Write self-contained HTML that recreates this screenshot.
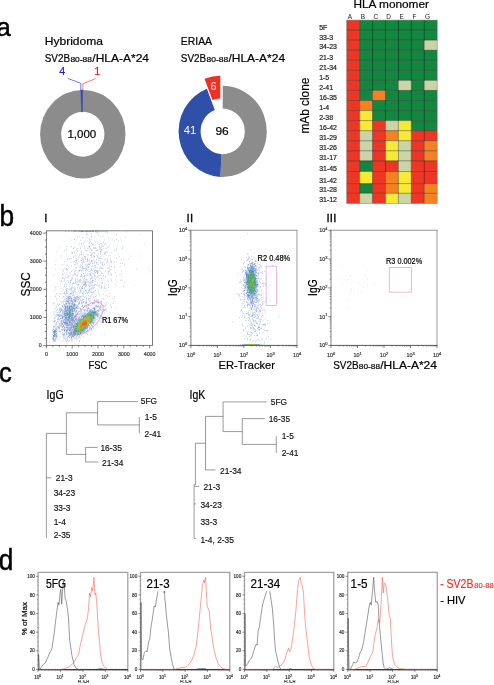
<!DOCTYPE html>
<html lang="en">
<head>
<meta charset="utf-8">
<title>Figure</title>
<style>
html,body{margin:0;padding:0;background:#fff;}
body{width:494px;height:685px;overflow:hidden;}
svg{display:block;font-family:"Liberation Sans",sans-serif;}
</style>
</head>
<body>
<svg width="494" height="685" viewBox="0 0 494 685">
<rect width="494" height="685" fill="#fff"/>
<g id="panel-a">
<text transform="translate(-3.40,35.70) scale(0.97,1)" font-size="26.5" stroke="#000" stroke-width="0.5">a</text>
<ellipse cx="82.8" cy="134.2" rx="42.7" ry="44.2" fill="#8c8c8c"/>
<ellipse cx="82.8" cy="134.2" rx="21.6" ry="22.5" fill="#fff"/>
<path d="M80.9 90L82.6 90L82.4 112L81.6 112Z" fill="#3049b8" stroke="#3049b8" stroke-width="0.5"/>
<path d="M68 78.5L80.8 83.3V91" fill="none" stroke="#2b3fe0" stroke-width="0.7"/>
<path d="M95.8 78.5L82.9 83.7V90.5" fill="none" stroke="#f0433a" stroke-width="0.7"/>
<text x="44.70" y="45.30" font-size="11.00" textLength="58.30" lengthAdjust="spacingAndGlyphs" stroke="#000" stroke-width="0.2">Hybridoma</text>
<text x="44.70" y="62.20" font-size="11.20" textLength="25.30" lengthAdjust="spacingAndGlyphs" stroke="#000" stroke-width="0.2">SV2B</text>
<text x="70.40" y="62.20" font-size="7.20" textLength="21.60" lengthAdjust="spacingAndGlyphs" stroke="#000" stroke-width="0.2">80-88</text>
<text x="92.30" y="62.20" font-size="11.20" textLength="56.70" lengthAdjust="spacingAndGlyphs" stroke="#000" stroke-width="0.2">/HLA-A*24</text>
<text x="59.20" y="75.10" font-size="10.80" fill="#1a1aee" stroke="#1a1aee" stroke-width="0.2">4</text>
<text x="94.20" y="75.10" font-size="10.80" fill="#f01c1c" stroke="#f01c1c" stroke-width="0.2">1</text>
<text x="67.40" y="138.20" font-size="11.40" textLength="28.80" lengthAdjust="spacingAndGlyphs" stroke="#000" stroke-width="0.2">1,000</text>
<path d="M222.70 85.80A44.1 45.6 0 1 1 220.39 176.94L221.54 154.17A22.1 22.8 0 1 0 222.70 108.60Z" fill="#8c8c8c"/>
<path d="M220.39 176.94A44.1 45.6 0 0 1 206.90 88.83L214.78 110.11A22.1 22.8 0 0 0 221.54 154.17Z" fill="#2f4fa8"/>
<path d="M204.50 78.73A44.1 45.6 0 0 1 220.30 75.70L220.30 98.50A22.1 22.8 0 0 0 212.38 100.01Z" fill="#ee3124"/>
<text x="210.40" y="89.90" font-size="11.40" textLength="6.00" lengthAdjust="spacingAndGlyphs" fill="#fff">6</text>
<text x="183.80" y="134.40" font-size="11.40" textLength="12.50" lengthAdjust="spacingAndGlyphs" fill="#fff">41</text>
<text x="215.40" y="135.40" font-size="11.40" textLength="13.30" lengthAdjust="spacingAndGlyphs" stroke="#000" stroke-width="0.2">96</text>
<text x="180.80" y="45.30" font-size="11.00" textLength="31.20" lengthAdjust="spacingAndGlyphs" stroke="#000" stroke-width="0.2">ERIAA</text>
<text x="180.80" y="62.20" font-size="11.20" textLength="25.30" lengthAdjust="spacingAndGlyphs" stroke="#000" stroke-width="0.2">SV2B</text>
<text x="206.50" y="62.20" font-size="7.20" textLength="21.60" lengthAdjust="spacingAndGlyphs" stroke="#000" stroke-width="0.2">80-88</text>
<text x="228.40" y="62.20" font-size="11.20" textLength="56.70" lengthAdjust="spacingAndGlyphs" stroke="#000" stroke-width="0.2">/HLA-A*24</text>
<text x="353.40" y="8.20" font-size="11.00" textLength="75.60" lengthAdjust="spacingAndGlyphs" stroke="#000" stroke-width="0.2">HLA monomer</text>
<text transform="translate(309.0,133.6) rotate(-90)" font-size="12" textLength="56" lengthAdjust="spacingAndGlyphs" stroke="#000" stroke-width="0.2">mAb clone</text>
<rect x="346.70" y="20.10" width="12.93" height="10.10" fill="#ee3624"/>
<rect x="359.63" y="20.10" width="77.58" height="10.10" fill="#11873f"/>
<rect x="346.70" y="30.15" width="12.93" height="10.10" fill="#ee3624"/>
<rect x="359.63" y="30.15" width="77.58" height="10.10" fill="#11873f"/>
<rect x="346.70" y="40.20" width="12.93" height="10.10" fill="#ee3624"/>
<rect x="359.63" y="40.20" width="64.65" height="10.10" fill="#11873f"/>
<rect x="424.28" y="40.20" width="12.93" height="10.10" fill="#cad4a5"/>
<rect x="346.70" y="50.25" width="12.93" height="10.10" fill="#ee3624"/>
<rect x="359.63" y="50.25" width="77.58" height="10.10" fill="#11873f"/>
<rect x="346.70" y="60.30" width="12.93" height="10.10" fill="#ee3624"/>
<rect x="359.63" y="60.30" width="77.58" height="10.10" fill="#11873f"/>
<rect x="346.70" y="70.35" width="12.93" height="10.10" fill="#ee3624"/>
<rect x="359.63" y="70.35" width="77.58" height="10.10" fill="#11873f"/>
<rect x="346.70" y="80.40" width="12.93" height="10.10" fill="#ee3624"/>
<rect x="359.63" y="80.40" width="38.79" height="10.10" fill="#11873f"/>
<rect x="398.42" y="80.40" width="12.93" height="10.10" fill="#cad4a5"/>
<rect x="411.35" y="80.40" width="12.93" height="10.10" fill="#11873f"/>
<rect x="424.28" y="80.40" width="12.93" height="10.10" fill="#cad4a5"/>
<rect x="346.70" y="90.45" width="12.93" height="10.10" fill="#ee3624"/>
<rect x="359.63" y="90.45" width="12.93" height="10.10" fill="#11873f"/>
<rect x="372.56" y="90.45" width="12.93" height="10.10" fill="#f58220"/>
<rect x="385.49" y="90.45" width="51.72" height="10.10" fill="#11873f"/>
<rect x="346.70" y="100.50" width="12.93" height="10.10" fill="#ee3624"/>
<rect x="359.63" y="100.50" width="12.93" height="10.10" fill="#f58220"/>
<rect x="372.56" y="100.50" width="64.65" height="10.10" fill="#11873f"/>
<rect x="346.70" y="110.55" width="12.93" height="10.10" fill="#ee3624"/>
<rect x="359.63" y="110.55" width="12.93" height="10.10" fill="#f6ea36"/>
<rect x="372.56" y="110.55" width="64.65" height="10.10" fill="#11873f"/>
<rect x="346.70" y="120.60" width="12.93" height="10.10" fill="#ee3624"/>
<rect x="359.63" y="120.60" width="12.93" height="10.10" fill="#f6ea36"/>
<rect x="372.56" y="120.60" width="12.93" height="10.10" fill="#ee3624"/>
<rect x="385.49" y="120.60" width="12.93" height="10.10" fill="#cad4a5"/>
<rect x="398.42" y="120.60" width="12.93" height="10.10" fill="#f6ea36"/>
<rect x="411.35" y="120.60" width="25.86" height="10.10" fill="#11873f"/>
<rect x="346.70" y="130.65" width="12.93" height="10.10" fill="#ee3624"/>
<rect x="359.63" y="130.65" width="12.93" height="10.10" fill="#cad4a5"/>
<rect x="372.56" y="130.65" width="12.93" height="10.10" fill="#ee3624"/>
<rect x="385.49" y="130.65" width="12.93" height="10.10" fill="#f58220"/>
<rect x="398.42" y="130.65" width="12.93" height="10.10" fill="#f6ea36"/>
<rect x="411.35" y="130.65" width="25.86" height="10.10" fill="#ee3624"/>
<rect x="346.70" y="140.70" width="12.93" height="10.10" fill="#ee3624"/>
<rect x="359.63" y="140.70" width="12.93" height="10.10" fill="#cad4a5"/>
<rect x="372.56" y="140.70" width="12.93" height="10.10" fill="#ee3624"/>
<rect x="385.49" y="140.70" width="12.93" height="10.10" fill="#f6ea36"/>
<rect x="398.42" y="140.70" width="12.93" height="10.10" fill="#cad4a5"/>
<rect x="411.35" y="140.70" width="12.93" height="10.10" fill="#ee3624"/>
<rect x="424.28" y="140.70" width="12.93" height="10.10" fill="#f58220"/>
<rect x="346.70" y="150.75" width="12.93" height="10.10" fill="#ee3624"/>
<rect x="359.63" y="150.75" width="12.93" height="10.10" fill="#cad4a5"/>
<rect x="372.56" y="150.75" width="12.93" height="10.10" fill="#ee3624"/>
<rect x="385.49" y="150.75" width="12.93" height="10.10" fill="#f6ea36"/>
<rect x="398.42" y="150.75" width="12.93" height="10.10" fill="#cad4a5"/>
<rect x="411.35" y="150.75" width="12.93" height="10.10" fill="#ee3624"/>
<rect x="424.28" y="150.75" width="12.93" height="10.10" fill="#f58220"/>
<rect x="346.70" y="160.80" width="12.93" height="10.75" fill="#ee3624"/>
<rect x="359.63" y="160.80" width="12.93" height="10.75" fill="#11873f"/>
<rect x="372.56" y="160.80" width="25.86" height="10.75" fill="#ee3624"/>
<rect x="398.42" y="160.80" width="12.93" height="10.75" fill="#cad4a5"/>
<rect x="411.35" y="160.80" width="25.86" height="10.75" fill="#ee3624"/>
<rect x="346.70" y="171.50" width="12.93" height="12.15" fill="#ee3624"/>
<rect x="359.63" y="171.50" width="12.93" height="12.15" fill="#f6ea36"/>
<rect x="372.56" y="171.50" width="12.93" height="12.15" fill="#ee3624"/>
<rect x="385.49" y="171.50" width="12.93" height="12.15" fill="#f58220"/>
<rect x="398.42" y="171.50" width="12.93" height="12.15" fill="#f6ea36"/>
<rect x="411.35" y="171.50" width="25.86" height="12.15" fill="#ee3624"/>
<rect x="346.70" y="183.60" width="12.93" height="9.75" fill="#ee3624"/>
<rect x="359.63" y="183.60" width="12.93" height="9.75" fill="#11873f"/>
<rect x="372.56" y="183.60" width="12.93" height="9.75" fill="#ee3624"/>
<rect x="385.49" y="183.60" width="12.93" height="9.75" fill="#f58220"/>
<rect x="398.42" y="183.60" width="12.93" height="9.75" fill="#f6ea36"/>
<rect x="411.35" y="183.60" width="12.93" height="9.75" fill="#ee3624"/>
<rect x="424.28" y="183.60" width="12.93" height="9.75" fill="#f58220"/>
<rect x="346.70" y="193.30" width="12.93" height="10.25" fill="#ee3624"/>
<rect x="359.63" y="193.30" width="12.93" height="10.25" fill="#cad4a5"/>
<rect x="372.56" y="193.30" width="12.93" height="10.25" fill="#ee3624"/>
<rect x="385.49" y="193.30" width="12.93" height="10.25" fill="#f6ea36"/>
<rect x="398.42" y="193.30" width="12.93" height="10.25" fill="#cad4a5"/>
<rect x="411.35" y="193.30" width="12.93" height="10.25" fill="#ee3624"/>
<rect x="424.28" y="193.30" width="12.93" height="10.25" fill="#f58220"/>
<path d="M346.70 30.15H437.21M346.70 40.20H437.21M346.70 50.25H437.21M346.70 60.30H437.21M346.70 70.35H437.21M346.70 80.40H437.21M346.70 90.45H437.21M346.70 100.50H437.21M346.70 110.55H437.21M346.70 120.60H437.21M346.70 130.65H437.21M346.70 140.70H437.21M346.70 150.75H437.21M346.70 160.80H437.21M346.70 171.50H437.21M346.70 183.60H437.21M346.70 193.30H437.21M359.63 20.10V203.50M372.56 20.10V203.50M385.49 20.10V203.50M398.42 20.10V203.50M411.35 20.10V203.50M424.28 20.10V203.50" stroke="#000" stroke-opacity="0.6" stroke-width="0.6" fill="none"/>
<rect x="346.7" y="20.1" width="90.51" height="183.40" fill="none" stroke="#777" stroke-opacity="0.8" stroke-width="0.6"/>
<text x="319.20" y="29.60" font-size="6.70" textLength="8.12" lengthAdjust="spacingAndGlyphs" fill="#222" stroke="#222" stroke-width="0.2">5F</text>
<text x="319.20" y="39.50" font-size="6.70" textLength="13.93" lengthAdjust="spacingAndGlyphs" fill="#222" stroke="#222" stroke-width="0.2">33-3</text>
<text x="319.20" y="49.40" font-size="6.70" textLength="17.80" lengthAdjust="spacingAndGlyphs" fill="#222" stroke="#222" stroke-width="0.2">34-23</text>
<text x="319.20" y="59.60" font-size="6.70" textLength="13.93" lengthAdjust="spacingAndGlyphs" fill="#222" stroke="#222" stroke-width="0.2">21-3</text>
<text x="319.20" y="69.80" font-size="6.70" textLength="17.80" lengthAdjust="spacingAndGlyphs" fill="#222" stroke="#222" stroke-width="0.2">21-34</text>
<text x="319.20" y="79.50" font-size="6.70" textLength="10.06" lengthAdjust="spacingAndGlyphs" fill="#222" stroke="#222" stroke-width="0.2">1-5</text>
<text x="319.20" y="89.70" font-size="6.70" textLength="13.93" lengthAdjust="spacingAndGlyphs" fill="#222" stroke="#222" stroke-width="0.2">2-41</text>
<text x="319.20" y="99.60" font-size="6.70" textLength="17.80" lengthAdjust="spacingAndGlyphs" fill="#222" stroke="#222" stroke-width="0.2">16-35</text>
<text x="319.20" y="109.70" font-size="6.70" textLength="10.06" lengthAdjust="spacingAndGlyphs" fill="#222" stroke="#222" stroke-width="0.2">1-4</text>
<text x="319.20" y="119.70" font-size="6.70" textLength="13.93" lengthAdjust="spacingAndGlyphs" fill="#222" stroke="#222" stroke-width="0.2">2-38</text>
<text x="319.20" y="129.90" font-size="6.70" textLength="17.80" lengthAdjust="spacingAndGlyphs" fill="#222" stroke="#222" stroke-width="0.2">16-42</text>
<text x="319.20" y="140.10" font-size="6.70" textLength="17.80" lengthAdjust="spacingAndGlyphs" fill="#222" stroke="#222" stroke-width="0.2">31-29</text>
<text x="319.20" y="150.00" font-size="6.70" textLength="17.80" lengthAdjust="spacingAndGlyphs" fill="#222" stroke="#222" stroke-width="0.2">31-26</text>
<text x="319.20" y="159.90" font-size="6.70" textLength="17.80" lengthAdjust="spacingAndGlyphs" fill="#222" stroke="#222" stroke-width="0.2">31-17</text>
<text x="319.20" y="171.30" font-size="6.70" textLength="17.80" lengthAdjust="spacingAndGlyphs" fill="#222" stroke="#222" stroke-width="0.2">31-45</text>
<text x="319.20" y="182.60" font-size="6.70" textLength="17.80" lengthAdjust="spacingAndGlyphs" fill="#222" stroke="#222" stroke-width="0.2">31-42</text>
<text x="319.20" y="192.20" font-size="6.70" textLength="17.80" lengthAdjust="spacingAndGlyphs" fill="#222" stroke="#222" stroke-width="0.2">31-28</text>
<text x="319.20" y="201.60" font-size="6.70" textLength="17.80" lengthAdjust="spacingAndGlyphs" fill="#222" stroke="#222" stroke-width="0.2">31-12</text>
<text x="349.90" y="19.40" font-size="6.50" text-anchor="middle" fill="#222">A</text>
<text x="362.83" y="19.40" font-size="6.50" text-anchor="middle" fill="#222">B</text>
<text x="375.76" y="19.40" font-size="6.50" text-anchor="middle" fill="#222">C</text>
<text x="388.69" y="19.40" font-size="6.50" text-anchor="middle" fill="#222">D</text>
<text x="401.62" y="19.40" font-size="6.50" text-anchor="middle" fill="#222">E</text>
<text x="414.55" y="19.40" font-size="6.50" text-anchor="middle" fill="#222">F</text>
<text x="427.48" y="19.40" font-size="6.50" text-anchor="middle" fill="#222">G</text>
</g>
<g id="panel-b">
<text transform="translate(-0.60,226.00) scale(0.9,1)" font-size="29.2" stroke="#000" stroke-width="0.5">b</text>
<text x="44.30" y="222.00" font-size="11.40" stroke="#000" stroke-width="0.3">I</text>
<path d="M96.8 307.2h0.5M91.6 325.4h0.5M79.1 337.2h0.5M71.2 338.8h0.5M74.7 338.9h0.5M66.5 340.9h0.5M95.8 309.1h0.5M79.3 336.4h0.5M101.6 310.5h0.5M95.7 310.3h0.5M88.5 308.5h0.5M101.6 312.0h0.5M70.3 336.6h0.5M88.8 311.9h0.5M99.1 311.0h0.5M89.9 328.0h0.5M100.9 316.5h0.5M72.1 339.8h0.5M72.7 338.0h0.5M69.4 337.6h0.5M103.0 311.7h0.5M89.8 309.7h0.5M101.3 309.9h0.5M98.2 317.8h0.5M97.8 318.6h0.5M100.3 309.6h0.5M100.7 306.8h0.5M95.9 305.1h0.5M89.6 327.2h0.5M70.9 338.8h0.5M99.9 302.4h0.5M91.4 328.6h0.5M90.5 327.1h0.5M94.7 320.7h0.5M91.6 325.7h0.5M87.8 330.0h0.5M77.8 320.1h0.5M104.5 313.1h0.5M89.7 328.2h0.5M78.0 336.9h0.5M92.4 325.7h0.5M93.0 323.4h0.5M96.0 315.1h0.5M95.9 319.2h0.5M94.6 303.8h0.5M75.8 338.4h0.5M94.9 320.9h0.5M97.0 316.4h0.5M87.6 309.8h0.5M114.2 296.8h0.5M95.7 296.5h0.5M100.4 308.3h0.5M91.9 326.8h0.5M85.2 334.1h0.5M69.5 337.5h0.5M112.1 303.6h0.5M103.7 299.6h0.5M87.1 334.3h0.5M103.6 310.2h0.5M98.4 302.4h0.5M123.4 286.5h0.5M71.1 341.1h0.5M99.7 304.0h0.5M62.5 327.2h0.5M76.8 336.5h0.5M110.1 312.7h0.5M95.7 322.6h0.5M94.6 302.6h0.5M83.8 310.4h0.5M91.1 305.2h0.5M76.5 338.3h0.5M97.0 303.8h0.5M86.9 334.1h0.5M101.4 301.6h0.5M94.5 300.1h0.5M81.2 302.5h0.5M73.9 337.0h0.5M77.5 314.1h0.5M72.9 336.9h0.5M65.8 339.4h0.5M77.7 338.9h0.5M64.2 338.1h0.5M98.3 311.5h0.5M68.5 336.3h0.5M98.5 300.7h0.5M67.7 336.5h0.5M81.2 335.6h0.5M110.0 305.1h0.5M101.2 322.1h0.5M67.5 334.2h0.5M100.4 307.4h0.5M65.2 341.2h0.5M86.3 306.9h0.5M83.6 336.8h0.5M99.5 308.2h0.5M100.2 305.5h0.5M88.8 305.2h0.5M81.6 309.1h0.5M105.0 309.6h0.5M98.0 304.9h0.5M101.8 317.5h0.5M99.1 308.6h0.5M102.9 309.5h0.5M88.4 305.6h0.5M104.7 307.1h0.5M98.8 306.2h0.5M96.4 324.4h0.5M101.2 304.0h0.5M102.9 310.3h0.5M92.8 327.3h0.5M62.0 334.7h0.5M104.1 310.8h0.5M90.9 329.8h0.5M63.3 337.2h0.5M101.4 300.9h0.5M69.0 340.3h0.5M87.6 330.4h0.5M67.5 339.0h0.5M83.0 307.5h0.5M93.9 322.3h0.5M84.0 306.2h0.5M86.1 302.3h0.5M101.1 318.4h0.5M86.3 331.6h0.5M87.8 331.8h0.5M76.3 336.7h0.5M91.6 328.7h0.5M87.4 310.7h0.5M105.0 304.4h0.5M109.3 296.5h0.5M88.7 305.7h0.5M84.5 305.3h0.5M86.9 310.2h0.5M99.9 310.0h0.5M106.8 309.8h0.5M113.2 301.4h0.5M79.4 313.9h0.5M84.1 309.8h0.5M67.2 331.7h0.5M98.0 303.3h0.5M89.2 328.8h0.5M83.9 313.5h0.5M100.6 316.5h0.5M94.2 328.0h0.5M99.8 322.0h0.5M84.8 310.1h0.5M99.7 321.0h0.5M88.6 300.0h0.5M67.4 340.5h0.5M100.7 312.8h0.5M104.7 288.4h0.5M86.2 333.1h0.5M80.9 312.2h0.5M78.7 313.6h0.5M86.5 306.3h0.5M85.3 309.6h0.5M110.7 303.0h0.5M64.4 333.4h0.5M107.3 302.6h0.5M88.0 307.5h0.5M77.9 338.1h0.5M74.8 337.7h0.5M107.1 320.1h0.5M84.4 310.8h0.5M96.7 301.2h0.5M101.9 305.1h0.5M98.9 314.3h0.5M98.1 312.0h0.5M89.0 338.8h0.5M111.1 308.0h0.5M80.9 313.7h0.5M71.4 340.0h0.5M83.0 307.9h0.5M77.5 314.3h0.5M113.9 299.6h0.5M85.9 310.7h0.5M98.5 306.8h0.5M103.5 306.2h0.5M89.5 329.2h0.5M105.6 310.0h0.5M95.8 301.2h0.5M100.7 315.2h0.5M97.8 313.5h0.5M92.5 326.5h0.5M99.0 310.0h0.5M96.9 323.0h0.5M105.8 308.6h0.5M98.6 301.8h0.5M93.2 324.9h0.5M82.6 337.1h0.5M96.8 319.5h0.5M76.5 340.0h0.5M101.2 307.8h0.5M97.5 317.4h0.5M67.2 339.4h0.5M98.7 311.0h0.5M97.7 302.6h0.5M103.2 305.7h0.5M89.9 305.5h0.5M98.9 320.9h0.5M106.2 302.8h0.5M80.5 309.3h0.5M63.5 335.4h0.5M83.9 333.3h0.5M76.5 314.7h0.5M80.7 313.7h0.5M99.9 315.3h0.5M101.1 302.3h0.5M90.8 330.7h0.5M93.6 304.8h0.5M96.3 305.7h0.5M101.4 304.7h0.5M83.7 311.1h0.5M95.2 296.2h0.5M86.3 303.6h0.5M80.3 315.8h0.5M85.8 304.8h0.5M98.5 315.1h0.5M103.9 303.2h0.5M96.3 300.0h0.5M79.8 338.7h0.5M99.1 315.8h0.5M67.7 303.5h0.5M75.5 300.2h0.5M78.3 314.7h0.5M61.0 321.4h0.5M61.9 310.3h0.5M63.8 300.4h0.5M62.2 324.7h0.5M68.6 302.9h0.5M67.0 337.7h0.5M62.3 313.3h0.5M60.8 308.5h0.5M78.1 299.5h0.5M61.8 306.1h0.5M62.6 301.5h0.5M60.7 326.2h0.5M59.1 309.8h0.5M67.7 298.9h0.5M75.8 305.0h0.5M71.8 287.1h0.5M77.8 316.2h0.5M74.8 315.6h0.5M79.7 315.3h0.5M75.7 294.1h0.5M74.8 301.6h0.5M66.9 288.4h0.5M65.3 295.7h0.5M69.5 303.4h0.5M62.3 297.6h0.5M61.2 320.4h0.5M79.5 302.7h0.5M67.3 302.5h0.5M62.6 318.3h0.5M66.6 332.9h0.5M65.6 303.6h0.5M73.6 299.6h0.5M63.2 321.1h0.5M59.7 323.7h0.5M72.8 291.1h0.5M62.0 305.6h0.5M73.0 302.9h0.5M69.0 299.0h0.5M77.5 294.5h0.5M64.6 301.7h0.5M76.4 305.8h0.5M70.4 300.6h0.5M57.7 319.3h0.5M60.6 315.1h0.5M70.2 302.0h0.5M77.3 306.7h0.5M79.4 301.9h0.5M71.2 292.4h0.5M73.0 295.0h0.5M65.8 334.4h0.5M71.7 302.0h0.5M63.2 307.5h0.5M70.4 282.6h0.5M64.7 304.9h0.5M74.6 303.7h0.5M76.3 297.0h0.5M62.5 319.2h0.5M78.2 299.9h0.5M59.8 312.3h0.5M76.2 317.7h0.5M63.8 308.6h0.5M78.7 308.5h0.5M77.0 304.7h0.5M63.5 304.3h0.5M71.7 325.1h0.5M62.8 333.7h0.5M62.4 332.2h0.5M66.4 298.5h0.5M77.9 304.8h0.5M63.0 301.7h0.5M58.3 322.0h0.5M72.4 296.0h0.5M77.7 306.3h0.5M53.6 302.4h0.5M66.0 342.0h0.5M64.2 327.6h0.5M53.6 327.3h0.5M68.9 303.1h0.5M56.4 299.8h0.5M59.7 308.9h0.5M63.3 322.3h0.5M78.0 311.8h0.5M62.4 330.3h0.5M59.6 331.8h0.5M57.0 327.9h0.5M66.1 334.4h0.5M60.6 320.1h0.5M59.0 327.3h0.5M63.2 328.8h0.5M63.3 337.8h0.5M62.6 334.4h0.5M74.9 318.6h0.5M61.0 329.6h0.5M53.7 303.5h0.5M65.3 339.3h0.5M68.3 337.1h0.5M74.0 297.4h0.5M58.4 314.9h0.5M64.7 338.1h0.5M56.6 310.8h0.5M59.6 327.0h0.5M60.2 325.3h0.5M55.5 325.1h0.5M56.7 323.1h0.5M54.1 318.1h0.5M63.3 340.4h0.5M65.7 301.9h0.5M58.5 326.9h0.5M53.6 341.1h0.5M56.8 314.6h0.5M58.5 311.2h0.5M59.7 336.7h0.5M61.5 325.9h0.5M59.5 310.8h0.5M58.5 329.0h0.5M65.4 328.1h0.5M62.5 317.7h0.5M60.7 314.0h0.5M68.3 297.5h0.5M55.8 316.6h0.5M74.4 313.0h0.5M59.0 314.4h0.5M59.2 308.5h0.5M57.5 326.8h0.5M61.8 327.3h0.5M61.3 329.8h0.5M54.2 314.9h0.5M66.7 337.1h0.5M59.2 331.3h0.5M62.1 306.4h0.5M57.4 309.4h0.5M60.3 331.5h0.5M71.5 303.6h0.5M57.4 319.3h0.5M67.5 297.4h0.5M59.7 321.1h0.5M60.3 322.0h0.5M58.7 312.6h0.5M56.4 323.0h0.5M60.7 318.4h0.5M53.9 321.5h0.5M58.5 305.3h0.5M65.0 301.6h0.5M79.6 287.6h0.5M64.4 331.4h0.5M62.9 311.5h0.5M60.1 318.0h0.5M59.4 304.7h0.5M60.7 318.4h0.5M63.5 310.3h0.5M62.7 329.5h0.5M64.5 334.7h0.5M64.7 318.1h0.5M55.3 320.9h0.5M55.7 324.4h0.5M58.1 319.1h0.5M57.6 321.3h0.5M61.1 324.1h0.5M76.7 301.6h0.5M66.4 338.8h0.5M58.0 320.0h0.5M61.3 324.1h0.5M67.7 297.8h0.5M76.9 312.6h0.5M70.6 288.5h0.5M59.0 316.0h0.5M64.7 336.5h0.5M55.8 331.5h0.5M68.2 341.4h0.5M57.3 339.4h0.5M62.1 312.0h0.5M75.7 313.4h0.5M79.3 316.7h0.5M65.1 332.4h0.5M59.9 330.3h0.5M77.6 314.1h0.5M59.3 304.4h0.5M58.2 319.1h0.5M80.3 309.0h0.5M60.0 325.2h0.5M57.4 312.6h0.5M63.6 334.9h0.5M54.8 311.7h0.5M55.6 308.0h0.5M56.4 306.3h0.5M65.4 335.8h0.5M73.8 297.6h0.5M55.8 329.5h0.5M55.2 316.1h0.5M82.7 313.2h0.5M61.3 326.1h0.5M58.4 315.3h0.5M57.2 315.2h0.5M66.3 335.4h0.5M62.8 303.7h0.5M62.2 327.3h0.5M54.7 317.8h0.5M66.3 331.7h0.5M59.9 339.6h0.5M54.8 320.8h0.5M60.3 311.5h0.5M54.4 323.5h0.5M56.9 315.0h0.5M59.4 325.2h0.5M61.0 302.9h0.5M62.9 310.9h0.5M56.2 310.5h0.5M60.4 326.7h0.5M62.4 336.7h0.5M55.8 307.2h0.5M68.3 300.3h0.5M58.9 312.8h0.5M53.4 321.9h0.5M60.6 308.0h0.5M64.0 299.1h0.5M58.3 316.3h0.5M58.6 331.2h0.5M77.6 289.9h0.5M66.5 290.4h0.5M56.0 324.3h0.5M79.3 302.0h0.5M74.4 286.7h0.5M53.0 326.8h0.5M54.8 340.3h0.5M52.7 337.8h0.5M52.9 337.7h0.5M55.3 339.7h0.5M56.1 336.4h0.5M54.7 327.2h0.5M53.5 340.5h0.5M54.2 326.2h0.5M55.0 328.2h0.5M55.7 323.0h0.5M56.7 333.7h0.5M55.4 341.3h0.5M56.9 335.2h0.5M55.7 338.5h0.5M56.3 334.1h0.5M53.2 326.0h0.5M56.0 328.0h0.5M53.6 341.2h0.5M57.3 336.4h0.5M55.2 329.0h0.5M54.4 341.1h0.5M57.0 337.3h0.5M57.0 330.2h0.5M52.3 334.7h0.5M52.7 339.6h0.5M54.1 340.9h0.5M52.6 339.0h0.5M85.8 301.0h0.5M91.3 289.5h0.5M63.5 302.3h0.5M72.7 295.4h0.5M55.0 264.5h0.5M66.3 249.1h0.5M91.8 273.6h0.5M69.7 284.3h0.5M69.4 281.9h0.5M104.9 253.3h0.5M98.3 292.8h0.5M107.2 261.3h0.5M81.8 246.3h0.5M79.8 292.5h0.5M75.6 297.6h0.5M59.6 324.7h0.5M80.6 337.2h0.5M70.1 296.7h0.5M91.5 255.0h0.5M96.7 268.0h0.5M58.8 300.5h0.5M61.0 301.2h0.5M85.4 282.5h0.5M103.4 294.1h0.5M105.9 311.1h0.5M71.7 252.1h0.5M83.2 273.9h0.5M104.1 319.4h0.5M70.8 258.2h0.5M102.8 248.5h0.5M106.6 248.5h0.5M91.4 266.5h0.5M105.4 270.6h0.5M94.7 278.4h0.5M86.5 290.4h0.5M89.2 271.3h0.5M89.3 246.4h0.5M87.3 259.5h0.5M56.6 298.7h0.5M87.5 280.0h0.5M71.6 253.6h0.5M81.1 309.9h0.5M88.4 285.2h0.5M82.5 282.9h0.5M90.2 273.9h0.5M110.6 273.8h0.5M66.1 255.0h0.5M99.5 244.5h0.5M110.9 307.2h0.5M81.2 254.3h0.5M89.8 290.3h0.5M77.3 296.6h0.5M104.4 253.3h0.5M95.4 270.7h0.5M94.9 269.1h0.5M85.8 299.7h0.5M85.1 272.6h0.5M72.2 278.5h0.5M88.6 284.1h0.5M86.7 292.6h0.5M79.1 255.9h0.5M100.6 249.2h0.5M85.2 290.5h0.5M80.7 280.9h0.5M99.3 284.5h0.5M91.5 269.8h0.5M87.9 281.8h0.5M108.6 274.3h0.5M62.1 269.5h0.5M89.1 246.8h0.5M65.2 269.5h0.5M59.4 330.0h0.5M84.5 281.2h0.5M76.4 267.3h0.5M61.0 280.8h0.5M80.8 301.3h0.5M77.2 282.2h0.5M76.1 310.2h0.5M64.2 333.8h0.5M97.7 307.3h0.5M110.4 261.1h0.5M98.3 258.3h0.5M105.6 306.0h0.5M98.1 280.2h0.5M99.9 301.6h0.5M85.5 281.8h0.5M79.5 341.1h0.5M72.3 253.2h0.5M112.4 298.6h0.5M88.8 282.3h0.5M58.6 327.3h0.5M79.3 270.8h0.5M89.1 276.0h0.5M62.6 278.1h0.5M84.6 283.5h0.5M59.0 280.2h0.5M88.1 290.2h0.5M76.2 314.8h0.5M56.3 293.7h0.5M66.4 290.3h0.5M108.0 281.9h0.5M78.9 243.3h0.5M82.7 282.2h0.5M79.6 288.2h0.5M68.5 292.1h0.5M85.2 302.2h0.5M64.4 285.6h0.5M93.1 292.0h0.5M76.5 267.3h0.5M84.3 297.3h0.5M85.6 256.3h0.5M73.3 292.2h0.5M97.6 249.6h0.5M82.8 296.5h0.5M76.9 279.6h0.5M100.3 243.4h0.5M70.9 279.0h0.5M66.0 277.6h0.5M79.4 340.9h0.5M72.0 283.9h0.5M102.6 246.3h0.5M100.1 251.0h0.5M76.7 306.9h0.5M82.2 295.0h0.5M68.4 281.1h0.5M91.7 288.9h0.5M71.7 294.9h0.5M91.9 261.7h0.5M91.0 255.7h0.5M97.7 243.3h0.5M102.8 274.0h0.5M75.5 282.8h0.5M100.3 271.7h0.5M73.7 251.2h0.5M57.0 303.9h0.5M79.0 303.3h0.5M110.8 275.5h0.5M66.7 292.0h0.5M108.1 285.6h0.5M60.3 318.7h0.5M95.1 290.3h0.5M89.0 244.0h0.5M74.8 278.9h0.5M91.5 269.2h0.5M88.9 282.6h0.5M96.1 262.7h0.5M69.4 289.1h0.5M111.4 252.5h0.5M95.1 272.5h0.5M114.2 267.4h0.5M81.8 292.9h0.5M94.2 276.2h0.5M68.2 282.5h0.5M79.1 236.6h0.5M64.4 250.7h0.5M102.2 280.1h0.5M82.8 270.5h0.5M94.0 262.1h0.5M64.8 291.5h0.5M78.7 297.5h0.5M66.8 270.7h0.5M55.3 287.3h0.5M91.4 250.4h0.5M94.5 285.3h0.5M84.5 276.4h0.5M59.7 278.1h0.5M78.2 270.3h0.5M95.5 279.5h0.5M96.3 262.9h0.5M83.8 299.2h0.5M99.9 248.4h0.5M66.4 268.9h0.5M97.1 300.9h0.5M91.4 236.5h0.5M73.4 287.9h0.5M83.3 260.1h0.5M84.7 268.4h0.5M77.9 284.2h0.5M80.3 311.1h0.5M96.9 234.3h0.5M73.3 294.9h0.5M66.2 289.7h0.5M80.3 279.8h0.5M84.3 282.2h0.5M77.7 248.6h0.5M55.1 296.1h0.5M90.5 284.3h0.5M54.4 303.8h0.5M94.6 300.6h0.5M103.1 242.8h0.5M68.2 266.8h0.5M101.3 267.6h0.5M60.9 281.6h0.5M80.3 286.3h0.5M85.4 290.6h0.5M97.4 262.8h0.5M92.0 244.8h0.5M79.9 266.3h0.5M62.2 278.0h0.5M77.6 274.8h0.5M77.4 297.7h0.5M89.3 273.9h0.5M75.0 279.2h0.5M84.9 282.0h0.5M95.6 267.6h0.5M89.7 283.5h0.5M79.3 270.3h0.5M74.7 288.8h0.5M101.5 286.7h0.5M81.5 252.5h0.5M63.2 293.5h0.5M84.4 289.0h0.5M54.8 309.2h0.5M73.4 257.2h0.5M90.9 275.9h0.5M78.8 280.3h0.5M92.3 284.9h0.5M98.7 285.6h0.5M88.4 266.7h0.5M92.2 260.6h0.5M79.7 308.2h0.5M65.4 289.7h0.5M57.6 321.3h0.5M78.7 282.1h0.5M69.4 286.7h0.5M72.7 283.7h0.5M75.1 281.9h0.5M96.3 277.5h0.5M92.7 292.3h0.5M88.2 299.6h0.5M91.2 249.8h0.5M94.5 274.3h0.5M103.3 266.1h0.5M99.3 295.3h0.5M71.2 287.7h0.5M124.7 282.5h0.5M90.2 281.6h0.5M73.2 292.7h0.5M87.0 275.4h0.5M101.8 262.8h0.5M102.2 282.8h0.5M89.9 252.4h0.5M88.8 298.1h0.5M74.4 296.1h0.5M87.1 259.8h0.5M64.7 299.6h0.5M65.4 283.2h0.5M84.4 312.8h0.5M73.0 275.7h0.5M62.1 306.2h0.5M79.3 281.8h0.5M54.7 296.4h0.5M105.3 316.5h0.5M68.6 276.2h0.5M105.0 248.1h0.5M59.8 314.6h0.5M97.0 256.9h0.5M80.8 311.4h0.5M57.7 304.6h0.5M83.4 292.2h0.5M100.3 283.0h0.5M86.2 292.1h0.5M67.9 289.1h0.5M82.0 305.6h0.5M75.5 265.3h0.5M84.9 257.2h0.5M85.8 286.9h0.5M85.2 279.6h0.5M94.0 293.6h0.5M64.0 273.1h0.5M93.2 297.1h0.5M90.1 291.9h0.5M95.8 301.8h0.5M108.2 272.7h0.5M85.3 270.1h0.5M72.1 288.0h0.5M93.1 274.2h0.5M83.6 299.3h0.5M82.3 293.5h0.5M86.1 269.2h0.5M65.0 299.9h0.5M107.3 280.2h0.5M75.9 297.8h0.5M71.4 289.7h0.5M78.2 291.1h0.5M75.5 270.9h0.5M105.2 252.1h0.5M87.5 294.0h0.5M77.7 285.0h0.5M81.5 291.1h0.5M94.4 275.2h0.5M86.4 233.3h0.5M95.3 306.3h0.5M94.6 292.0h0.5M78.3 284.5h0.5M66.2 268.5h0.5M82.7 293.2h0.5M55.6 325.7h0.5M86.3 279.9h0.5M69.8 293.4h0.5M92.2 330.0h0.5M54.9 269.1h0.5M87.1 306.5h0.5M74.5 261.7h0.5M63.5 276.7h0.5M99.5 246.0h0.5M97.5 273.5h0.5M102.7 246.2h0.5M82.3 299.6h0.5M71.4 288.6h0.5M89.2 262.7h0.5M94.4 300.4h0.5M68.3 296.4h0.5M53.3 313.5h0.5M86.9 308.2h0.5M96.1 285.7h0.5M100.0 258.1h0.5M73.7 297.6h0.5M74.8 290.8h0.5M60.1 311.9h0.5M107.8 273.4h0.5M83.4 309.5h0.5M89.8 300.8h0.5M75.9 315.6h0.5M80.8 280.9h0.5M90.7 260.7h0.5M71.0 265.6h0.5M96.1 271.4h0.5M72.6 285.2h0.5M104.6 285.8h0.5M63.4 296.7h0.5M63.6 296.5h0.5M71.9 277.2h0.5M82.4 288.7h0.5M93.8 281.2h0.5M87.2 308.8h0.5M81.9 268.3h0.5M81.9 286.9h0.5M92.6 303.4h0.5M72.3 324.1h0.5M61.8 341.1h0.5M78.7 300.8h0.5M81.2 260.5h0.5M70.6 274.2h0.5M88.9 250.1h0.5M91.6 281.9h0.5M90.9 334.8h0.5M96.3 232.3h0.5M79.3 297.9h0.5M71.1 280.3h0.5M73.3 283.2h0.5M83.2 301.5h0.5M111.4 280.3h0.5M72.6 292.9h0.5M116.6 234.2h0.5M91.9 276.7h0.5M82.7 289.0h0.5M55.9 315.3h0.5M105.6 243.8h0.5M89.5 247.3h0.5M97.7 272.2h0.5M55.9 314.7h0.5M52.7 305.0h0.5M73.6 283.0h0.5M87.6 259.0h0.5M91.6 260.6h0.5M98.1 294.5h0.5M66.2 304.0h0.5M90.8 268.6h0.5M110.9 266.1h0.5M85.4 296.9h0.5M83.6 291.2h0.5M79.7 311.5h0.5M85.5 285.3h0.5M87.4 310.7h0.5M80.7 316.8h0.5M102.9 262.1h0.5M94.2 287.6h0.5M64.5 278.6h0.5M101.9 268.4h0.5M82.0 305.6h0.5M77.4 305.6h0.5M91.7 282.9h0.5M79.3 280.4h0.5M67.2 296.7h0.5M97.3 299.6h0.5M75.0 268.2h0.5M73.9 283.5h0.5M118.3 240.8h0.5M85.2 312.7h0.5M90.0 288.7h0.5M82.1 306.6h0.5M79.7 257.6h0.5M90.9 234.0h0.5M84.5 278.6h0.5M78.8 265.7h0.5M106.9 233.2h0.5M84.6 291.9h0.5M81.1 303.4h0.5M93.3 328.8h0.5M83.3 301.9h0.5M74.2 290.1h0.5M85.6 265.2h0.5M97.7 272.7h0.5M94.6 252.8h0.5M97.0 325.4h0.5M75.6 304.8h0.5M85.6 275.8h0.5M91.6 261.2h0.5M74.4 272.9h0.5M73.9 288.2h0.5M88.7 271.4h0.5M94.3 303.1h0.5M90.2 282.2h0.5M77.7 278.5h0.5M92.9 257.8h0.5M81.4 310.7h0.5M96.4 259.6h0.5M82.2 266.8h0.5M79.0 298.6h0.5M69.7 258.7h0.5M53.3 311.5h0.5M92.7 244.3h0.5M92.1 270.7h0.5M97.7 289.3h0.5M112.5 239.9h0.5M54.6 326.6h0.5M93.0 303.9h0.5M77.2 250.5h0.5M79.0 254.9h0.5M60.1 294.1h0.5M102.6 264.4h0.5M84.2 285.2h0.5M89.4 290.1h0.5M55.6 289.2h0.5M106.4 251.6h0.5M90.9 254.1h0.5M86.6 266.1h0.5M92.7 293.0h0.5M77.4 301.9h0.5M91.4 287.8h0.5M90.6 279.9h0.5M95.0 284.5h0.5M89.0 286.6h0.5M78.2 256.9h0.5M91.7 252.8h0.5M54.2 321.2h0.5M82.6 286.5h0.5M81.0 296.4h0.5M85.0 305.7h0.5M84.3 276.0h0.5M86.4 282.2h0.5M88.0 292.5h0.5M102.3 264.9h0.5M81.0 270.7h0.5M71.7 293.6h0.5M90.8 275.2h0.5M59.0 328.4h0.5M96.7 270.6h0.5M75.5 264.0h0.5M81.0 243.8h0.5M70.8 280.4h0.5M85.5 284.1h0.5M79.3 293.4h0.5M77.8 272.7h0.5M67.2 277.1h0.5M62.6 318.2h0.5M119.7 275.3h0.5M80.1 312.5h0.5M93.4 268.9h0.5M84.1 287.9h0.5M90.6 302.2h0.5M81.8 304.1h0.5M83.0 302.5h0.5M84.3 248.3h0.5M94.5 240.2h0.5M79.8 297.8h0.5M86.2 300.7h0.5M79.9 279.4h0.5M98.8 286.0h0.5M75.6 262.6h0.5M77.6 298.7h0.5M98.9 249.2h0.5M103.1 298.3h0.5M64.4 286.4h0.5M86.2 234.9h0.5M62.6 306.8h0.5M100.7 256.4h0.5M103.2 246.2h0.5M84.6 278.1h0.5M119.6 256.6h0.5M67.9 276.1h0.5M100.5 267.0h0.5M94.5 271.6h0.5M90.1 274.5h0.5M69.9 289.9h0.5M83.7 284.6h0.5M104.3 309.5h0.5M90.9 296.2h0.5M69.5 275.4h0.5M60.4 283.2h0.5M81.6 301.4h0.5M88.2 298.8h0.5M97.9 271.0h0.5M75.0 289.0h0.5M100.7 262.3h0.5M80.8 298.0h0.5M91.8 236.4h0.5M85.8 254.2h0.5M94.4 262.7h0.5M74.1 274.3h0.5M85.4 283.6h0.5M98.8 275.9h0.5M64.7 284.8h0.5M99.0 279.0h0.5M80.6 290.7h0.5M61.0 310.5h0.5M88.0 274.9h0.5M92.5 282.5h0.5M80.0 296.7h0.5M87.7 270.9h0.5M89.9 278.1h0.5M84.8 287.6h0.5M95.3 247.9h0.5M94.3 270.1h0.5M82.8 254.2h0.5M64.0 293.9h0.5M99.9 261.6h0.5M90.4 296.6h0.5M109.3 271.6h0.5M89.9 273.1h0.5M89.3 301.7h0.5M101.2 282.9h0.5M63.0 287.3h0.5M88.2 254.7h0.5M81.0 306.7h0.5M75.3 314.6h0.5M97.1 276.7h0.5M78.4 281.1h0.5M63.2 270.0h0.5M63.1 271.4h0.5M87.6 258.6h0.5M103.7 280.0h0.5M66.4 296.8h0.5M101.3 333.5h0.5M111.0 261.7h0.5M99.4 275.0h0.5M108.3 287.2h0.5M82.7 259.2h0.5M87.3 270.1h0.5M97.6 276.4h0.5M90.2 278.9h0.5M95.3 265.4h0.5M95.2 276.0h0.5M54.0 290.9h0.5M104.9 291.0h0.5M104.4 334.5h0.5M118.5 254.3h0.5M70.1 293.5h0.5M95.3 266.0h0.5M80.2 299.9h0.5M81.5 260.6h0.5M56.7 312.6h0.5M85.7 271.0h0.5M113.8 267.4h0.5M96.1 255.3h0.5M66.1 284.7h0.5M99.7 247.3h0.5M83.1 261.3h0.5M85.3 283.0h0.5M89.0 264.6h0.5M79.9 276.9h0.5M93.8 266.7h0.5M82.0 268.4h0.5M77.1 287.5h0.5M67.5 293.5h0.5M66.3 286.5h0.5M96.5 295.4h0.5M99.9 253.8h0.5M82.1 264.0h0.5M75.1 274.8h0.5M86.4 298.1h0.5M104.7 286.7h0.5M87.8 267.4h0.5M99.7 268.0h0.5M95.2 290.7h0.5M57.1 332.3h0.5M76.9 251.4h0.5M102.6 287.9h0.5M89.8 307.2h0.5M83.1 294.0h0.5M90.3 241.1h0.5M66.5 334.2h0.5M66.6 274.0h0.5M82.3 302.7h0.5M85.9 279.3h0.5M108.4 268.3h0.5M82.5 263.9h0.5M88.7 298.6h0.5M84.7 280.6h0.5M88.2 264.4h0.5M86.7 268.2h0.5M94.7 256.1h0.5M64.3 268.3h0.5M82.7 267.1h0.5M59.5 323.8h0.5M107.8 275.6h0.5M75.3 297.6h0.5M92.7 273.2h0.5M88.5 291.2h0.5M92.2 282.1h0.5M83.2 268.9h0.5M63.8 281.4h0.5M81.1 255.0h0.5M78.8 304.0h0.5M97.5 286.1h0.5M71.7 278.0h0.5M94.3 248.4h0.5M90.0 263.7h0.5M84.5 332.1h0.5M81.4 274.7h0.5M68.8 259.2h0.5M78.8 267.7h0.5M111.7 281.5h0.5M86.0 302.1h0.5M76.7 296.9h0.5M95.2 247.9h0.5M63.9 292.1h0.5M99.5 268.2h0.5M120.5 280.6h0.5M116.1 307.9h0.5M91.6 292.0h0.5M89.2 291.8h0.5M76.7 284.1h0.5M91.4 278.2h0.5M62.2 311.3h0.5M90.8 248.7h0.5M74.0 291.4h0.5M84.9 241.0h0.5M84.2 242.2h0.5M84.9 265.0h0.5M78.8 271.5h0.5M104.0 239.8h0.5M106.8 262.2h0.5M76.9 275.4h0.5M84.0 262.1h0.5M83.5 281.0h0.5M59.7 323.4h0.5M58.9 314.2h0.5M80.3 308.7h0.5M89.0 259.1h0.5M93.6 277.0h0.5M72.1 291.3h0.5M91.7 288.5h0.5M80.1 289.7h0.5M96.7 271.8h0.5M110.8 269.4h0.5M81.2 276.5h0.5M93.6 252.9h0.5M80.3 276.7h0.5M71.4 290.3h0.5M64.5 280.0h0.5M54.7 318.4h0.5M66.0 288.4h0.5M86.0 297.2h0.5M80.7 240.5h0.5M83.0 279.5h0.5M104.0 264.2h0.5M86.0 269.2h0.5M85.4 286.4h0.5M79.2 296.7h0.5M103.3 275.5h0.5M101.0 247.5h0.5M72.9 256.0h0.5M87.5 293.0h0.5M79.7 289.4h0.5M75.2 280.2h0.5M108.8 262.9h0.5M90.1 255.4h0.5M108.4 271.5h0.5M83.7 282.9h0.5M81.0 265.5h0.5M84.2 275.5h0.5M95.9 248.3h0.5M73.7 290.0h0.5M99.5 308.2h0.5M64.9 293.9h0.5M76.2 260.8h0.5M87.9 267.5h0.5M97.0 283.7h0.5M71.0 337.3h0.5M71.5 293.2h0.5M104.3 283.0h0.5M69.4 294.6h0.5M74.0 239.3h0.5M91.9 287.4h0.5M92.2 294.2h0.5M88.1 260.7h0.5M93.1 288.7h0.5M64.4 293.5h0.5M81.3 288.7h0.5M106.2 305.2h0.5M77.0 263.4h0.5M82.7 312.9h0.5M82.4 288.2h0.5M87.3 304.4h0.5M91.4 292.2h0.5M66.5 292.0h0.5M93.4 280.8h0.5M88.0 263.8h0.5M92.4 278.1h0.5M66.2 293.9h0.5M86.8 311.0h0.5M92.0 303.5h0.5M92.3 303.7h0.5M100.6 263.4h0.5M77.7 237.6h0.5M81.1 287.9h0.5M97.2 256.9h0.5M94.3 267.3h0.5M83.5 284.9h0.5M108.2 255.9h0.5M64.6 297.9h0.5M101.4 249.4h0.5M62.4 264.7h0.5M62.8 306.3h0.5M75.6 260.4h0.5M74.8 273.9h0.5M80.1 296.5h0.5M69.9 289.2h0.5M91.8 253.3h0.5M86.1 274.9h0.5M82.1 278.1h0.5M66.8 269.5h0.5M96.8 264.2h0.5M92.1 308.1h0.5M105.8 288.4h0.5M80.2 267.5h0.5M91.6 272.1h0.5M89.3 242.0h0.5M83.7 256.9h0.5M83.9 301.7h0.5M105.0 318.8h0.5M95.8 282.0h0.5M54.2 320.6h0.5M91.1 277.6h0.5M88.9 264.9h0.5M65.9 293.9h0.5M100.9 288.1h0.5M76.8 281.9h0.5M91.2 300.1h0.5M86.7 283.0h0.5M94.3 256.5h0.5M102.1 282.8h0.5M60.5 333.8h0.5M81.6 284.2h0.5M85.4 293.5h0.5M98.0 235.4h0.5M90.7 283.5h0.5M78.3 304.7h0.5M84.7 306.6h0.5M104.0 260.0h0.5M86.8 264.1h0.5M94.1 263.3h0.5M86.1 302.5h0.5M74.8 274.7h0.5M101.0 287.4h0.5M82.1 300.3h0.5M81.1 258.6h0.5M62.0 278.1h0.5M57.9 286.3h0.5M83.1 276.6h0.5M82.1 237.3h0.5M85.6 267.9h0.5M75.4 312.3h0.5M87.3 273.5h0.5M79.9 282.6h0.5M97.8 253.2h0.5M105.6 244.3h0.5M92.4 280.5h0.5M76.0 292.8h0.5M114.7 249.8h0.5M85.3 303.5h0.5M96.9 250.5h0.5M74.9 292.0h0.5M101.2 243.6h0.5M80.0 247.4h0.5M89.7 285.0h0.5M66.9 269.9h0.5M74.0 264.2h0.5M86.1 250.9h0.5M98.1 260.6h0.5M100.5 280.2h0.5M91.9 250.6h0.5M92.2 280.4h0.5M70.6 247.0h0.5M83.7 258.3h0.5M87.5 260.6h0.5M106.4 295.5h0.5M102.5 273.1h0.5M76.1 270.0h0.5M90.2 275.6h0.5M93.2 256.2h0.5M119.9 266.5h0.5M87.4 240.3h0.5M79.6 261.0h0.5M103.3 275.5h0.5M114.2 241.3h0.5M72.3 341.1h0.5M85.9 285.7h0.5M94.8 236.7h0.5M94.1 272.0h0.5M61.2 288.4h0.5M98.3 291.2h0.5M87.8 264.8h0.5M70.8 262.4h0.5M71.7 271.0h0.5M89.9 299.2h0.5M76.1 260.6h0.5M76.1 283.1h0.5M59.1 296.5h0.5M98.8 231.6h0.5M106.4 255.7h0.5M88.9 290.3h0.5M101.8 244.3h0.5M92.5 263.3h0.5M121.5 241.4h0.5M88.4 267.0h0.5M89.9 255.2h0.5M67.3 265.4h0.5M89.1 286.8h0.5M80.8 260.4h0.5M118.9 315.0h0.5M109.7 293.1h0.5M96.2 250.6h0.5M91.0 270.4h0.5M110.0 257.7h0.5M74.2 239.6h0.5M87.0 248.3h0.5M90.0 249.1h0.5M110.0 259.1h0.5M91.2 261.3h0.5M104.6 306.0h0.5M102.9 268.6h0.5M85.5 268.5h0.5M94.7 245.2h0.5M66.8 260.2h0.5M81.5 300.5h0.5M101.4 278.7h0.5M98.9 317.4h0.5M98.1 264.7h0.5M107.4 252.6h0.5M103.7 278.7h0.5M93.2 260.1h0.5M61.3 281.2h0.5M149.7 271.9h0.5M136.0 269.2h0.5M76.4 276.1h0.5M87.6 281.6h0.5M115.3 272.5h0.5M92.1 266.0h0.5M83.6 296.4h0.5M109.9 255.3h0.5M94.0 257.0h0.5M72.1 275.0h0.5M122.4 248.4h0.5M82.9 285.1h0.5M89.8 285.7h0.5M67.0 280.1h0.5M101.1 251.8h0.5M100.0 252.3h0.5M60.8 257.0h0.5M91.3 285.5h0.5M106.0 284.3h0.5M87.7 288.9h0.5M87.8 302.0h0.5M104.4 244.8h0.5M89.7 286.8h0.5M101.5 273.3h0.5M77.2 299.4h0.5M72.2 253.0h0.5M100.2 236.9h0.5M90.8 239.7h0.5M92.9 287.4h0.5M80.3 264.3h0.5M70.3 282.5h0.5M105.2 276.8h0.5M101.8 250.3h0.5M80.5 291.3h0.5M140.3 234.6h0.5M107.2 268.4h0.5M104.4 287.8h0.5M73.5 248.1h0.5M81.8 262.8h0.5M105.7 260.7h0.5M65.0 277.5h0.5M95.7 270.5h0.5M53.3 275.0h0.5M103.6 305.4h0.5M85.4 258.8h0.5M56.4 251.7h0.5M89.1 242.9h0.5M89.9 298.2h0.5M87.6 261.6h0.5M100.6 251.5h0.5M58.6 246.7h0.5M78.7 245.0h0.5M98.7 232.9h0.5M94.0 265.2h0.5M93.4 244.0h0.5M144.1 243.7h0.5M81.0 274.5h0.5M101.4 249.9h0.5M85.1 270.3h0.5M107.2 296.2h0.5M123.4 259.3h0.5M76.5 258.7h0.5M84.5 256.5h0.5M106.8 261.0h0.5M91.1 257.3h0.5M107.7 232.3h0.5M105.0 276.9h0.5M107.3 290.3h0.5M66.0 246.3h0.5M107.8 242.1h0.5M91.9 281.3h0.5M97.1 232.7h0.5M100.9 255.3h0.5M107.4 246.5h0.5M98.7 258.4h0.5M101.6 245.7h0.5M88.0 305.0h0.5M101.5 272.8h0.5M88.5 248.1h0.5M89.6 261.1h0.5M101.1 258.7h0.5M111.2 261.7h0.5M114.2 265.3h0.5M94.1 253.3h0.5M77.1 260.0h0.5M98.9 282.3h0.5M73.1 248.4h0.5M73.2 257.5h0.5M55.7 261.0h0.5M116.4 285.8h0.5M71.7 279.6h0.5M94.8 261.1h0.5M99.7 247.8h0.5M120.3 263.6h0.5M75.6 260.1h0.5M99.0 258.0h0.5M62.4 274.7h0.5M90.5 262.8h0.5M93.6 285.6h0.5M87.1 265.2h0.5M70.7 240.1h0.5M85.9 289.8h0.5M134.0 285.9h0.5M92.8 296.7h0.5M111.0 262.7h0.5M108.8 271.1h0.5M85.5 259.1h0.5M120.8 259.9h0.5M120.4 238.8h0.5M96.9 272.6h0.5M98.9 287.9h0.5M103.8 254.7h0.5M98.8 246.7h0.5M115.2 284.6h0.5M60.6 293.4h0.5M111.3 266.6h0.5M90.8 237.6h0.5M121.1 270.9h0.5M116.1 239.5h0.5M90.2 270.6h0.5M92.8 278.6h0.5M84.1 246.5h0.5M73.6 261.7h0.5M89.1 289.1h0.5M108.3 238.1h0.5M88.3 295.8h0.5M67.3 258.9h0.5M92.2 263.7h0.5M93.3 247.6h0.5M110.4 238.7h0.5M114.4 261.9h0.5M76.3 249.3h0.5M91.4 292.5h0.5M87.5 265.9h0.5M105.0 232.3h0.5M86.3 298.3h0.5M108.4 247.3h0.5M78.8 307.0h0.5M98.2 275.7h0.5M94.4 286.1h0.5M81.5 288.1h0.5M116.2 257.9h0.5M89.0 238.9h0.5M77.3 284.9h0.5M96.0 259.6h0.5M125.2 237.2h0.5M70.4 258.6h0.5M107.6 258.2h0.5M66.7 291.9h0.5M105.0 258.9h0.5M82.1 303.9h0.5M83.2 268.2h0.5M86.9 250.5h0.5M75.5 254.9h0.5M113.9 262.0h0.5M92.6 244.5h0.5M74.2 252.9h0.5M107.7 259.6h0.5M103.9 263.9h0.5M88.9 293.3h0.5M109.5 245.8h0.5M70.1 280.8h0.5M103.5 256.0h0.5M109.2 265.8h0.5M74.4 271.4h0.5M121.0 274.0h0.5M80.6 275.6h0.5M91.0 243.1h0.5M100.4 253.7h0.5M65.9 265.2h0.5M69.7 272.5h0.5M65.6 275.7h0.5M130.2 256.0h0.5M88.7 246.5h0.5M63.4 274.2h0.5M74.3 256.1h0.5M124.0 264.8h0.5M95.8 261.9h0.5M71.5 246.5h0.5M101.3 285.8h0.5M79.1 270.3h0.5M61.5 255.1h0.5M92.2 286.1h0.5M101.4 303.9h0.5M120.8 279.7h0.5M121.7 280.3h0.5M63.4 289.3h0.5M80.5 248.6h0.5M102.2 277.1h0.5M87.0 254.9h0.5M83.4 242.8h0.5M102.0 263.9h0.5M64.2 261.5h0.5M83.2 262.5h0.5M69.6 284.1h0.5M110.9 278.9h0.5M91.5 294.7h0.5M139.5 255.9h0.5M102.2 268.0h0.5M82.3 259.8h0.5M78.0 286.0h0.5M82.4 257.7h0.5M122.7 247.1h0.5M111.5 274.8h0.5M74.8 247.5h0.5M116.3 281.9h0.5M81.7 270.2h0.5M92.9 248.9h0.5M108.3 281.6h0.5M86.1 285.3h0.5M126.7 231.9h0.5M76.7 264.6h0.5M116.0 276.0h0.5M128.4 258.9h0.5M114.4 250.6h0.5M81.2 262.1h0.5M65.9 250.4h0.5M80.9 251.5h0.5M122.1 263.4h0.5M103.6 236.4h0.5M86.9 237.6h0.5M60.1 301.4h0.5M82.4 266.1h0.5M116.0 248.3h0.5M97.6 255.5h0.5M104.6 253.8h0.5M89.8 245.9h0.5M83.1 261.2h0.5M103.2 241.9h0.5M104.8 252.7h0.5M85.7 302.9h0.5M148.3 269.2h0.5M87.1 234.5h0.5M80.6 270.3h0.5M100.9 278.2h0.5M99.3 270.7h0.5M61.8 274.7h0.5M123.4 284.9h0.5M108.3 319.9h0.5M76.6 262.1h0.5M106.4 262.8h0.5M68.6 295.9h0.5M108.9 267.3h0.5M84.7 256.7h0.5M95.6 281.0h0.5M100.4 258.2h0.5M121.3 249.2h0.5M116.6 250.0h0.5M98.2 254.3h0.5M85.4 250.2h0.5M83.4 273.2h0.5M81.2 243.7h0.5M108.8 269.2h0.5M86.8 262.0h0.5M74.9 270.4h0.5M75.2 243.2h0.5M89.2 239.9h0.5M100.2 275.3h0.5M79.8 291.1h0.5M94.7 284.4h0.5M109.7 270.4h0.5M71.0 271.5h0.5M82.3 286.6h0.5M67.0 259.0h0.5M95.4 242.0h0.5M83.8 269.3h0.5" stroke="rgb(64,95,191)" stroke-width="0.5" stroke-opacity="0.95" fill="none"/>
<path d="M75.9 320.8h0.5M73.0 325.8h0.5M81.2 317.2h0.5M91.1 324.8h0.5M98.3 313.8h0.5M90.9 310.9h0.5M85.3 314.6h0.5M85.8 328.2h0.5M72.7 331.1h0.5M73.5 327.7h0.5M94.1 314.4h0.5M84.3 330.6h0.5M86.8 329.4h0.5M75.3 323.8h0.5M68.7 335.2h0.5M88.2 312.5h0.5M71.8 327.0h0.5M90.0 324.2h0.5M72.4 324.2h0.5M95.7 316.1h0.5M71.1 334.1h0.5M92.4 320.0h0.5M75.0 322.7h0.5M85.5 313.5h0.5M79.1 334.9h0.5M95.1 311.9h0.5M87.3 313.7h0.5M78.6 334.6h0.5M73.3 335.7h0.5M72.3 335.7h0.5M95.1 313.4h0.5M85.8 315.6h0.5M74.3 334.9h0.5M81.5 317.0h0.5M74.0 325.8h0.5M92.7 311.8h0.5M90.3 311.5h0.5M84.1 315.6h0.5M96.1 315.5h0.5M74.9 333.1h0.5M77.6 333.2h0.5M97.1 310.8h0.5M90.8 312.9h0.5M96.9 314.6h0.5M92.4 311.0h0.5M71.5 338.2h0.5M77.3 333.6h0.5M90.1 323.4h0.5M80.1 333.2h0.5M71.6 334.3h0.5M96.9 315.2h0.5M92.5 311.9h0.5M76.3 334.9h0.5M81.2 332.4h0.5M71.5 333.1h0.5M67.9 332.2h0.5M71.3 326.9h0.5M70.4 332.8h0.5M91.8 323.0h0.5M90.8 310.6h0.5M83.6 331.8h0.5M69.2 330.6h0.5M93.2 319.4h0.5M90.4 311.7h0.5M88.9 326.4h0.5M69.7 334.9h0.5M72.8 329.3h0.5M93.3 317.1h0.5M94.8 318.8h0.5M96.1 311.5h0.5M93.1 323.7h0.5M95.4 312.7h0.5M96.9 312.9h0.5M71.8 336.7h0.5M96.2 313.8h0.5M84.9 330.0h0.5M72.6 336.3h0.5M70.1 333.2h0.5M69.4 334.2h0.5M80.7 333.5h0.5M94.2 314.4h0.5M76.6 334.3h0.5M71.6 333.5h0.5M71.5 337.3h0.5M68.5 332.7h0.5M69.9 331.8h0.5M88.4 325.7h0.5M80.6 333.6h0.5M70.9 332.4h0.5M92.2 322.2h0.5M92.6 321.0h0.5M86.9 314.0h0.5M98.2 311.1h0.5M95.9 314.2h0.5M83.0 316.8h0.5M97.8 316.3h0.5M73.8 325.9h0.5M86.9 314.3h0.5M87.0 328.4h0.5M93.8 307.2h0.5M70.9 331.8h0.5M72.1 327.4h0.5M95.6 315.4h0.5M83.1 331.3h0.5M100.0 307.0h0.5M94.4 308.6h0.5M95.5 311.3h0.5M74.8 325.8h0.5M92.6 312.5h0.5M74.8 330.2h0.5M68.7 325.1h0.5M93.0 312.2h0.5M89.6 310.9h0.5M96.5 312.2h0.5M70.0 335.0h0.5M86.9 330.2h0.5M93.5 311.6h0.5M96.3 314.0h0.5M68.1 333.5h0.5M72.3 326.5h0.5M93.4 321.3h0.5M74.5 328.3h0.5M94.7 315.1h0.5M70.6 335.0h0.5M77.8 334.0h0.5M95.1 314.0h0.5M73.5 328.1h0.5M69.4 330.9h0.5M88.1 312.0h0.5M78.4 333.2h0.5M70.3 333.7h0.5M87.3 328.3h0.5M93.0 314.6h0.5M76.7 334.8h0.5M73.6 334.4h0.5M95.4 318.1h0.5M95.0 315.0h0.5M72.5 334.1h0.5M91.2 309.9h0.5M77.0 334.0h0.5M77.7 331.7h0.5M94.6 313.3h0.5M79.7 332.0h0.5M97.2 312.0h0.5M90.4 310.1h0.5M73.8 330.9h0.5M95.7 311.6h0.5M87.0 327.8h0.5M86.1 314.2h0.5M87.9 327.1h0.5M87.3 313.3h0.5M94.8 312.5h0.5M70.9 333.5h0.5M75.1 328.3h0.5M92.7 322.4h0.5M71.7 331.5h0.5M94.6 308.4h0.5M83.9 314.8h0.5M71.1 336.7h0.5M70.4 330.0h0.5M84.8 330.5h0.5M85.9 328.9h0.5M90.6 310.2h0.5M74.2 333.1h0.5M87.1 313.3h0.5M84.3 314.6h0.5M69.4 330.2h0.5M73.7 327.8h0.5M75.3 331.5h0.5M72.5 335.9h0.5M78.2 319.8h0.5M93.8 319.1h0.5M71.3 331.3h0.5M94.0 321.0h0.5M94.9 316.1h0.5M79.6 333.5h0.5M96.6 313.7h0.5M74.1 331.1h0.5M94.4 308.3h0.5M86.3 328.2h0.5M77.2 335.8h0.5M84.2 313.9h0.5M80.5 333.2h0.5M73.7 328.9h0.5M80.4 332.3h0.5M97.4 314.7h0.5M95.9 314.6h0.5M79.9 333.3h0.5M69.5 333.7h0.5M78.2 318.2h0.5M73.3 327.0h0.5M66.4 330.9h0.5M97.6 314.2h0.5M87.5 311.8h0.5M70.6 335.6h0.5M77.1 319.6h0.5M94.4 308.6h0.5M96.0 311.0h0.5M98.2 310.1h0.5M84.6 332.9h0.5M81.1 333.4h0.5M96.7 306.9h0.5M81.1 315.5h0.5M78.8 334.5h0.5M89.1 327.2h0.5M97.1 310.2h0.5M70.1 335.0h0.5M94.0 312.2h0.5M87.9 308.5h0.5M71.2 322.4h0.5M71.7 321.8h0.5M94.1 311.3h0.5M79.6 314.6h0.5M68.6 334.3h0.5M95.3 319.2h0.5M92.5 310.4h0.5M72.3 336.4h0.5M86.3 331.2h0.5M68.6 327.1h0.5M92.7 323.0h0.5M68.6 328.4h0.5M84.8 315.4h0.5M71.5 317.2h0.5M94.2 309.3h0.5M88.4 312.7h0.5M66.8 333.2h0.5M72.1 323.6h0.5M73.6 321.0h0.5M71.7 334.4h0.5M73.1 326.3h0.5M99.6 306.7h0.5M78.7 319.9h0.5M74.9 316.3h0.5M86.8 331.0h0.5M83.7 332.4h0.5M83.0 332.3h0.5M89.3 325.6h0.5M93.0 308.4h0.5M91.0 325.0h0.5M72.7 329.5h0.5M96.0 305.9h0.5M71.5 336.8h0.5M79.3 317.3h0.5M68.0 329.5h0.5M74.3 335.0h0.5M95.2 314.4h0.5M70.9 337.8h0.5M68.9 318.1h0.5M85.0 331.1h0.5M72.7 323.8h0.5M77.6 334.2h0.5M66.4 330.9h0.5M81.9 333.1h0.5M94.2 309.6h0.5M75.3 322.8h0.5M93.4 310.1h0.5M83.0 312.9h0.5M95.8 317.2h0.5M71.9 315.6h0.5M98.3 306.3h0.5M69.3 333.1h0.5M74.8 336.9h0.5M92.0 323.7h0.5M64.4 330.2h0.5M71.5 319.7h0.5M69.7 335.6h0.5M74.0 324.6h0.5M79.2 318.1h0.5M95.7 306.7h0.5M90.9 311.1h0.5M96.2 312.2h0.5M92.1 311.5h0.5M96.8 306.1h0.5M93.4 308.4h0.5M94.0 307.3h0.5M78.6 320.5h0.5M89.4 308.8h0.5M95.9 313.2h0.5M73.8 315.5h0.5M66.0 327.4h0.5M67.0 323.0h0.5M75.8 316.8h0.5M84.5 310.7h0.5M85.9 312.0h0.5M72.2 330.5h0.5M75.1 321.5h0.5M69.6 333.6h0.5M90.6 310.8h0.5M97.9 315.5h0.5M93.4 308.4h0.5M89.3 308.8h0.5M94.6 309.6h0.5M84.7 311.1h0.5M75.5 319.3h0.5M72.6 329.1h0.5M82.1 315.0h0.5M72.8 321.3h0.5M74.6 322.9h0.5M79.3 332.8h0.5M95.3 306.0h0.5M97.0 313.7h0.5M72.7 325.9h0.5M95.2 309.3h0.5M53.7 335.8h0.5M89.5 311.0h0.5M74.6 334.7h0.5M75.5 335.5h0.5M79.4 334.6h0.5M89.6 311.2h0.5M93.8 322.1h0.5M78.5 321.3h0.5M84.4 331.0h0.5M95.7 316.3h0.5M69.0 330.1h0.5M93.7 302.2h0.5M94.1 318.7h0.5M72.8 318.2h0.5M69.7 330.4h0.5M84.3 313.8h0.5M79.7 319.2h0.5M74.4 330.2h0.5M70.2 329.6h0.5M91.8 309.6h0.5M90.7 312.3h0.5M70.7 331.8h0.5M82.2 332.9h0.5M93.1 319.8h0.5M68.7 337.0h0.5M78.2 319.5h0.5M82.2 315.2h0.5M73.8 335.3h0.5M93.5 324.4h0.5M97.7 315.8h0.5M79.0 319.7h0.5M97.6 302.4h0.5M68.9 335.5h0.5M77.9 334.6h0.5M76.6 319.2h0.5M90.1 311.0h0.5M68.7 328.9h0.5M97.9 310.1h0.5M73.0 336.9h0.5M72.2 335.2h0.5M76.2 321.2h0.5M97.3 316.0h0.5M86.6 313.6h0.5M92.3 310.6h0.5M66.1 304.2h0.5M72.5 304.3h0.5M67.4 329.5h0.5M66.2 299.5h0.5M73.0 313.3h0.5M72.5 317.7h0.5M68.5 336.1h0.5M72.0 301.1h0.5M78.5 302.8h0.5M72.0 319.7h0.5M72.6 304.1h0.5M69.8 303.3h0.5M69.6 306.7h0.5M75.5 301.2h0.5M67.0 306.3h0.5M66.7 304.5h0.5M64.9 311.4h0.5M71.2 310.2h0.5M66.3 330.3h0.5M72.8 333.1h0.5M69.5 304.6h0.5M70.3 324.9h0.5M67.6 320.9h0.5M70.7 325.0h0.5M75.9 316.0h0.5M72.7 334.9h0.5M67.0 306.9h0.5M72.9 334.3h0.5M66.4 314.2h0.5M74.6 299.1h0.5M62.7 309.7h0.5M69.1 333.4h0.5M67.5 305.5h0.5M64.9 313.8h0.5M64.9 319.6h0.5M74.7 307.0h0.5M69.7 322.2h0.5M69.1 300.5h0.5M65.5 306.6h0.5M73.9 301.2h0.5M69.5 298.6h0.5M65.2 308.1h0.5M63.1 326.7h0.5M65.8 331.5h0.5M70.8 309.1h0.5M74.4 321.6h0.5M70.9 306.4h0.5M74.0 317.1h0.5M74.0 310.0h0.5M71.9 320.2h0.5M65.6 310.1h0.5M74.2 305.8h0.5M70.8 323.1h0.5M71.8 309.3h0.5M69.2 323.2h0.5M67.0 325.8h0.5M74.1 323.3h0.5M67.1 322.4h0.5M67.3 330.2h0.5M76.4 307.7h0.5M74.9 306.7h0.5M69.5 322.4h0.5M75.2 308.9h0.5M72.1 308.3h0.5M71.9 303.6h0.5M64.4 315.0h0.5M71.2 306.9h0.5M62.3 317.6h0.5M71.1 329.5h0.5M62.4 324.0h0.5M72.2 316.0h0.5M70.5 297.8h0.5M75.1 301.2h0.5M72.3 310.9h0.5M66.9 327.9h0.5M76.1 300.4h0.5M73.2 305.7h0.5M69.2 321.9h0.5M72.2 302.6h0.5M74.5 322.1h0.5M76.9 317.2h0.5M69.6 312.2h0.5M70.8 298.9h0.5M68.2 332.8h0.5M69.8 326.9h0.5M69.9 305.9h0.5M74.2 301.5h0.5M74.5 323.0h0.5M77.5 315.7h0.5M75.5 300.7h0.5M68.7 308.5h0.5M67.3 312.4h0.5M64.5 316.7h0.5M74.1 309.0h0.5M70.0 325.5h0.5M76.5 318.6h0.5M70.7 310.1h0.5M69.6 304.2h0.5M63.2 320.8h0.5M62.9 313.9h0.5M64.6 319.0h0.5M67.5 310.7h0.5M60.4 309.8h0.5M73.6 302.8h0.5M67.7 300.0h0.5M62.3 323.0h0.5M76.1 308.3h0.5M65.2 317.0h0.5M67.5 299.7h0.5M70.3 320.0h0.5M72.5 300.3h0.5M67.8 329.4h0.5M72.4 303.8h0.5M79.3 303.3h0.5M74.8 306.2h0.5M70.3 301.9h0.5M66.7 310.9h0.5M70.5 329.3h0.5M71.1 312.5h0.5M69.9 309.8h0.5M64.0 310.2h0.5M72.4 311.8h0.5M67.2 325.1h0.5M65.3 322.2h0.5M65.5 309.0h0.5M64.8 315.7h0.5M72.9 306.0h0.5M68.7 313.9h0.5M66.4 318.3h0.5M67.5 327.6h0.5M73.4 313.1h0.5M65.2 305.8h0.5M75.0 309.9h0.5M72.2 307.9h0.5M74.0 325.9h0.5M70.5 310.8h0.5M70.5 318.5h0.5M69.6 299.9h0.5M72.2 309.6h0.5M69.9 330.4h0.5M64.9 320.4h0.5M72.2 311.7h0.5M72.8 307.3h0.5M65.2 307.4h0.5M69.5 328.0h0.5M68.2 333.7h0.5M68.2 298.3h0.5M72.9 306.0h0.5M74.8 300.0h0.5M63.8 312.4h0.5M70.4 293.9h0.5M63.9 324.1h0.5M72.2 304.2h0.5M70.3 310.7h0.5M71.5 322.9h0.5M69.7 318.1h0.5M70.6 303.8h0.5M78.5 318.4h0.5M65.7 330.5h0.5M63.8 314.8h0.5M67.0 306.6h0.5M71.7 325.9h0.5M73.9 320.7h0.5M74.1 307.1h0.5M76.9 319.2h0.5M74.9 322.7h0.5M66.0 303.3h0.5M72.9 320.4h0.5M70.0 322.9h0.5M66.4 315.2h0.5M73.3 315.1h0.5M71.0 327.7h0.5M74.2 324.3h0.5M64.5 317.0h0.5M70.7 322.3h0.5M64.7 313.8h0.5M66.4 327.2h0.5M74.2 299.9h0.5M66.6 332.4h0.5M65.6 303.9h0.5M66.1 314.0h0.5M75.6 316.5h0.5M64.2 314.0h0.5M66.3 300.6h0.5M72.4 324.0h0.5M72.5 302.2h0.5M78.0 317.9h0.5M75.7 318.6h0.5M60.9 322.6h0.5M65.7 315.1h0.5M66.7 325.6h0.5M71.4 306.1h0.5M67.6 312.7h0.5M72.2 313.7h0.5M69.6 319.1h0.5M71.1 318.5h0.5M73.5 318.4h0.5M71.0 300.1h0.5M64.4 322.2h0.5M73.5 310.8h0.5M74.4 317.7h0.5M73.1 299.8h0.5M63.7 323.2h0.5M71.4 328.0h0.5M61.8 309.8h0.5M73.6 316.8h0.5M65.3 308.4h0.5M74.8 308.8h0.5M68.1 302.3h0.5M65.3 310.8h0.5M65.7 315.5h0.5M73.9 321.6h0.5M68.4 303.9h0.5M69.3 300.8h0.5M74.3 304.7h0.5M68.6 325.6h0.5M74.8 307.0h0.5M62.0 315.7h0.5M65.6 324.4h0.5M74.6 311.4h0.5M71.1 311.3h0.5M71.2 306.4h0.5M71.1 304.7h0.5M69.9 319.9h0.5M69.9 324.8h0.5M68.9 307.9h0.5M68.7 321.3h0.5M64.4 311.6h0.5M72.4 311.6h0.5M66.7 330.8h0.5M72.3 322.3h0.5M64.7 304.7h0.5M70.9 326.4h0.5M63.9 331.1h0.5M65.8 327.5h0.5M75.2 319.8h0.5M76.3 311.5h0.5M72.6 301.8h0.5M65.4 325.6h0.5M65.9 320.3h0.5M71.3 306.1h0.5M75.4 298.8h0.5M75.9 308.5h0.5M76.4 306.9h0.5M65.7 317.9h0.5M70.7 297.1h0.5M72.6 312.7h0.5M67.8 309.7h0.5M67.6 301.8h0.5M62.9 334.8h0.5M61.2 321.3h0.5M64.3 334.4h0.5M71.7 319.7h0.5M71.4 299.4h0.5M74.5 308.5h0.5M65.0 312.2h0.5M61.8 321.0h0.5M72.4 317.8h0.5M73.1 320.3h0.5M66.8 305.6h0.5M69.7 305.4h0.5M72.9 305.3h0.5M69.2 324.8h0.5M70.5 318.9h0.5M69.2 307.6h0.5M64.2 330.4h0.5M70.0 328.1h0.5M63.8 335.3h0.5M63.9 306.6h0.5M61.8 312.7h0.5M71.4 313.9h0.5M68.8 320.2h0.5M64.7 313.6h0.5M63.0 320.7h0.5M67.4 322.9h0.5M63.0 325.5h0.5M66.2 323.0h0.5M69.2 308.4h0.5M72.7 314.8h0.5M70.6 324.6h0.5M70.6 296.1h0.5M70.9 309.0h0.5M68.1 327.0h0.5M72.0 320.4h0.5M65.0 316.2h0.5M72.0 320.9h0.5M74.1 310.8h0.5M73.4 304.6h0.5M70.2 328.4h0.5M71.3 320.4h0.5M67.9 318.7h0.5M75.7 316.2h0.5M71.3 298.4h0.5M67.3 328.5h0.5M67.0 314.1h0.5M71.0 301.0h0.5M66.1 310.8h0.5M73.0 304.4h0.5M71.8 301.4h0.5M70.6 327.5h0.5M67.4 324.3h0.5M74.5 309.3h0.5M73.1 292.9h0.5M68.5 325.2h0.5M75.1 308.3h0.5M74.8 301.8h0.5M73.5 322.9h0.5M73.7 309.1h0.5M69.6 298.4h0.5M71.6 325.0h0.5M69.1 305.4h0.5M64.8 314.8h0.5M69.5 302.2h0.5M65.7 324.1h0.5M70.6 305.9h0.5M72.9 317.5h0.5M72.2 303.3h0.5M64.9 324.0h0.5M71.0 308.3h0.5M65.3 324.1h0.5M67.3 301.6h0.5M69.6 307.0h0.5M69.9 308.7h0.5M62.1 317.5h0.5M63.2 325.6h0.5M71.6 313.3h0.5M71.3 334.0h0.5M70.8 310.0h0.5M63.4 320.4h0.5M68.5 330.5h0.5M62.4 317.9h0.5M65.7 313.0h0.5M66.9 326.1h0.5M63.1 316.9h0.5M73.9 311.2h0.5M74.1 309.2h0.5M68.6 308.9h0.5M65.9 332.7h0.5M73.9 306.3h0.5M63.9 322.2h0.5M54.2 334.6h0.5M67.5 307.9h0.5M76.6 319.2h0.5M63.4 324.7h0.5M62.1 316.5h0.5M63.9 330.7h0.5M83.4 314.2h0.5M74.1 303.6h0.5M52.7 329.3h0.5M67.1 327.4h0.5M77.4 308.4h0.5M74.4 316.9h0.5M74.4 320.8h0.5M61.3 311.0h0.5M62.5 326.5h0.5M66.3 306.6h0.5M62.5 323.5h0.5M73.4 308.4h0.5M67.9 324.7h0.5M62.8 329.7h0.5M65.4 318.1h0.5M67.3 330.3h0.5M72.4 316.7h0.5M66.7 317.3h0.5M74.7 305.1h0.5M58.5 328.1h0.5M74.7 304.7h0.5M70.3 305.8h0.5M63.4 326.2h0.5M63.3 322.4h0.5M66.6 324.1h0.5M76.7 299.7h0.5M64.2 314.2h0.5M62.2 326.8h0.5M60.7 316.0h0.5M66.0 329.9h0.5M65.7 320.0h0.5M68.2 297.9h0.5M64.1 323.4h0.5M73.0 324.5h0.5M65.7 329.1h0.5M63.6 319.2h0.5M68.8 308.3h0.5M64.4 330.4h0.5M67.0 307.4h0.5M61.5 323.2h0.5M70.0 311.0h0.5M73.7 316.0h0.5M59.1 315.8h0.5M63.8 326.7h0.5M65.6 319.0h0.5M62.3 314.7h0.5M67.9 307.1h0.5M69.5 327.8h0.5M64.4 329.6h0.5M62.9 316.6h0.5M63.0 314.5h0.5M67.8 319.5h0.5M71.4 310.1h0.5M63.8 322.7h0.5M70.4 322.1h0.5M64.4 320.8h0.5M67.3 321.3h0.5M68.2 301.3h0.5M71.5 301.7h0.5M66.8 319.0h0.5M52.7 331.3h0.5M69.1 311.6h0.5M65.6 309.6h0.5M56.8 326.5h0.5M66.5 309.0h0.5M70.2 331.1h0.5M74.6 304.7h0.5M71.2 318.3h0.5M64.8 317.0h0.5M67.5 306.2h0.5M64.9 323.6h0.5M67.8 301.7h0.5M64.8 323.4h0.5M75.5 314.0h0.5M74.6 305.5h0.5M77.9 318.1h0.5M63.7 313.5h0.5M73.1 314.0h0.5M74.4 321.3h0.5M64.6 309.3h0.5M62.9 315.8h0.5M64.1 326.2h0.5M65.0 308.0h0.5M61.8 323.2h0.5M70.0 334.0h0.5M68.6 326.9h0.5M72.8 323.0h0.5M65.6 321.7h0.5M66.2 317.4h0.5M67.4 317.6h0.5M68.5 328.7h0.5M72.6 319.5h0.5M65.6 309.9h0.5M66.1 303.0h0.5M62.9 334.3h0.5M73.3 321.8h0.5M68.0 324.7h0.5M72.4 327.8h0.5M61.8 313.4h0.5M66.0 325.6h0.5M58.0 317.5h0.5M68.8 325.0h0.5M61.6 309.7h0.5M74.8 320.6h0.5M63.2 326.2h0.5M66.7 321.1h0.5M64.5 329.2h0.5M70.0 328.4h0.5M74.3 305.1h0.5M62.9 316.4h0.5M69.3 321.6h0.5M75.8 307.5h0.5M75.5 316.4h0.5M66.4 322.8h0.5M63.9 324.5h0.5M69.3 329.8h0.5M69.2 330.6h0.5M53.3 329.4h0.5M70.9 300.4h0.5M52.9 329.4h0.5M69.3 336.0h0.5M59.7 316.2h0.5M67.6 321.2h0.5M68.1 301.7h0.5M62.9 317.3h0.5M66.7 328.7h0.5M66.5 323.6h0.5M65.7 308.2h0.5M65.6 317.8h0.5M65.7 311.1h0.5M69.4 322.9h0.5M64.7 319.4h0.5M65.0 306.8h0.5M68.9 296.3h0.5M71.0 311.3h0.5M61.6 309.6h0.5M61.3 315.4h0.5M65.9 307.1h0.5M64.4 315.6h0.5M66.0 319.2h0.5M70.0 323.2h0.5M66.6 321.9h0.5M69.2 298.5h0.5M68.8 305.1h0.5M81.6 317.1h0.5M67.8 325.3h0.5M72.9 306.6h0.5M71.9 316.3h0.5M71.7 324.0h0.5M56.4 337.7h0.5M61.1 315.2h0.5M73.4 320.0h0.5M61.3 320.9h0.5M61.0 322.1h0.5M73.5 336.7h0.5M67.5 320.7h0.5M75.4 319.4h0.5M65.4 321.7h0.5M58.9 325.8h0.5M64.8 313.5h0.5M64.4 305.0h0.5M68.4 306.4h0.5M73.1 308.2h0.5M66.4 303.6h0.5M65.3 322.8h0.5M71.3 304.0h0.5M71.0 320.9h0.5M73.7 320.2h0.5M69.6 327.5h0.5M66.8 324.8h0.5M67.8 327.4h0.5M68.3 319.9h0.5M58.4 315.3h0.5M64.6 313.1h0.5M63.9 305.8h0.5M74.5 316.3h0.5M63.0 312.5h0.5M67.2 322.6h0.5M65.6 305.8h0.5M64.8 330.9h0.5M58.6 314.9h0.5M69.4 329.3h0.5M70.5 329.7h0.5M53.3 329.4h0.5M74.2 310.3h0.5M68.6 332.5h0.5M66.4 301.5h0.5M68.2 314.9h0.5M65.4 317.7h0.5M69.2 303.2h0.5M81.5 317.6h0.5M67.7 323.8h0.5M64.1 316.4h0.5M67.4 329.5h0.5M58.8 327.9h0.5M71.9 314.0h0.5M60.6 310.6h0.5M62.4 321.3h0.5M61.8 318.9h0.5M64.2 311.4h0.5M53.5 336.4h0.5M55.4 334.9h0.5M53.8 332.6h0.5M53.4 339.2h0.5M54.2 336.5h0.5M55.8 336.4h0.5M56.0 333.8h0.5M54.6 330.7h0.5M54.4 336.3h0.5M56.4 335.1h0.5M57.9 327.4h0.5M56.0 331.7h0.5M53.8 337.7h0.5M55.7 331.3h0.5M53.3 338.2h0.5M53.6 336.9h0.5M53.7 333.5h0.5M54.7 336.1h0.5M54.5 339.6h0.5M52.9 331.4h0.5M53.9 333.1h0.5M52.5 339.1h0.5M53.5 336.1h0.5M55.8 331.9h0.5M56.7 328.1h0.5M53.9 334.8h0.5M55.9 336.4h0.5M53.4 339.4h0.5M55.7 335.2h0.5M53.4 331.9h0.5M54.9 331.1h0.5M55.6 334.6h0.5M56.5 331.5h0.5M53.1 338.1h0.5M56.2 335.9h0.5M56.5 329.2h0.5M54.1 330.3h0.5M54.5 333.1h0.5M54.3 331.5h0.5M55.1 333.0h0.5M55.3 338.2h0.5M56.0 333.4h0.5M55.5 334.7h0.5M53.1 335.5h0.5M54.6 335.8h0.5M54.9 337.2h0.5M55.8 337.8h0.5M54.7 336.4h0.5M54.1 334.2h0.5M54.7 340.0h0.5M53.6 338.7h0.5M52.6 330.6h0.5M54.9 330.8h0.5M53.3 335.6h0.5M55.0 330.0h0.5M53.2 332.4h0.5M52.8 338.7h0.5M56.0 335.8h0.5M54.4 335.0h0.5M54.5 331.4h0.5M54.3 333.1h0.5M55.8 335.5h0.5M56.2 336.5h0.5M55.7 330.9h0.5M54.3 335.7h0.5M53.0 336.3h0.5M54.4 334.2h0.5M55.7 338.9h0.5M52.6 332.6h0.5M54.1 330.6h0.5M88.1 310.9h0.5M68.1 299.1h0.5M97.7 271.4h0.5M80.0 314.0h0.5M67.2 307.1h0.5M71.5 297.0h0.5M64.2 314.7h0.5M75.9 298.9h0.5M62.3 318.3h0.5M84.8 328.6h0.5M76.4 312.4h0.5M77.4 321.0h0.5M72.1 329.4h0.5M82.3 315.9h0.5M83.8 283.9h0.5M75.4 317.5h0.5M64.0 306.8h0.5M74.7 318.2h0.5M61.3 315.9h0.5M73.9 317.2h0.5M76.1 298.6h0.5M87.6 330.7h0.5M84.4 284.7h0.5M60.1 311.1h0.5M69.1 306.7h0.5M73.8 308.4h0.5M68.1 306.0h0.5M93.5 303.4h0.5M70.0 311.9h0.5M64.5 309.5h0.5M73.0 313.6h0.5M66.0 326.4h0.5M71.2 298.8h0.5M73.4 299.5h0.5M63.5 328.9h0.5M69.9 334.0h0.5M67.1 301.0h0.5M64.5 305.3h0.5M66.0 300.9h0.5M76.3 311.2h0.5M72.1 299.0h0.5M81.1 314.6h0.5M76.6 300.9h0.5M78.1 303.3h0.5M76.4 307.7h0.5M66.9 316.0h0.5M70.7 301.9h0.5M64.4 328.5h0.5M77.5 297.4h0.5M94.8 307.6h0.5M89.2 310.8h0.5M81.1 302.9h0.5M77.8 320.9h0.5M77.9 320.4h0.5M64.4 327.4h0.5M60.3 308.4h0.5M66.4 298.4h0.5M87.7 307.6h0.5M72.0 314.0h0.5M97.2 271.0h0.5M70.2 293.9h0.5M67.0 319.3h0.5M76.4 310.6h0.5M66.5 309.2h0.5M74.9 299.2h0.5M64.9 308.6h0.5M79.8 300.0h0.5M79.1 317.3h0.5M72.7 311.5h0.5M65.4 329.2h0.5M62.2 323.7h0.5M67.4 318.2h0.5M70.4 280.9h0.5M69.9 307.1h0.5M59.0 316.2h0.5M64.2 327.6h0.5M73.1 307.3h0.5M68.1 323.2h0.5M67.9 301.0h0.5M70.7 299.9h0.5M71.6 324.0h0.5M88.5 308.4h0.5M94.1 309.4h0.5M67.8 297.6h0.5M73.2 302.0h0.5M64.1 319.3h0.5M99.8 306.7h0.5M70.3 321.3h0.5M78.7 295.8h0.5M97.2 306.3h0.5M68.6 299.6h0.5M62.9 321.7h0.5M65.2 311.7h0.5M72.3 325.2h0.5M81.5 316.4h0.5M73.3 311.3h0.5M70.9 300.4h0.5M74.4 303.6h0.5M69.2 296.7h0.5M73.3 301.0h0.5M77.1 296.3h0.5M73.8 298.4h0.5M72.0 305.7h0.5M73.1 318.3h0.5M74.8 320.0h0.5M78.3 307.1h0.5M93.1 307.3h0.5M61.6 316.5h0.5M70.4 309.9h0.5M75.1 299.9h0.5M61.9 324.7h0.5M85.9 284.9h0.5M75.7 311.0h0.5M75.2 300.6h0.5M66.2 303.3h0.5M72.0 309.9h0.5M58.1 318.3h0.5M81.0 275.6h0.5M60.0 315.7h0.5M75.3 316.2h0.5M56.4 329.1h0.5M59.3 319.5h0.5M96.8 306.4h0.5M75.5 312.0h0.5M72.4 321.5h0.5M66.9 301.1h0.5M74.0 300.9h0.5M70.6 309.7h0.5M76.6 296.4h0.5M66.6 313.3h0.5M61.9 329.6h0.5M85.1 284.4h0.5M61.5 318.4h0.5M73.4 309.1h0.5M69.3 296.7h0.5M77.9 308.1h0.5M76.1 307.2h0.5M63.9 310.9h0.5M61.2 309.0h0.5M77.6 308.3h0.5M74.4 300.1h0.5M95.1 272.9h0.5M97.8 316.4h0.5M69.7 298.5h0.5M104.3 310.5h0.5M95.9 271.9h0.5M78.1 298.1h0.5M71.2 298.2h0.5" stroke="rgb(59,104,194)" stroke-width="0.5" stroke-opacity="0.95" fill="none"/>
<path d="M85.8 325.9h0.5M85.2 315.7h0.5M79.1 321.5h0.5M92.8 315.0h0.5M73.8 328.0h0.5M88.3 325.7h0.5M91.0 321.0h0.5M89.3 313.2h0.5M89.7 314.2h0.5M94.3 311.6h0.5M83.7 328.6h0.5M72.9 335.7h0.5M77.4 322.0h0.5M76.3 324.4h0.5M93.6 317.9h0.5M85.4 315.3h0.5M83.0 331.1h0.5M93.1 312.5h0.5M84.2 329.6h0.5M93.6 320.3h0.5M97.5 314.9h0.5M77.6 334.6h0.5M97.5 313.0h0.5M78.2 333.5h0.5M91.7 321.0h0.5M81.0 331.9h0.5M75.8 334.6h0.5M74.8 328.6h0.5M77.1 332.8h0.5M79.5 320.5h0.5M94.8 317.8h0.5M94.3 311.5h0.5M94.4 312.3h0.5M88.0 313.9h0.5M79.8 330.5h0.5M74.8 326.9h0.5M93.5 312.9h0.5M93.7 316.2h0.5M71.2 332.6h0.5M77.7 329.2h0.5M92.2 314.2h0.5M76.1 326.5h0.5M77.9 333.4h0.5M74.7 331.0h0.5M81.9 329.5h0.5M95.8 313.5h0.5M73.4 331.8h0.5M75.5 334.8h0.5M79.3 331.7h0.5M73.4 328.1h0.5M80.1 331.7h0.5M74.1 326.9h0.5M94.4 312.9h0.5M73.9 335.0h0.5M79.6 333.8h0.5M93.4 313.9h0.5M91.6 322.1h0.5M93.6 314.8h0.5M93.7 317.9h0.5M73.4 333.9h0.5M83.6 330.3h0.5M84.6 328.4h0.5M88.8 314.0h0.5M91.7 311.9h0.5M74.5 333.3h0.5M80.5 319.2h0.5M89.5 312.9h0.5M75.6 334.4h0.5M88.3 314.6h0.5M76.2 332.4h0.5M74.8 327.1h0.5M94.2 312.0h0.5M80.0 329.3h0.5M91.3 314.4h0.5M73.0 332.1h0.5M84.7 329.2h0.5M75.7 330.7h0.5M94.2 317.2h0.5M73.1 326.9h0.5M79.7 332.4h0.5M76.2 331.6h0.5M92.0 312.5h0.5M73.6 332.4h0.5M77.4 331.9h0.5M75.9 332.8h0.5M85.6 319.0h0.5M93.3 316.7h0.5M82.4 315.6h0.5M77.0 322.8h0.5M81.6 332.8h0.5M78.8 319.8h0.5M74.8 332.4h0.5M76.8 323.5h0.5M92.6 322.4h0.5M93.0 313.8h0.5M86.8 315.3h0.5M68.9 329.6h0.5M73.5 332.6h0.5M82.3 316.0h0.5M91.8 319.3h0.5M74.7 332.6h0.5M92.6 318.3h0.5M89.6 322.5h0.5M83.3 330.3h0.5M74.2 335.7h0.5M71.3 325.5h0.5M91.9 320.6h0.5M74.4 328.4h0.5M94.1 313.1h0.5M86.1 315.0h0.5M80.2 332.4h0.5M79.2 332.1h0.5M74.6 329.5h0.5M88.0 314.0h0.5M79.5 330.1h0.5M73.0 334.3h0.5M92.1 320.9h0.5M76.5 332.8h0.5M88.4 313.2h0.5M77.7 332.2h0.5M85.9 327.7h0.5M75.5 325.0h0.5M76.3 332.4h0.5M93.2 318.1h0.5M85.2 316.6h0.5M93.5 317.8h0.5M76.1 325.9h0.5M94.0 317.2h0.5M93.2 316.6h0.5M79.6 321.1h0.5M93.6 312.4h0.5M75.0 332.7h0.5M93.2 316.4h0.5M74.8 334.2h0.5M84.3 329.9h0.5M85.6 328.9h0.5M75.9 326.8h0.5M78.4 322.8h0.5M73.7 332.5h0.5M84.3 316.1h0.5M77.8 330.3h0.5M83.7 318.8h0.5M94.2 315.4h0.5M88.1 323.7h0.5M76.2 326.8h0.5M91.0 313.9h0.5M89.8 322.2h0.5M83.7 327.7h0.5M80.8 319.9h0.5M95.5 314.9h0.5M76.4 323.5h0.5M74.6 331.7h0.5M88.3 325.2h0.5M71.0 335.5h0.5M77.8 332.8h0.5M92.3 311.9h0.5M91.9 311.0h0.5M86.8 327.3h0.5M93.4 318.1h0.5M76.9 323.3h0.5M90.6 320.7h0.5M76.4 323.1h0.5M82.2 330.5h0.5M77.1 332.5h0.5M70.8 332.7h0.5M90.8 319.8h0.5M75.5 334.2h0.5M84.5 328.7h0.5M87.3 314.0h0.5M86.3 328.1h0.5M74.7 330.3h0.5M89.5 313.0h0.5M73.7 332.5h0.5M72.0 331.1h0.5M81.7 326.2h0.5M85.3 328.2h0.5M93.5 317.7h0.5M72.1 331.3h0.5M80.3 332.9h0.5M72.3 329.8h0.5M75.2 329.2h0.5M93.8 311.7h0.5M92.4 313.3h0.5M89.6 320.2h0.5M73.8 331.1h0.5M82.5 331.0h0.5M82.2 317.3h0.5M80.4 331.1h0.5M77.8 331.8h0.5M84.6 329.0h0.5M73.6 333.2h0.5M76.0 324.1h0.5M93.6 310.8h0.5M71.2 332.4h0.5M94.2 318.0h0.5M76.4 327.3h0.5M93.0 315.6h0.5M93.3 318.7h0.5M73.7 327.7h0.5M84.1 316.2h0.5M75.4 327.8h0.5M73.4 331.6h0.5M75.6 330.3h0.5M80.1 333.9h0.5M69.9 332.2h0.5M75.1 334.3h0.5M72.8 329.5h0.5M82.8 316.4h0.5M76.8 325.1h0.5M79.1 320.4h0.5M93.1 314.3h0.5M75.6 325.9h0.5M94.2 317.2h0.5M71.8 326.1h0.5M77.8 320.3h0.5M93.6 314.3h0.5M71.2 334.8h0.5M93.5 318.5h0.5M91.0 321.8h0.5M74.0 334.1h0.5M86.4 315.4h0.5M74.4 332.8h0.5M81.9 330.7h0.5M93.1 312.4h0.5M78.8 330.2h0.5M91.8 318.2h0.5M80.9 331.6h0.5M75.6 333.6h0.5M95.0 311.7h0.5M76.7 331.3h0.5M94.3 319.0h0.5M78.7 331.6h0.5M87.8 327.9h0.5M90.8 322.1h0.5M88.5 323.9h0.5M83.8 317.8h0.5M82.3 318.8h0.5M92.8 317.0h0.5M76.0 325.0h0.5M69.2 335.5h0.5M75.2 331.8h0.5M76.4 324.7h0.5M69.5 324.3h0.5M77.4 324.5h0.5M93.4 310.1h0.5M87.6 314.7h0.5M85.1 328.4h0.5M90.8 311.9h0.5M75.0 326.3h0.5M89.4 315.0h0.5M75.0 334.3h0.5M66.1 320.9h0.5M74.3 333.0h0.5M72.2 320.0h0.5M75.8 316.9h0.5M90.3 312.7h0.5M81.5 318.9h0.5M93.0 314.0h0.5M75.4 331.5h0.5M71.9 332.5h0.5M94.7 312.8h0.5M73.4 326.0h0.5M92.6 321.4h0.5M89.0 313.9h0.5M81.6 331.9h0.5M85.0 317.9h0.5M93.6 322.7h0.5M65.0 320.7h0.5M73.0 326.1h0.5M74.7 325.6h0.5M76.7 333.1h0.5M75.7 321.1h0.5M87.4 327.0h0.5M97.3 310.5h0.5M79.6 321.7h0.5M82.3 316.4h0.5M91.2 312.3h0.5M76.3 323.9h0.5M86.8 315.4h0.5M88.8 312.0h0.5M92.5 319.1h0.5M75.0 331.5h0.5M94.0 313.4h0.5M75.5 333.4h0.5M73.4 331.4h0.5M76.1 319.6h0.5M83.4 316.4h0.5M91.1 312.3h0.5M93.1 318.1h0.5M82.8 315.2h0.5M74.5 324.3h0.5M76.5 328.9h0.5M83.5 317.9h0.5M79.7 332.5h0.5M93.5 315.9h0.5M72.9 332.2h0.5M77.6 321.5h0.5M81.4 317.5h0.5M93.7 316.1h0.5M78.6 320.4h0.5M91.7 312.9h0.5M79.0 319.3h0.5M86.8 327.6h0.5M88.5 313.5h0.5M74.7 327.0h0.5M84.1 330.6h0.5M79.0 318.9h0.5M83.6 316.4h0.5M94.4 310.6h0.5M73.5 322.4h0.5M73.9 326.0h0.5M73.3 334.1h0.5M76.0 324.1h0.5M91.9 312.3h0.5M75.5 324.4h0.5M85.1 315.1h0.5M91.1 323.3h0.5M77.7 322.0h0.5M87.9 315.0h0.5M73.1 327.5h0.5M83.6 315.5h0.5M95.3 311.4h0.5M86.5 314.3h0.5M85.0 316.8h0.5M88.7 325.5h0.5M80.6 332.0h0.5M95.2 313.2h0.5M77.1 322.8h0.5M70.5 321.5h0.5M71.3 333.2h0.5M76.3 326.7h0.5M72.0 334.7h0.5M89.9 312.7h0.5M90.4 323.1h0.5M89.3 313.8h0.5M94.4 309.3h0.5M82.4 316.5h0.5M95.0 313.0h0.5M76.1 333.2h0.5M79.5 330.8h0.5M71.3 334.4h0.5M93.9 309.4h0.5M70.2 306.5h0.5M66.8 318.0h0.5M71.6 327.4h0.5M73.6 306.3h0.5M69.0 313.1h0.5M68.5 317.6h0.5M66.4 312.0h0.5M69.9 312.5h0.5M70.8 312.8h0.5M70.5 310.7h0.5M66.4 310.6h0.5M70.7 322.0h0.5M66.4 307.4h0.5M68.7 314.1h0.5M67.0 307.9h0.5M74.9 316.1h0.5M66.6 323.2h0.5M70.5 312.4h0.5M67.6 311.1h0.5M69.7 319.8h0.5M68.7 313.0h0.5M67.8 310.5h0.5M68.6 314.8h0.5M70.5 309.8h0.5M65.0 315.2h0.5M70.4 314.3h0.5M71.2 317.0h0.5M67.4 314.2h0.5M71.7 317.9h0.5M69.9 323.4h0.5M64.7 308.5h0.5M67.4 313.3h0.5M69.0 307.6h0.5M67.8 320.6h0.5M67.8 320.5h0.5M68.8 322.9h0.5M74.6 305.4h0.5M72.4 313.5h0.5M69.1 315.7h0.5M69.2 308.4h0.5M65.3 307.5h0.5M69.5 310.9h0.5M73.7 320.0h0.5M72.0 317.6h0.5M69.6 321.2h0.5M72.2 310.4h0.5M71.1 309.3h0.5M66.9 323.7h0.5M69.1 316.1h0.5M69.6 308.8h0.5M69.3 309.1h0.5M74.6 304.7h0.5M70.5 308.4h0.5M70.0 317.2h0.5M67.6 312.8h0.5M67.0 314.6h0.5M71.5 315.3h0.5M64.7 311.7h0.5M69.8 312.6h0.5M71.7 319.9h0.5M69.7 313.6h0.5M68.7 311.1h0.5M66.8 322.8h0.5M70.3 314.5h0.5M73.5 313.6h0.5M66.6 311.9h0.5M70.7 317.8h0.5M65.3 313.9h0.5M69.1 319.7h0.5M69.6 297.1h0.5M69.8 313.0h0.5M66.1 320.9h0.5M66.7 306.4h0.5M71.1 315.7h0.5M66.5 315.0h0.5M74.2 310.6h0.5M67.0 308.9h0.5M69.2 315.2h0.5M68.7 315.4h0.5M73.6 325.8h0.5M71.4 317.5h0.5M72.4 310.4h0.5M69.0 322.6h0.5M70.1 318.9h0.5M66.0 312.4h0.5M72.5 313.5h0.5M72.2 314.9h0.5M73.3 305.4h0.5M65.1 306.6h0.5M72.2 307.3h0.5M69.1 317.6h0.5M71.3 328.8h0.5M70.5 311.5h0.5M66.4 311.8h0.5M68.9 308.1h0.5M70.6 314.5h0.5M68.6 309.7h0.5M65.4 322.2h0.5M69.7 321.5h0.5M66.8 311.8h0.5M70.8 306.8h0.5M65.5 310.1h0.5M66.9 308.0h0.5M67.5 312.7h0.5M69.9 315.7h0.5M72.5 315.4h0.5M69.4 317.2h0.5M64.1 317.5h0.5M70.7 317.0h0.5M67.9 309.1h0.5M66.9 317.6h0.5M71.3 313.3h0.5M69.3 311.8h0.5M69.2 312.1h0.5M68.6 316.8h0.5M66.8 319.3h0.5M74.7 307.9h0.5M69.3 311.7h0.5M72.9 311.0h0.5M70.4 313.1h0.5M72.0 315.3h0.5M72.8 308.2h0.5M70.7 316.6h0.5M65.7 313.8h0.5M72.1 318.5h0.5M69.5 307.4h0.5M67.2 315.0h0.5M65.6 307.2h0.5M65.1 307.6h0.5M65.9 316.6h0.5M69.4 312.6h0.5M69.7 318.8h0.5M66.3 312.6h0.5M64.6 319.5h0.5M72.4 316.0h0.5M68.3 316.7h0.5M66.3 312.2h0.5M68.3 320.9h0.5M70.8 314.3h0.5M71.6 327.4h0.5M68.1 308.4h0.5M67.5 320.1h0.5M69.9 316.9h0.5M76.0 321.1h0.5M70.5 315.9h0.5M70.6 313.2h0.5M65.9 323.1h0.5M71.3 316.2h0.5M67.8 312.9h0.5M71.2 318.1h0.5M64.8 322.4h0.5M65.9 324.2h0.5M72.1 309.3h0.5M69.1 318.5h0.5M68.9 312.7h0.5M69.2 314.9h0.5M65.4 307.7h0.5M68.3 311.1h0.5M70.5 316.4h0.5M67.9 310.1h0.5M65.2 323.2h0.5M71.0 320.3h0.5M65.8 310.4h0.5M67.8 309.4h0.5M73.7 318.8h0.5M68.0 317.0h0.5M66.5 323.7h0.5M69.8 310.5h0.5M66.2 315.5h0.5M69.6 297.3h0.5M67.1 325.0h0.5M65.8 315.3h0.5M66.2 317.0h0.5M65.6 315.6h0.5M72.8 308.7h0.5M70.8 307.9h0.5M65.6 322.6h0.5M72.0 312.1h0.5M72.5 314.8h0.5M71.2 315.9h0.5M69.7 324.1h0.5M68.6 314.3h0.5M70.2 311.8h0.5M69.5 309.2h0.5M66.8 330.2h0.5M66.6 330.6h0.5M73.4 319.3h0.5M63.4 316.0h0.5M67.7 323.6h0.5M72.4 313.4h0.5M71.0 307.0h0.5M71.0 319.6h0.5M66.6 317.1h0.5M69.5 321.9h0.5M66.1 324.8h0.5M69.1 314.1h0.5M75.8 330.7h0.5M71.6 318.2h0.5M65.2 313.8h0.5M77.1 323.4h0.5M71.6 306.6h0.5M65.4 315.6h0.5M75.1 323.6h0.5M67.0 323.5h0.5M65.4 322.5h0.5M72.7 327.1h0.5M66.3 325.7h0.5M70.6 314.8h0.5M63.9 320.3h0.5M66.5 314.1h0.5M65.8 310.3h0.5M68.8 314.0h0.5M72.7 319.7h0.5M65.3 317.1h0.5M68.8 326.0h0.5M67.3 310.2h0.5M65.6 318.5h0.5M67.9 319.1h0.5M73.5 308.4h0.5M72.5 333.9h0.5M65.2 317.8h0.5M68.1 317.5h0.5M69.0 315.8h0.5M66.2 316.9h0.5M67.2 312.6h0.5M72.1 310.0h0.5M68.4 313.6h0.5M64.1 313.2h0.5M65.5 320.6h0.5M66.8 322.5h0.5M68.1 310.6h0.5M69.2 318.2h0.5M67.2 313.7h0.5M69.5 312.0h0.5M63.8 322.4h0.5M67.5 309.9h0.5M65.2 310.8h0.5M66.9 319.5h0.5M74.3 329.8h0.5M71.3 320.0h0.5M65.3 322.3h0.5M68.5 311.0h0.5M80.2 319.4h0.5M66.1 318.3h0.5M68.2 317.0h0.5M68.3 319.3h0.5M70.3 320.3h0.5M68.7 311.9h0.5M72.7 318.5h0.5M69.3 316.0h0.5M65.3 327.6h0.5M71.6 314.0h0.5M68.9 314.2h0.5M72.9 330.7h0.5M66.5 310.0h0.5M72.7 315.9h0.5M71.3 319.2h0.5M65.1 313.4h0.5M67.1 314.3h0.5M62.5 317.3h0.5M69.6 326.2h0.5M72.9 325.7h0.5M69.1 322.7h0.5M64.1 322.5h0.5M66.4 314.1h0.5M66.2 319.3h0.5M70.8 328.0h0.5M69.1 320.5h0.5M71.6 306.3h0.5M76.9 321.7h0.5M67.0 320.0h0.5M67.5 313.9h0.5M66.9 310.2h0.5M69.1 333.4h0.5M69.2 322.1h0.5M74.8 323.7h0.5M69.1 316.9h0.5M55.0 331.4h0.5M54.8 331.7h0.5M53.1 332.1h0.5M54.0 333.7h0.5M54.6 335.9h0.5M54.7 332.0h0.5M55.7 330.8h0.5M55.8 330.3h0.5M53.7 335.7h0.5M53.4 331.4h0.5M53.5 333.0h0.5M55.1 334.9h0.5M54.7 330.3h0.5M54.4 332.0h0.5M55.4 332.8h0.5M54.7 332.7h0.5M54.1 332.4h0.5M55.3 331.1h0.5M54.5 333.0h0.5M54.5 332.1h0.5M55.5 332.5h0.5M54.7 332.0h0.5M68.3 318.7h0.5M70.7 309.8h0.5M86.5 328.2h0.5M84.0 317.2h0.5M72.6 309.2h0.5M69.0 313.5h0.5M72.7 307.6h0.5M68.6 319.8h0.5M64.0 312.6h0.5M79.8 318.2h0.5M64.4 322.9h0.5M68.8 311.0h0.5M71.6 308.9h0.5M69.1 311.8h0.5M69.3 314.1h0.5M71.1 314.8h0.5M67.6 309.3h0.5M65.4 307.1h0.5M67.8 313.7h0.5M66.9 307.1h0.5M71.0 307.1h0.5M74.9 326.7h0.5M88.6 324.0h0.5M82.0 332.6h0.5M87.6 326.1h0.5M71.4 306.7h0.5M72.1 318.4h0.5M83.7 315.6h0.5M77.3 334.9h0.5M89.0 314.2h0.5M68.2 313.9h0.5M69.3 315.4h0.5M84.7 284.4h0.5M80.0 318.2h0.5M68.2 320.6h0.5M72.2 306.9h0.5M91.0 313.8h0.5M69.4 306.5h0.5M78.0 322.9h0.5M68.0 311.5h0.5M95.4 312.9h0.5" stroke="rgb(57,121,180)" stroke-width="0.5" stroke-opacity="0.95" fill="none"/>
<path d="M88.8 313.1h0.5M74.8 329.0h0.5M93.4 314.2h0.5M78.5 328.6h0.5M77.1 325.5h0.5M76.0 330.5h0.5M88.0 315.0h0.5M77.7 325.0h0.5M91.3 314.2h0.5M74.9 330.9h0.5M86.4 326.3h0.5M74.7 331.5h0.5M77.4 326.0h0.5M76.1 325.7h0.5M78.8 332.0h0.5M83.3 328.9h0.5M92.8 312.9h0.5M85.4 318.8h0.5M75.9 323.8h0.5M79.0 330.8h0.5M77.0 322.5h0.5M83.4 329.5h0.5M90.7 318.3h0.5M86.1 315.3h0.5M77.4 324.3h0.5M90.5 322.1h0.5M92.6 319.1h0.5M76.9 324.9h0.5M77.2 331.0h0.5M89.8 322.3h0.5M77.1 329.0h0.5M90.3 319.1h0.5M77.3 324.7h0.5M90.4 319.0h0.5M78.8 329.5h0.5M90.7 321.4h0.5M75.2 328.8h0.5M89.2 315.4h0.5M88.4 315.9h0.5M90.2 314.4h0.5M76.1 331.0h0.5M87.8 318.7h0.5M90.3 315.6h0.5M92.3 317.0h0.5M78.6 329.8h0.5M76.6 328.3h0.5M78.1 331.1h0.5M84.2 328.3h0.5M75.6 330.0h0.5M83.9 317.9h0.5M77.6 327.3h0.5M73.7 333.4h0.5M88.9 318.4h0.5M90.0 323.6h0.5M93.9 316.2h0.5M78.4 330.7h0.5M84.5 327.7h0.5M86.2 317.0h0.5M90.8 321.9h0.5M83.3 316.9h0.5M78.6 331.7h0.5M85.7 316.6h0.5M91.2 321.7h0.5M78.7 332.1h0.5M82.4 331.7h0.5M84.7 316.9h0.5M78.0 331.8h0.5M80.6 331.1h0.5M84.9 327.6h0.5M74.0 330.2h0.5M74.2 332.9h0.5M76.4 330.3h0.5M76.7 323.3h0.5M76.8 324.5h0.5M77.7 325.4h0.5M86.8 317.7h0.5M74.7 329.3h0.5M81.7 318.9h0.5M93.1 315.5h0.5M77.9 329.8h0.5M85.5 317.6h0.5M90.9 317.0h0.5M93.1 316.0h0.5M82.0 318.8h0.5M78.0 325.8h0.5M75.9 329.9h0.5M75.4 331.1h0.5M80.5 330.0h0.5M91.7 318.5h0.5M93.5 316.7h0.5M82.4 327.7h0.5M87.6 317.5h0.5M73.7 332.8h0.5M92.6 312.3h0.5M82.0 328.3h0.5M94.1 314.7h0.5M80.3 322.0h0.5M80.2 330.4h0.5M87.9 324.2h0.5M85.3 316.2h0.5M76.4 331.5h0.5M93.5 315.9h0.5M88.1 324.9h0.5M83.0 330.6h0.5M84.2 327.2h0.5M91.1 313.7h0.5M82.3 319.0h0.5M86.2 315.7h0.5M84.4 318.0h0.5M81.8 319.0h0.5M77.4 323.3h0.5M81.9 330.5h0.5M90.5 320.5h0.5M79.7 324.7h0.5M76.9 325.2h0.5M75.8 328.6h0.5M82.0 330.9h0.5M79.0 329.8h0.5M85.9 326.7h0.5M91.9 319.8h0.5M90.4 316.5h0.5M86.4 317.2h0.5M83.1 319.0h0.5M92.0 318.0h0.5M75.9 330.1h0.5M93.2 317.5h0.5M76.4 330.9h0.5M91.6 314.4h0.5M94.7 313.0h0.5M87.1 316.7h0.5M76.3 326.0h0.5M87.3 326.3h0.5M87.5 314.9h0.5M86.8 316.1h0.5M84.3 316.8h0.5M90.8 318.2h0.5M91.0 320.4h0.5M80.3 330.4h0.5M90.5 321.5h0.5M76.4 330.2h0.5M90.7 321.6h0.5M91.3 321.2h0.5M92.3 318.8h0.5M81.1 329.6h0.5M83.9 326.6h0.5M82.6 319.9h0.5M76.8 326.5h0.5M90.4 314.6h0.5M79.0 322.0h0.5M81.7 330.0h0.5M77.7 331.0h0.5M89.3 322.2h0.5M80.7 319.7h0.5M79.6 322.9h0.5M78.7 327.5h0.5M76.2 325.7h0.5M77.4 324.1h0.5M86.8 320.1h0.5M89.1 314.6h0.5M93.9 313.3h0.5M87.4 326.0h0.5M90.4 313.4h0.5M91.0 318.3h0.5M90.2 315.8h0.5M88.4 323.1h0.5M78.0 331.6h0.5M83.6 330.8h0.5M83.2 317.2h0.5M82.4 319.8h0.5M78.8 330.1h0.5M89.4 313.0h0.5M90.4 313.9h0.5M75.3 328.5h0.5M77.6 328.0h0.5M75.5 329.8h0.5M81.4 330.1h0.5M91.1 314.8h0.5M82.5 328.8h0.5M89.4 315.6h0.5M88.6 315.6h0.5M84.9 316.7h0.5M75.4 329.9h0.5M87.1 315.5h0.5M77.7 327.2h0.5M89.8 322.0h0.5M75.0 330.0h0.5M77.8 330.8h0.5M91.4 313.3h0.5M78.4 323.9h0.5M75.5 329.7h0.5M80.9 330.2h0.5M79.3 331.4h0.5M92.1 316.2h0.5M90.0 314.1h0.5M79.3 324.3h0.5M75.8 329.7h0.5M75.3 328.5h0.5M79.7 321.7h0.5M90.9 321.5h0.5M88.9 315.3h0.5M93.6 315.4h0.5M80.7 329.4h0.5M90.2 316.3h0.5M76.1 330.9h0.5M81.0 328.5h0.5M80.0 323.8h0.5M91.1 312.3h0.5M92.2 316.0h0.5M91.2 316.1h0.5M78.3 329.3h0.5M74.5 330.2h0.5M90.6 313.1h0.5M90.0 322.7h0.5M81.6 329.8h0.5M78.4 328.5h0.5M89.1 319.8h0.5M76.8 331.5h0.5M90.7 322.1h0.5M82.7 322.0h0.5M75.9 330.7h0.5M93.9 312.4h0.5M89.2 323.2h0.5M86.5 325.5h0.5M75.8 332.4h0.5M88.6 315.6h0.5M90.6 312.6h0.5M93.7 313.7h0.5M82.3 330.5h0.5M88.9 320.2h0.5M89.0 315.4h0.5M78.4 331.9h0.5M74.4 330.0h0.5M77.8 326.8h0.5M84.3 327.1h0.5M91.9 316.4h0.5M92.1 318.9h0.5M87.1 326.8h0.5M85.2 326.7h0.5M91.5 320.3h0.5M82.2 329.0h0.5M79.0 324.6h0.5M76.6 331.2h0.5M74.0 334.9h0.5M84.7 329.2h0.5M76.5 324.9h0.5M85.0 327.7h0.5M77.0 330.8h0.5M85.3 326.3h0.5M75.2 333.1h0.5M73.9 332.7h0.5M77.7 325.9h0.5M90.0 319.2h0.5M88.5 317.7h0.5M76.1 331.0h0.5M78.4 331.8h0.5M78.2 325.8h0.5M87.0 327.0h0.5M89.9 314.0h0.5M85.6 316.7h0.5M83.0 317.5h0.5M76.7 324.8h0.5M86.0 316.7h0.5M81.1 330.0h0.5M91.4 314.9h0.5M75.8 328.6h0.5M93.0 315.4h0.5M81.4 331.4h0.5M90.2 315.8h0.5M90.9 321.0h0.5M80.6 321.0h0.5M78.3 329.7h0.5M78.2 331.3h0.5M74.1 329.8h0.5M84.7 316.1h0.5M93.0 316.6h0.5M73.9 330.5h0.5M83.8 319.3h0.5M92.8 313.9h0.5M80.0 331.7h0.5M75.6 331.1h0.5M83.3 328.0h0.5M82.1 329.8h0.5M81.3 321.6h0.5M75.8 327.5h0.5M78.1 323.3h0.5M81.9 319.8h0.5M76.8 329.0h0.5M79.9 330.8h0.5M85.5 327.8h0.5M92.3 314.4h0.5M76.0 329.7h0.5M76.0 326.5h0.5M91.0 315.4h0.5M91.9 321.0h0.5M87.9 316.4h0.5M76.1 328.1h0.5M89.7 314.8h0.5M73.2 326.7h0.5M73.2 332.7h0.5M75.5 326.0h0.5M76.7 330.8h0.5M80.0 321.6h0.5M82.0 330.5h0.5M87.1 324.2h0.5M75.8 327.1h0.5M89.8 322.0h0.5M91.2 313.6h0.5M80.5 328.6h0.5M84.4 327.6h0.5M91.5 314.3h0.5M90.0 315.5h0.5M84.1 320.2h0.5M81.1 320.0h0.5M80.8 330.5h0.5M88.0 322.6h0.5M89.4 317.1h0.5M78.6 333.9h0.5M78.1 323.7h0.5M77.5 323.1h0.5M80.2 321.7h0.5M75.8 332.2h0.5M91.4 313.9h0.5M80.2 322.1h0.5M81.2 319.2h0.5M78.7 322.8h0.5M80.4 321.2h0.5M84.9 327.3h0.5M88.1 314.3h0.5M79.4 322.8h0.5M84.6 316.9h0.5M94.7 312.4h0.5M92.7 316.6h0.5M74.2 330.5h0.5M90.4 317.3h0.5M87.5 316.5h0.5M74.3 333.7h0.5M78.3 323.7h0.5M81.2 319.4h0.5M86.3 325.6h0.5M78.1 329.2h0.5M74.6 326.2h0.5M83.1 317.5h0.5M75.3 327.2h0.5M79.2 322.0h0.5M73.7 331.8h0.5M91.5 321.0h0.5M85.4 328.7h0.5M84.9 327.9h0.5M79.0 323.1h0.5M91.5 319.2h0.5M81.5 321.0h0.5M74.3 331.7h0.5M87.1 315.2h0.5M91.2 314.6h0.5M92.5 316.6h0.5M79.5 321.0h0.5M93.3 313.8h0.5M77.4 324.7h0.5M87.0 325.6h0.5M75.9 324.4h0.5M75.6 331.2h0.5M87.6 314.5h0.5M93.6 312.4h0.5M91.7 313.4h0.5M91.4 315.6h0.5M91.0 315.0h0.5M82.7 319.0h0.5M89.3 318.4h0.5M85.2 328.0h0.5M90.8 316.2h0.5M82.5 319.9h0.5M74.7 330.9h0.5M92.7 318.0h0.5M83.1 316.2h0.5M86.1 326.2h0.5M92.5 320.2h0.5M83.6 316.7h0.5M85.8 315.3h0.5M94.4 312.1h0.5M94.4 313.8h0.5M73.8 333.5h0.5M87.7 315.9h0.5M90.7 313.0h0.5M89.2 313.0h0.5M80.7 320.4h0.5M91.2 321.9h0.5M87.2 314.3h0.5M76.0 328.8h0.5M91.4 312.0h0.5M87.9 315.6h0.5M83.1 317.1h0.5M83.4 319.9h0.5M87.0 326.4h0.5M92.2 314.8h0.5M67.6 315.5h0.5M76.5 320.7h0.5M75.1 327.2h0.5M69.1 315.8h0.5M68.7 314.7h0.5M68.5 316.2h0.5M70.3 307.4h0.5M69.0 308.9h0.5M67.2 314.4h0.5M75.0 326.4h0.5M66.7 319.0h0.5M67.8 313.8h0.5M68.1 318.0h0.5M69.0 310.6h0.5M70.7 313.9h0.5M69.0 308.3h0.5M67.6 315.6h0.5M68.5 308.5h0.5M66.1 314.4h0.5M67.6 309.1h0.5M71.2 315.3h0.5M68.7 307.8h0.5M70.0 314.0h0.5M68.3 320.3h0.5M69.4 316.4h0.5M68.9 313.3h0.5M69.4 317.4h0.5M69.3 307.6h0.5M70.2 314.2h0.5M69.5 313.5h0.5M65.6 317.6h0.5M67.9 309.9h0.5M69.7 312.0h0.5M70.9 315.5h0.5M67.2 314.8h0.5M76.6 326.8h0.5M71.7 313.6h0.5M68.4 317.4h0.5M67.3 315.2h0.5M68.4 319.7h0.5M70.6 315.1h0.5M68.9 316.1h0.5M70.2 316.0h0.5M71.2 305.8h0.5M69.4 316.5h0.5M68.3 314.7h0.5M68.7 317.0h0.5M68.2 315.1h0.5M69.8 315.6h0.5M67.9 316.0h0.5M69.5 307.5h0.5M68.6 313.4h0.5M75.8 327.3h0.5M70.2 314.0h0.5M73.9 329.4h0.5M65.9 311.1h0.5M68.8 318.0h0.5M68.2 317.0h0.5M69.0 317.1h0.5M69.2 315.9h0.5M69.0 310.0h0.5M67.4 316.1h0.5M67.4 314.8h0.5M66.9 314.8h0.5M68.3 317.3h0.5M74.2 335.0h0.5M69.7 320.4h0.5M67.5 314.9h0.5M54.5 331.4h0.5M66.3 313.1h0.5M71.7 308.6h0.5M69.2 315.7h0.5M67.1 315.0h0.5M78.7 331.8h0.5M67.5 317.4h0.5M80.9 331.5h0.5M80.1 319.2h0.5M72.0 314.0h0.5M78.2 322.2h0.5M68.6 316.8h0.5M93.0 313.3h0.5" stroke="rgb(60,156,125)" stroke-width="0.5" stroke-opacity="0.95" fill="none"/>
<path d="M90.8 319.6h0.5M76.2 329.0h0.5M87.4 320.4h0.5M76.4 328.2h0.5M88.1 315.1h0.5M80.2 323.4h0.5M77.0 329.9h0.5M86.8 316.8h0.5M85.5 328.7h0.5M83.4 329.9h0.5M82.0 327.3h0.5M88.2 320.8h0.5M84.9 326.6h0.5M91.9 316.5h0.5M85.2 326.8h0.5M77.6 328.6h0.5M80.4 319.9h0.5M90.7 318.1h0.5M80.0 325.4h0.5M79.8 330.5h0.5M90.9 317.1h0.5M91.6 320.6h0.5M91.4 317.9h0.5M88.7 324.3h0.5M87.6 325.5h0.5M85.0 316.5h0.5M79.8 329.6h0.5M81.5 327.6h0.5M90.0 316.8h0.5M88.0 316.2h0.5M78.0 327.4h0.5M81.8 320.1h0.5M90.6 317.5h0.5M76.6 330.8h0.5M78.2 327.9h0.5M76.5 331.6h0.5M84.9 324.3h0.5M77.8 323.9h0.5M80.7 327.0h0.5M91.3 318.2h0.5M82.6 328.1h0.5M80.3 323.0h0.5M87.7 325.7h0.5M91.5 318.2h0.5M76.9 325.7h0.5M89.5 321.1h0.5M86.1 317.6h0.5M86.7 326.5h0.5M79.9 323.0h0.5M78.0 325.2h0.5M87.6 323.9h0.5M77.5 326.5h0.5M75.5 328.6h0.5M85.0 318.3h0.5M82.5 330.0h0.5M89.3 316.9h0.5M79.0 328.5h0.5M78.6 329.8h0.5M80.1 327.5h0.5M87.6 321.5h0.5M88.9 321.4h0.5M78.5 327.9h0.5M86.0 319.1h0.5M90.6 319.6h0.5M79.0 322.4h0.5M80.1 320.5h0.5M91.3 317.0h0.5M91.8 320.7h0.5M90.6 322.3h0.5M92.3 314.2h0.5M90.0 317.1h0.5M81.7 324.5h0.5M91.8 315.1h0.5M79.2 329.2h0.5M81.5 327.6h0.5M82.1 330.4h0.5M77.5 324.9h0.5M78.9 325.4h0.5M79.7 326.1h0.5M89.3 315.7h0.5M76.4 327.3h0.5M84.1 327.3h0.5M81.3 327.0h0.5M80.2 330.7h0.5M82.0 328.0h0.5M87.0 317.2h0.5M86.9 320.0h0.5M81.5 325.5h0.5M92.5 316.5h0.5M88.8 320.5h0.5M75.9 328.6h0.5M79.4 326.1h0.5M90.5 322.7h0.5M86.9 325.1h0.5M83.4 325.5h0.5M89.0 314.8h0.5M80.8 325.0h0.5M90.8 316.5h0.5M80.1 326.4h0.5M81.2 322.6h0.5M86.1 325.6h0.5M81.7 321.9h0.5M90.5 322.9h0.5M90.0 321.3h0.5M78.4 331.9h0.5M83.6 317.4h0.5M78.0 323.7h0.5M80.3 325.3h0.5M77.4 324.8h0.5M82.7 320.6h0.5M90.4 315.6h0.5M82.2 319.4h0.5M79.2 324.5h0.5M78.9 329.3h0.5M89.8 319.8h0.5M76.2 328.6h0.5M90.7 321.3h0.5M86.1 324.1h0.5M82.3 321.3h0.5M91.1 317.3h0.5M87.0 324.3h0.5M85.3 320.7h0.5M90.4 317.9h0.5M78.0 325.3h0.5M91.4 319.0h0.5M86.1 318.1h0.5M81.9 330.9h0.5M83.0 328.7h0.5M77.4 327.3h0.5M87.0 317.2h0.5M83.5 328.5h0.5M91.3 319.1h0.5M89.4 320.9h0.5M84.1 318.7h0.5M86.7 317.5h0.5M87.1 324.6h0.5M87.2 322.2h0.5M90.2 315.1h0.5M80.3 320.3h0.5M81.9 329.3h0.5M89.5 319.2h0.5M79.0 329.1h0.5M80.7 327.2h0.5M80.2 320.4h0.5M80.8 319.3h0.5M91.4 319.7h0.5M87.9 320.1h0.5M89.4 319.6h0.5M82.6 326.1h0.5M85.6 326.4h0.5M86.9 320.5h0.5M91.5 315.0h0.5M79.5 329.8h0.5M90.9 320.4h0.5M85.0 325.8h0.5M77.3 323.3h0.5M87.0 325.1h0.5M89.1 316.8h0.5M81.2 328.4h0.5M77.6 328.4h0.5M78.9 328.2h0.5M80.8 320.2h0.5M79.7 323.3h0.5M92.6 315.4h0.5M81.7 328.5h0.5M89.5 322.3h0.5M82.7 328.1h0.5M85.6 327.0h0.5M84.9 319.6h0.5M78.6 324.1h0.5M88.8 315.9h0.5M84.6 326.9h0.5M80.1 327.6h0.5M82.2 329.3h0.5M93.7 316.6h0.5M91.5 317.3h0.5M90.8 315.7h0.5M88.4 319.4h0.5M78.5 328.0h0.5M86.3 325.4h0.5M80.3 325.6h0.5M84.8 327.5h0.5M77.0 325.6h0.5M84.4 328.0h0.5M89.1 320.2h0.5M83.2 326.7h0.5M78.6 328.0h0.5M88.9 322.9h0.5M81.8 323.7h0.5M89.1 316.9h0.5M79.7 322.7h0.5M85.1 318.1h0.5M87.5 321.6h0.5M84.4 326.9h0.5M89.5 317.1h0.5M89.6 317.5h0.5M88.2 315.9h0.5M85.3 326.8h0.5M78.2 331.1h0.5M86.4 318.3h0.5M82.4 328.2h0.5M85.2 316.0h0.5M90.9 314.1h0.5M90.7 321.8h0.5M82.1 329.7h0.5M76.0 331.8h0.5M86.0 316.9h0.5M79.7 329.5h0.5M83.1 318.6h0.5M80.9 324.4h0.5M89.1 314.5h0.5M86.0 319.5h0.5M80.0 328.4h0.5M86.2 320.3h0.5M82.5 319.7h0.5M81.8 320.8h0.5M85.0 325.3h0.5M91.8 314.9h0.5M90.4 319.0h0.5M77.7 329.8h0.5M89.8 316.9h0.5M82.7 328.8h0.5M91.5 316.8h0.5M92.5 317.7h0.5M88.8 318.7h0.5M87.9 318.4h0.5M76.7 330.4h0.5M79.0 328.6h0.5M84.7 327.5h0.5M82.3 329.7h0.5M76.6 330.6h0.5M85.6 325.2h0.5M83.1 328.4h0.5M82.3 331.6h0.5M90.8 316.1h0.5M84.6 327.0h0.5M83.4 328.8h0.5M86.0 324.7h0.5M78.1 326.0h0.5M81.1 327.2h0.5M88.3 315.8h0.5M84.3 320.3h0.5M92.4 317.5h0.5M85.6 325.1h0.5M80.1 324.7h0.5M80.0 327.7h0.5M79.8 327.8h0.5M81.1 321.1h0.5M85.9 325.0h0.5M85.8 326.0h0.5M83.7 318.8h0.5M81.2 329.9h0.5M84.1 326.4h0.5M77.9 328.8h0.5M87.4 324.1h0.5M82.9 327.2h0.5M84.8 318.8h0.5M83.1 325.3h0.5M91.1 316.4h0.5M86.7 318.1h0.5M90.7 315.4h0.5M79.7 328.2h0.5M83.0 321.3h0.5M82.0 328.2h0.5M88.3 316.1h0.5M87.8 322.2h0.5M86.2 323.2h0.5M82.9 329.9h0.5M87.0 318.8h0.5M80.6 326.0h0.5M91.4 319.7h0.5M88.6 315.8h0.5M91.3 316.4h0.5M80.3 322.6h0.5M83.0 325.1h0.5M80.3 328.7h0.5M80.5 322.6h0.5M75.5 331.0h0.5M80.9 329.7h0.5M82.7 327.3h0.5M80.0 330.4h0.5M86.4 324.6h0.5M87.8 324.0h0.5M86.1 319.2h0.5M79.1 329.4h0.5M90.1 314.9h0.5M89.9 314.2h0.5M81.6 330.2h0.5M80.9 320.2h0.5M79.8 326.8h0.5M85.0 318.9h0.5M80.2 325.7h0.5M82.0 327.9h0.5M83.9 318.8h0.5M79.4 324.5h0.5M77.6 328.2h0.5M81.0 329.1h0.5M82.4 329.9h0.5M74.8 329.5h0.5M89.9 316.1h0.5M83.8 327.3h0.5M76.2 329.1h0.5M81.4 321.8h0.5M79.6 329.7h0.5M79.5 329.8h0.5M77.0 329.8h0.5M86.0 317.4h0.5M83.0 327.4h0.5M85.3 325.9h0.5M79.3 322.2h0.5M89.0 318.6h0.5M83.1 319.5h0.5M89.2 319.3h0.5M90.4 319.4h0.5M87.8 323.1h0.5M81.8 321.8h0.5M82.6 329.5h0.5M77.1 328.0h0.5M84.4 324.7h0.5M86.0 324.7h0.5M74.9 329.5h0.5M81.8 322.8h0.5M80.9 329.9h0.5M91.3 317.8h0.5M79.6 328.0h0.5M82.1 320.0h0.5M89.8 317.2h0.5M80.2 324.5h0.5M89.2 323.3h0.5M78.5 324.7h0.5M79.5 326.5h0.5M91.0 318.4h0.5M77.5 327.8h0.5M83.1 329.8h0.5M83.2 320.7h0.5M89.9 319.9h0.5M90.1 317.3h0.5M74.0 330.1h0.5M90.1 314.7h0.5M88.9 319.3h0.5M78.2 324.9h0.5M79.9 324.6h0.5M90.2 316.6h0.5M85.8 325.7h0.5M84.2 322.8h0.5M91.9 315.4h0.5M89.1 320.1h0.5M80.9 326.3h0.5M83.7 316.5h0.5M85.2 318.5h0.5M84.7 317.6h0.5M75.8 327.6h0.5M76.6 329.4h0.5M79.1 324.4h0.5M79.4 326.6h0.5M81.9 323.2h0.5M83.5 329.6h0.5M91.2 319.5h0.5M82.3 321.8h0.5M83.7 317.4h0.5M82.8 329.1h0.5M90.0 319.4h0.5M78.8 322.7h0.5M87.6 319.7h0.5M92.3 317.7h0.5M88.7 316.5h0.5M79.0 325.5h0.5M75.3 327.1h0.5M90.3 316.7h0.5M90.6 317.6h0.5M93.0 313.7h0.5M82.6 328.1h0.5M77.0 331.0h0.5M82.7 319.4h0.5M83.0 319.2h0.5M92.2 314.9h0.5M91.9 315.3h0.5M77.9 326.6h0.5M90.3 320.2h0.5M90.6 315.3h0.5M81.9 319.6h0.5M91.0 315.7h0.5M85.8 320.0h0.5M91.6 317.4h0.5M83.7 329.0h0.5M77.0 325.4h0.5M79.1 329.6h0.5M89.4 315.9h0.5M87.4 319.7h0.5M90.5 317.9h0.5M82.6 320.5h0.5M84.2 319.0h0.5M87.5 318.5h0.5M79.9 321.8h0.5M84.5 319.0h0.5M91.3 314.9h0.5M81.2 320.5h0.5M85.3 316.3h0.5M85.1 318.2h0.5M86.9 319.3h0.5M91.5 317.4h0.5M83.6 318.4h0.5M88.0 316.0h0.5M76.8 326.2h0.5M91.9 315.4h0.5M84.8 317.5h0.5M83.6 325.2h0.5M79.4 325.0h0.5M90.6 315.9h0.5M87.7 317.1h0.5M90.4 322.8h0.5M85.5 323.8h0.5M83.9 318.7h0.5M91.5 316.3h0.5M87.3 316.1h0.5M88.8 317.1h0.5M85.6 317.2h0.5M83.2 329.7h0.5M81.4 324.9h0.5M70.2 315.1h0.5M69.5 316.0h0.5M69.3 316.4h0.5M69.1 313.9h0.5M70.5 314.0h0.5M89.9 316.3h0.5M72.5 306.1h0.5M91.6 313.0h0.5M92.0 315.6h0.5M86.0 316.6h0.5M90.6 317.1h0.5M94.8 313.3h0.5M83.8 317.5h0.5M91.7 312.8h0.5" stroke="rgb(77,171,86)" stroke-width="0.5" stroke-opacity="0.95" fill="none"/>
<path d="M79.0 328.4h0.5M89.2 318.9h0.5M88.8 319.8h0.5M86.3 319.2h0.5M86.8 317.6h0.5M84.1 326.9h0.5M86.8 318.7h0.5M81.5 322.7h0.5M84.4 318.1h0.5M77.7 324.6h0.5M77.9 327.7h0.5M88.0 317.6h0.5M88.8 316.8h0.5M79.7 326.6h0.5M78.5 329.9h0.5M82.5 320.9h0.5M90.2 317.9h0.5M90.0 317.7h0.5M80.1 328.8h0.5M89.1 320.9h0.5M80.9 321.8h0.5M89.0 321.3h0.5M83.5 326.6h0.5M77.8 325.0h0.5M85.1 326.6h0.5M85.1 325.7h0.5M78.5 324.1h0.5M80.7 329.5h0.5M83.2 318.1h0.5M81.9 327.1h0.5M85.4 322.4h0.5M80.1 327.9h0.5M80.7 329.1h0.5M84.9 320.4h0.5M78.8 328.3h0.5M82.4 324.7h0.5M79.2 322.1h0.5M86.8 325.7h0.5M84.9 320.5h0.5M85.3 321.2h0.5M80.7 329.1h0.5M82.3 329.6h0.5M77.9 324.9h0.5M84.5 321.6h0.5M79.4 328.4h0.5M85.2 321.9h0.5M81.7 324.6h0.5M80.0 329.8h0.5M86.4 317.9h0.5M83.8 320.6h0.5M88.4 320.7h0.5M84.1 318.4h0.5M80.9 324.2h0.5M79.7 324.6h0.5M86.1 318.0h0.5M87.1 320.0h0.5M79.7 328.6h0.5M79.3 329.4h0.5M82.6 322.7h0.5M85.1 325.5h0.5M81.2 327.8h0.5M77.1 328.9h0.5M86.8 324.9h0.5M87.4 319.4h0.5M81.2 321.9h0.5M74.9 331.0h0.5M80.0 328.0h0.5M77.0 328.2h0.5M78.3 327.2h0.5M88.9 317.8h0.5M77.3 329.4h0.5M89.9 319.0h0.5M77.3 326.7h0.5M78.1 330.8h0.5M87.9 315.3h0.5M91.5 317.4h0.5M89.9 317.1h0.5M85.1 325.4h0.5M76.9 327.3h0.5M83.7 320.7h0.5M82.4 325.4h0.5M88.3 316.3h0.5M90.3 318.8h0.5M82.5 322.0h0.5M77.5 328.7h0.5M90.7 318.4h0.5M85.1 324.0h0.5M84.7 326.2h0.5M86.1 320.3h0.5M88.1 318.9h0.5M90.7 318.2h0.5M85.8 320.7h0.5M77.3 328.1h0.5M91.5 315.1h0.5M81.6 322.0h0.5M88.3 315.0h0.5M87.0 316.3h0.5M89.2 319.9h0.5M80.7 329.8h0.5M82.9 319.2h0.5M83.6 319.7h0.5M87.4 318.4h0.5M84.0 324.6h0.5M87.4 317.8h0.5M81.4 328.1h0.5M78.9 325.7h0.5M88.2 320.4h0.5M88.0 320.2h0.5M87.4 318.7h0.5M77.7 325.1h0.5M81.9 322.4h0.5M82.3 321.0h0.5M83.2 323.2h0.5M80.8 324.9h0.5M89.1 320.4h0.5M84.1 320.6h0.5M89.1 319.6h0.5M87.3 316.9h0.5M81.6 328.2h0.5M88.7 317.5h0.5M80.9 328.1h0.5M83.3 318.4h0.5M81.9 328.8h0.5M85.2 324.1h0.5M87.9 318.4h0.5M81.4 330.7h0.5M87.0 318.7h0.5M86.5 324.3h0.5M89.0 318.4h0.5M86.0 319.8h0.5M85.1 322.2h0.5M85.9 321.7h0.5M85.5 320.4h0.5M87.3 319.5h0.5M80.0 327.8h0.5M89.0 322.3h0.5M88.7 321.5h0.5M87.1 317.5h0.5M90.6 320.8h0.5M83.4 327.6h0.5M79.7 325.2h0.5M84.6 324.5h0.5M82.9 322.0h0.5M87.0 322.3h0.5M81.5 320.4h0.5M88.5 317.2h0.5M78.6 326.6h0.5M83.0 318.2h0.5M80.4 322.2h0.5M86.1 325.0h0.5M83.3 327.6h0.5M87.2 321.2h0.5M81.0 324.0h0.5M88.9 321.2h0.5M87.3 323.1h0.5M78.9 329.8h0.5M88.3 316.3h0.5M89.9 319.1h0.5M87.0 319.9h0.5M86.9 324.0h0.5M78.2 326.1h0.5M86.8 323.8h0.5M83.1 320.3h0.5M86.4 320.7h0.5M86.6 317.6h0.5M79.4 325.3h0.5M89.8 321.3h0.5M90.6 319.5h0.5M88.3 319.3h0.5M88.8 319.9h0.5M82.2 326.8h0.5M90.9 314.8h0.5M84.4 321.0h0.5M83.2 320.5h0.5M90.8 317.8h0.5M83.1 322.2h0.5M88.0 316.9h0.5M88.4 319.7h0.5M88.5 319.1h0.5M80.1 327.4h0.5M88.3 323.2h0.5M84.4 320.8h0.5M88.3 321.5h0.5M86.7 326.5h0.5M83.2 323.5h0.5M87.3 322.1h0.5M78.5 327.4h0.5M84.1 325.1h0.5M79.8 322.7h0.5M90.6 316.8h0.5M86.6 318.9h0.5M91.0 315.7h0.5M87.9 318.8h0.5M89.5 318.2h0.5M78.7 326.7h0.5M87.8 322.3h0.5M80.1 323.5h0.5M88.0 320.0h0.5M81.3 326.7h0.5M81.7 322.8h0.5M87.2 320.2h0.5M84.2 327.2h0.5M85.0 321.7h0.5M80.9 322.9h0.5M83.1 322.1h0.5M90.1 319.3h0.5M80.8 325.7h0.5M80.8 322.1h0.5M79.2 325.0h0.5M80.9 329.7h0.5M80.0 328.4h0.5M85.2 318.1h0.5M85.5 323.6h0.5M84.6 319.2h0.5M82.9 320.0h0.5M79.0 328.9h0.5M87.7 316.9h0.5M81.2 323.0h0.5M82.0 322.5h0.5M88.2 323.0h0.5M80.3 322.3h0.5M79.3 324.6h0.5M80.0 327.7h0.5M86.0 321.7h0.5M82.1 320.1h0.5M87.9 322.8h0.5M81.2 330.7h0.5M82.1 327.5h0.5M87.1 321.4h0.5M86.1 324.7h0.5M83.5 326.9h0.5M88.2 320.8h0.5M83.3 322.3h0.5M85.8 321.9h0.5M81.6 326.8h0.5M81.2 327.3h0.5M87.9 321.7h0.5M86.0 324.5h0.5M85.2 318.4h0.5M81.8 325.2h0.5M83.2 321.7h0.5M85.9 319.6h0.5M84.2 320.5h0.5M84.3 318.0h0.5M84.8 321.0h0.5M85.5 325.7h0.5M78.5 326.1h0.5M82.1 320.2h0.5M89.4 317.2h0.5M81.3 328.3h0.5M78.4 329.7h0.5M82.9 327.4h0.5M85.6 319.0h0.5M84.4 323.9h0.5M87.8 325.2h0.5M78.7 328.1h0.5M78.6 326.5h0.5M81.9 322.6h0.5M80.0 323.8h0.5M88.9 321.8h0.5M87.4 318.2h0.5M79.7 328.9h0.5M85.8 326.7h0.5M76.1 327.6h0.5M77.7 327.8h0.5M89.9 318.1h0.5M81.9 326.7h0.5M85.2 321.5h0.5M83.3 323.8h0.5M79.0 327.5h0.5M78.6 326.0h0.5M88.8 320.5h0.5M78.5 329.0h0.5M85.8 318.9h0.5M88.4 321.2h0.5M89.5 320.9h0.5M82.0 325.2h0.5M76.2 328.2h0.5M82.9 326.6h0.5M88.6 317.5h0.5M86.0 318.8h0.5M80.2 325.0h0.5M78.2 326.5h0.5M87.9 321.1h0.5M88.3 321.4h0.5M90.4 321.3h0.5M86.1 323.7h0.5M86.6 323.1h0.5M89.1 316.1h0.5M78.9 326.1h0.5M88.2 317.2h0.5M88.8 321.4h0.5M82.3 326.1h0.5M84.3 324.2h0.5M89.9 319.8h0.5M89.3 321.2h0.5M79.0 324.7h0.5M77.5 326.0h0.5M83.8 323.6h0.5M86.5 320.9h0.5M84.1 322.2h0.5M83.5 325.5h0.5M78.2 324.6h0.5M85.7 317.2h0.5M82.4 323.3h0.5M87.9 319.4h0.5M86.9 317.4h0.5M90.6 316.3h0.5M85.4 319.6h0.5M79.3 327.6h0.5M83.1 326.6h0.5M80.7 326.5h0.5M82.0 327.4h0.5M77.2 329.5h0.5M84.3 325.7h0.5M82.5 327.6h0.5M82.9 319.0h0.5M87.1 322.3h0.5M79.7 328.8h0.5M77.5 328.7h0.5M80.6 328.5h0.5M89.6 321.2h0.5M80.5 323.5h0.5M86.2 325.1h0.5M83.1 329.4h0.5M83.0 325.2h0.5M87.0 318.7h0.5M80.2 324.7h0.5M83.7 326.1h0.5M86.0 324.1h0.5M82.7 328.4h0.5M81.7 328.3h0.5M83.8 320.1h0.5M85.6 319.9h0.5M81.5 323.2h0.5M79.0 323.7h0.5M84.4 325.3h0.5M87.0 321.7h0.5M86.4 320.3h0.5M86.1 318.1h0.5M90.3 317.0h0.5M82.7 322.0h0.5M90.6 317.3h0.5M80.3 324.3h0.5M86.1 326.4h0.5M81.6 322.2h0.5M81.1 324.8h0.5M88.9 321.7h0.5M87.4 325.7h0.5M80.6 324.6h0.5M90.4 316.4h0.5M80.3 328.9h0.5M91.7 318.2h0.5M84.9 324.3h0.5M78.1 327.5h0.5M89.0 321.0h0.5M80.1 329.2h0.5M78.6 326.7h0.5M89.5 315.8h0.5M90.9 316.6h0.5M83.3 321.2h0.5M78.4 329.4h0.5M85.8 317.8h0.5M85.3 325.3h0.5M88.4 317.5h0.5M79.5 325.7h0.5M85.8 319.3h0.5M90.8 317.6h0.5M84.5 325.4h0.5M89.8 317.7h0.5M80.3 323.5h0.5M91.7 318.1h0.5M84.8 318.4h0.5M81.7 322.9h0.5M85.8 322.7h0.5M82.8 322.2h0.5M81.4 325.5h0.5M87.9 322.4h0.5M81.1 319.9h0.5M88.4 322.1h0.5M82.8 319.4h0.5M90.0 314.1h0.5M87.5 315.5h0.5M83.2 323.0h0.5M89.0 316.7h0.5M85.7 317.8h0.5M82.3 321.0h0.5M85.4 321.3h0.5M89.0 319.8h0.5M89.7 316.9h0.5M85.9 321.1h0.5M84.1 325.6h0.5M78.7 325.3h0.5M77.1 326.4h0.5M88.5 316.0h0.5M80.2 321.3h0.5M87.6 323.6h0.5M86.1 319.3h0.5M82.3 329.8h0.5M82.9 319.3h0.5" stroke="rgb(111,186,58)" stroke-width="0.5" stroke-opacity="0.95" fill="none"/>
<path d="M79.6 327.0h0.5M76.8 330.1h0.5M87.0 319.6h0.5M83.4 324.1h0.5M88.4 322.7h0.5M83.1 326.8h0.5M76.8 330.4h0.5M87.6 324.3h0.5M77.9 329.3h0.5M86.0 321.1h0.5M79.9 324.6h0.5M80.6 326.0h0.5M79.3 329.1h0.5M82.4 319.4h0.5M79.5 327.0h0.5M87.3 320.2h0.5M87.1 320.0h0.5M78.1 326.0h0.5M78.9 325.4h0.5M87.4 323.1h0.5M80.5 326.1h0.5M88.9 321.8h0.5M81.4 321.0h0.5M89.3 320.1h0.5M84.1 320.5h0.5M89.3 316.4h0.5M79.6 329.0h0.5M84.9 318.5h0.5M87.5 319.5h0.5M88.4 323.0h0.5M86.8 323.5h0.5M82.9 321.5h0.5M87.6 322.9h0.5M80.3 330.1h0.5M83.3 326.1h0.5M82.6 323.5h0.5M79.1 324.0h0.5M85.6 320.2h0.5M84.2 322.2h0.5M87.3 319.9h0.5M79.7 326.7h0.5M79.2 327.0h0.5M83.4 321.7h0.5M79.0 327.5h0.5M78.1 326.1h0.5M82.1 321.1h0.5M87.0 321.5h0.5M88.5 322.9h0.5M83.7 325.9h0.5M79.5 324.8h0.5M81.3 326.9h0.5M86.7 321.8h0.5M84.5 321.0h0.5M84.2 318.6h0.5M85.1 322.1h0.5M86.1 319.9h0.5M77.2 325.4h0.5M82.3 323.8h0.5M87.7 318.2h0.5M88.8 318.5h0.5M78.4 327.4h0.5M83.2 323.7h0.5M89.2 321.8h0.5M84.2 323.2h0.5M86.7 323.4h0.5M82.9 325.2h0.5M85.4 318.7h0.5M81.4 329.1h0.5M81.5 322.1h0.5M89.7 319.7h0.5M85.1 318.7h0.5M79.0 328.8h0.5M78.7 328.7h0.5M83.9 324.2h0.5M83.5 326.9h0.5M83.7 321.9h0.5M87.7 317.8h0.5M90.2 319.8h0.5M83.0 320.7h0.5M88.5 322.4h0.5M88.2 321.6h0.5M88.1 318.9h0.5M89.9 318.2h0.5M80.2 326.8h0.5M83.4 322.7h0.5M83.5 321.9h0.5M89.1 315.7h0.5M78.1 329.5h0.5M84.5 318.6h0.5M87.9 322.6h0.5M80.0 326.6h0.5M87.1 319.8h0.5M83.5 325.1h0.5M87.7 322.7h0.5M84.4 322.2h0.5M79.9 322.2h0.5M82.4 326.7h0.5M84.8 325.3h0.5M82.7 321.4h0.5M83.3 320.3h0.5M84.4 320.7h0.5M82.1 324.1h0.5M80.1 324.3h0.5M90.3 317.7h0.5M77.8 327.2h0.5M80.7 327.2h0.5M87.7 322.2h0.5M81.7 324.0h0.5M85.5 319.1h0.5M78.9 325.5h0.5M82.8 322.9h0.5M85.7 320.2h0.5M80.7 326.1h0.5M82.2 324.7h0.5M83.5 324.9h0.5M84.2 326.2h0.5M88.7 319.1h0.5M87.1 323.0h0.5M80.8 326.7h0.5M88.1 320.9h0.5M83.3 324.0h0.5M87.8 324.0h0.5M87.4 318.3h0.5M80.5 328.3h0.5M88.2 320.0h0.5M82.5 327.2h0.5M81.4 324.3h0.5M82.2 325.4h0.5M84.7 324.8h0.5M88.6 318.0h0.5M79.3 328.4h0.5M90.6 321.9h0.5M81.4 325.5h0.5M84.1 324.1h0.5M85.0 322.7h0.5M84.7 320.5h0.5M82.6 329.1h0.5M88.4 318.6h0.5M84.7 324.4h0.5M80.8 323.1h0.5M82.4 323.9h0.5M86.5 318.7h0.5M87.3 317.4h0.5M83.7 324.3h0.5M87.8 321.2h0.5M79.1 324.3h0.5M91.5 314.8h0.5M87.4 317.1h0.5M81.0 326.0h0.5M83.2 321.6h0.5M81.1 324.7h0.5M86.5 322.1h0.5M86.9 323.5h0.5M84.2 326.8h0.5M85.4 319.5h0.5M85.9 322.1h0.5M88.8 322.8h0.5M80.0 324.3h0.5M83.3 322.3h0.5M80.2 323.1h0.5M83.0 325.3h0.5M76.0 328.2h0.5M85.1 324.6h0.5M80.2 328.9h0.5M87.2 317.6h0.5M78.7 325.2h0.5M83.0 321.0h0.5M83.6 326.9h0.5M83.1 325.2h0.5M79.2 324.1h0.5M80.7 326.4h0.5M87.1 319.9h0.5M81.4 323.4h0.5M86.9 319.8h0.5M85.3 324.7h0.5M89.6 319.8h0.5M78.3 326.9h0.5M79.9 329.0h0.5M89.9 318.2h0.5M79.7 324.7h0.5M81.8 324.9h0.5M86.1 325.6h0.5M78.9 329.0h0.5M83.7 325.5h0.5M82.1 321.3h0.5M88.6 322.6h0.5M85.1 323.4h0.5M85.9 324.7h0.5M85.5 318.1h0.5M83.9 320.8h0.5M86.1 317.4h0.5M86.4 324.8h0.5M81.6 325.3h0.5M87.5 321.5h0.5M82.2 321.4h0.5M79.6 326.7h0.5M82.1 327.5h0.5M88.5 322.7h0.5M83.2 322.6h0.5M84.0 325.8h0.5M86.9 323.3h0.5M79.8 327.2h0.5M78.5 327.4h0.5M83.1 325.9h0.5M79.9 326.5h0.5M80.6 328.0h0.5M79.3 328.4h0.5M87.8 318.8h0.5M84.5 319.1h0.5M82.4 325.6h0.5M88.1 321.8h0.5M86.2 323.2h0.5M82.8 322.8h0.5M84.5 322.4h0.5M80.3 325.8h0.5M85.6 324.1h0.5M90.2 319.5h0.5M84.2 324.3h0.5M87.8 320.7h0.5M80.4 324.1h0.5M87.9 321.2h0.5M80.7 324.3h0.5M85.3 321.0h0.5M83.6 321.0h0.5M80.8 323.5h0.5M86.0 325.0h0.5M84.6 322.8h0.5M81.8 327.4h0.5M86.1 317.4h0.5M78.5 327.8h0.5M88.7 319.2h0.5M85.6 318.5h0.5M82.0 320.9h0.5M82.5 326.1h0.5M82.0 325.2h0.5M91.4 316.9h0.5M86.2 320.1h0.5M79.8 328.8h0.5M85.9 323.5h0.5M90.2 318.2h0.5M83.8 324.5h0.5M77.0 328.3h0.5M86.3 323.2h0.5M76.5 329.4h0.5M90.2 319.1h0.5M78.0 327.7h0.5M83.9 320.1h0.5M82.0 323.8h0.5M83.3 328.4h0.5M87.9 319.6h0.5M86.3 319.5h0.5M83.1 326.0h0.5M88.3 317.2h0.5M85.0 321.4h0.5M89.2 319.0h0.5M87.0 318.8h0.5M88.5 319.4h0.5M87.9 321.6h0.5M86.6 320.2h0.5M86.6 322.7h0.5M82.5 322.6h0.5M86.5 321.0h0.5M87.7 316.5h0.5M88.5 321.9h0.5M79.7 327.3h0.5M87.5 321.4h0.5M82.3 325.1h0.5M80.2 323.5h0.5M82.2 326.3h0.5M86.0 323.0h0.5M88.3 322.9h0.5M85.2 322.1h0.5M83.9 322.1h0.5M78.5 327.8h0.5M87.8 316.4h0.5M88.9 320.8h0.5M87.8 319.3h0.5M81.5 321.7h0.5M78.6 324.7h0.5M87.7 323.3h0.5M79.5 328.6h0.5M83.7 322.4h0.5M83.1 320.4h0.5M78.3 328.9h0.5M84.1 319.6h0.5M80.0 326.9h0.5M80.4 327.5h0.5M83.5 325.2h0.5M89.6 317.8h0.5M85.9 320.1h0.5M89.1 320.1h0.5M87.5 323.6h0.5M82.7 327.0h0.5M81.7 322.2h0.5M85.8 325.7h0.5M83.8 326.6h0.5M85.5 318.3h0.5M80.2 324.9h0.5M87.9 318.8h0.5M84.2 323.0h0.5M86.9 323.5h0.5M89.8 317.0h0.5M81.7 321.7h0.5M80.4 326.7h0.5M85.0 321.1h0.5M81.3 324.4h0.5M83.1 321.7h0.5M83.2 321.6h0.5M85.6 324.0h0.5M84.2 319.6h0.5M86.0 323.0h0.5M78.8 326.5h0.5M85.9 323.9h0.5M81.3 324.4h0.5M81.4 322.4h0.5M81.7 322.2h0.5M79.6 323.8h0.5M89.2 317.4h0.5M86.6 325.5h0.5M77.5 327.0h0.5M78.2 327.2h0.5M83.3 320.4h0.5M81.8 322.9h0.5M86.5 316.3h0.5M87.7 320.8h0.5M81.8 326.7h0.5M88.5 322.9h0.5M81.8 322.4h0.5" stroke="rgb(180,205,53)" stroke-width="0.5" stroke-opacity="0.95" fill="none"/>
<path d="M83.5 323.3h0.5M88.2 317.7h0.5M83.4 321.3h0.5M84.2 326.0h0.5M87.2 321.7h0.5M87.4 319.2h0.5M82.8 324.6h0.5M79.3 329.5h0.5M83.5 322.8h0.5M83.1 321.1h0.5M81.4 323.6h0.5M88.1 318.7h0.5M88.4 318.7h0.5M84.1 326.9h0.5M88.5 317.5h0.5M86.1 322.8h0.5M84.8 320.1h0.5M84.1 325.8h0.5M83.4 324.3h0.5M85.9 319.5h0.5M83.7 321.5h0.5M84.2 324.5h0.5M85.9 322.7h0.5M88.0 322.6h0.5M79.7 326.3h0.5M87.9 321.4h0.5M85.8 319.7h0.5M78.1 328.3h0.5M81.7 325.4h0.5M81.3 321.2h0.5M88.6 322.5h0.5M86.6 322.2h0.5M81.7 325.1h0.5M81.0 326.2h0.5M79.9 324.9h0.5M86.2 317.8h0.5M78.8 328.8h0.5M85.9 324.5h0.5M85.7 322.9h0.5M83.8 323.9h0.5M87.9 321.5h0.5M88.6 317.1h0.5M82.2 321.6h0.5M86.0 321.5h0.5M83.3 319.9h0.5M84.3 323.3h0.5M86.8 321.4h0.5M86.9 322.3h0.5M85.3 321.8h0.5M81.9 325.1h0.5M82.2 327.8h0.5M82.2 322.1h0.5M81.9 323.2h0.5M80.8 327.8h0.5M87.7 322.1h0.5M80.9 325.0h0.5M84.3 324.5h0.5M79.5 325.5h0.5M84.0 325.9h0.5M85.7 320.7h0.5M83.7 325.3h0.5M83.4 323.4h0.5M86.2 319.3h0.5M81.3 327.0h0.5M84.1 320.7h0.5M86.1 320.7h0.5M82.0 327.1h0.5M81.7 325.0h0.5M83.5 325.6h0.5M87.6 322.8h0.5M85.9 325.2h0.5M78.8 326.2h0.5M82.7 323.0h0.5M83.1 325.6h0.5M82.7 322.1h0.5M82.8 323.3h0.5M86.1 320.9h0.5M87.6 322.8h0.5M86.3 323.7h0.5M80.8 324.4h0.5M79.5 324.9h0.5M86.6 323.8h0.5M84.3 322.2h0.5M80.9 327.0h0.5M80.3 324.8h0.5M79.6 325.9h0.5M81.7 323.2h0.5M85.4 323.5h0.5M82.6 325.2h0.5M84.9 319.3h0.5M85.3 318.7h0.5M85.0 325.9h0.5M81.6 325.7h0.5M83.4 323.5h0.5M88.8 321.3h0.5M80.0 327.2h0.5M88.5 321.6h0.5M84.6 320.2h0.5M81.7 325.7h0.5M85.7 319.5h0.5M79.7 326.0h0.5M88.1 319.0h0.5M82.1 322.8h0.5M84.1 320.4h0.5M87.2 318.0h0.5M84.3 324.0h0.5M85.1 320.2h0.5M79.9 326.7h0.5M84.8 322.4h0.5M78.0 326.4h0.5M80.7 325.9h0.5M88.0 321.4h0.5M87.1 322.3h0.5M85.3 322.4h0.5M83.2 322.9h0.5M87.8 321.2h0.5M81.8 326.4h0.5M86.9 321.3h0.5M82.7 321.5h0.5M86.3 322.1h0.5M81.1 323.7h0.5M83.0 326.2h0.5M79.2 325.5h0.5M85.2 320.8h0.5M80.6 325.6h0.5M81.9 323.2h0.5M84.3 320.1h0.5M80.7 322.4h0.5M80.6 328.8h0.5M90.8 317.4h0.5M86.0 323.8h0.5M81.1 325.5h0.5M82.1 323.2h0.5M79.8 326.2h0.5M80.7 324.5h0.5M81.8 326.8h0.5M83.5 322.0h0.5M79.5 325.6h0.5M89.3 318.1h0.5M83.7 324.1h0.5M86.4 322.6h0.5M84.8 319.3h0.5M85.7 324.4h0.5M81.7 323.0h0.5M84.8 319.3h0.5M89.0 318.7h0.5M83.8 325.1h0.5M81.9 325.6h0.5M86.4 321.8h0.5M86.4 321.5h0.5M83.8 321.5h0.5M88.3 316.7h0.5M85.1 319.2h0.5M85.5 321.4h0.5M87.9 320.0h0.5M89.4 320.7h0.5M85.3 320.6h0.5M79.1 326.7h0.5M79.3 328.5h0.5M87.6 323.3h0.5M83.4 320.7h0.5M82.7 324.3h0.5M80.9 326.2h0.5M82.6 321.0h0.5M82.5 327.6h0.5M89.4 318.7h0.5M89.7 319.0h0.5M83.5 324.0h0.5M81.8 320.1h0.5M81.4 326.8h0.5M89.6 323.0h0.5M79.9 323.2h0.5M80.6 323.8h0.5M84.3 320.1h0.5M83.5 325.8h0.5M87.7 322.1h0.5M82.9 321.5h0.5M81.9 321.8h0.5M85.4 322.4h0.5M81.9 325.9h0.5M82.7 323.3h0.5M85.7 321.3h0.5M83.1 323.5h0.5M87.8 320.6h0.5M83.4 323.0h0.5M83.0 322.9h0.5M86.4 319.1h0.5M84.8 322.2h0.5M86.1 320.7h0.5M86.8 323.2h0.5M80.3 322.8h0.5M81.9 324.4h0.5M83.0 323.2h0.5M87.7 322.3h0.5M83.4 320.2h0.5M84.9 324.9h0.5M77.8 324.8h0.5M88.5 319.7h0.5M87.3 323.0h0.5M81.2 325.7h0.5M85.1 319.6h0.5M82.8 322.0h0.5M85.3 319.0h0.5M86.2 317.1h0.5M88.1 322.2h0.5M80.8 326.8h0.5M84.8 319.5h0.5M84.0 323.4h0.5M85.7 321.1h0.5M87.9 319.4h0.5M85.3 322.2h0.5M84.0 322.8h0.5M84.2 322.7h0.5M85.2 324.4h0.5M83.1 324.2h0.5M89.3 318.6h0.5M83.0 322.7h0.5M87.1 319.4h0.5M82.1 326.4h0.5M86.4 321.4h0.5M89.6 321.9h0.5M80.5 328.2h0.5M88.0 317.5h0.5" stroke="rgb(224,195,47)" stroke-width="0.5" stroke-opacity="0.95" fill="none"/>
<path d="M82.4 324.2h0.5M79.7 327.6h0.5M82.1 323.0h0.5M83.3 322.9h0.5M79.4 324.8h0.5M85.3 320.4h0.5M83.8 322.6h0.5M86.8 323.6h0.5M89.5 318.7h0.5M81.8 326.4h0.5M82.9 324.2h0.5M86.0 320.8h0.5M85.5 323.3h0.5M84.0 322.1h0.5M81.5 324.8h0.5M82.9 324.2h0.5M85.0 325.8h0.5M86.4 321.5h0.5M80.5 325.3h0.5M86.8 321.8h0.5M84.8 321.3h0.5M86.5 320.3h0.5M83.1 321.5h0.5M83.1 324.5h0.5M82.1 324.1h0.5M89.2 317.7h0.5M80.8 327.5h0.5M81.7 326.9h0.5M85.4 322.3h0.5M86.4 323.7h0.5M81.8 327.2h0.5M84.6 322.3h0.5M83.1 320.8h0.5M83.7 324.4h0.5M85.4 322.2h0.5M86.2 323.2h0.5M82.9 322.7h0.5M81.6 325.4h0.5M88.6 318.3h0.5M85.6 320.9h0.5M82.1 325.0h0.5M82.8 322.4h0.5M84.9 323.4h0.5M80.9 325.5h0.5M82.4 324.4h0.5M86.7 317.9h0.5M84.1 322.0h0.5M86.0 320.4h0.5M83.5 325.9h0.5M86.0 322.7h0.5M83.0 324.7h0.5M81.5 323.2h0.5M84.5 324.7h0.5M82.8 324.6h0.5M86.3 322.4h0.5M84.4 324.3h0.5M89.5 319.1h0.5M82.5 324.4h0.5M83.0 326.0h0.5M83.9 323.4h0.5M83.6 322.0h0.5M85.2 322.3h0.5M85.3 321.4h0.5M86.5 324.8h0.5M84.8 323.5h0.5M84.6 320.2h0.5M83.5 324.8h0.5M84.3 323.3h0.5M82.7 325.8h0.5M83.7 320.7h0.5M82.7 322.2h0.5M83.1 326.4h0.5M83.5 324.4h0.5M83.4 324.6h0.5M83.7 326.4h0.5M84.9 323.5h0.5M80.9 326.7h0.5M83.5 321.2h0.5M79.1 327.9h0.5M83.7 320.2h0.5M83.3 323.1h0.5M82.4 324.6h0.5M83.2 324.2h0.5M80.2 325.3h0.5M85.8 324.0h0.5M84.0 324.3h0.5M85.4 325.9h0.5M84.7 322.7h0.5M83.4 325.0h0.5M87.4 320.2h0.5M85.1 325.5h0.5M86.7 322.9h0.5M88.6 316.9h0.5M83.0 323.0h0.5M80.9 327.8h0.5M83.0 319.3h0.5M82.0 323.5h0.5M84.1 321.5h0.5M85.8 321.3h0.5M86.6 318.1h0.5M81.5 324.3h0.5M80.0 323.1h0.5M83.0 321.6h0.5M79.7 327.5h0.5M81.8 326.5h0.5M79.0 325.8h0.5M86.5 322.8h0.5M83.6 324.1h0.5M81.7 325.9h0.5M82.7 326.8h0.5M84.2 320.7h0.5M80.0 326.0h0.5M81.0 326.2h0.5M83.4 323.2h0.5M83.1 324.0h0.5M83.7 322.0h0.5M83.1 324.5h0.5M87.2 318.7h0.5M85.2 325.7h0.5M83.1 324.7h0.5M84.4 323.0h0.5M82.0 323.4h0.5M86.0 322.2h0.5M80.0 327.5h0.5M81.8 326.2h0.5M78.9 324.8h0.5M87.4 320.2h0.5M86.8 321.0h0.5M86.2 321.3h0.5M84.6 319.7h0.5M86.1 321.5h0.5M83.9 324.9h0.5M81.5 325.6h0.5M81.5 325.6h0.5M87.1 323.0h0.5M89.3 320.2h0.5M82.6 323.7h0.5M82.0 325.4h0.5M81.5 323.5h0.5M86.3 321.5h0.5M82.5 321.5h0.5M85.7 323.6h0.5M82.9 321.8h0.5M82.7 323.9h0.5M85.8 324.3h0.5M82.5 321.5h0.5M85.3 324.5h0.5M82.8 323.6h0.5M84.8 321.3h0.5M80.4 324.3h0.5M84.9 322.3h0.5M85.4 320.2h0.5M85.6 323.6h0.5M84.1 320.5h0.5M84.4 323.1h0.5M85.7 324.4h0.5M83.1 320.8h0.5M78.7 327.7h0.5M85.8 321.3h0.5M85.8 320.3h0.5M84.5 319.7h0.5M82.9 321.7h0.5M80.8 326.4h0.5M88.1 320.8h0.5M85.8 323.4h0.5M83.9 319.7h0.5M90.4 320.2h0.5" stroke="rgb(243,154,41)" stroke-width="0.5" stroke-opacity="0.95" fill="none"/>
<path d="M83.4 321.6h0.5M82.9 323.6h0.5M85.5 320.2h0.5M84.6 324.1h0.5M86.2 322.4h0.5M82.6 324.2h0.5M83.8 322.4h0.5M83.2 324.3h0.5M86.4 323.8h0.5M85.5 321.5h0.5M82.3 325.0h0.5M88.3 320.2h0.5M80.2 327.2h0.5M83.6 324.0h0.5M83.5 325.4h0.5M85.4 323.6h0.5M84.8 324.1h0.5M83.7 324.3h0.5M82.9 320.3h0.5M86.0 323.3h0.5M88.2 321.1h0.5M83.9 324.5h0.5M83.6 322.8h0.5M88.4 321.3h0.5M85.0 324.9h0.5M80.1 328.0h0.5M85.9 322.8h0.5M83.7 324.8h0.5M86.2 323.2h0.5M86.8 320.2h0.5M86.0 323.9h0.5M84.2 323.5h0.5M81.8 323.5h0.5M83.7 323.7h0.5M83.4 323.2h0.5M79.9 323.7h0.5M84.4 325.7h0.5M84.9 324.3h0.5M85.0 322.6h0.5M83.2 324.8h0.5M82.4 325.3h0.5M85.6 324.6h0.5M85.0 323.0h0.5M83.4 322.0h0.5M79.2 325.2h0.5M80.1 327.0h0.5M82.2 324.3h0.5M85.8 323.7h0.5M84.7 321.8h0.5M85.6 323.3h0.5M83.1 325.4h0.5M85.4 322.9h0.5M84.9 323.8h0.5M82.2 325.3h0.5M80.4 324.8h0.5M86.5 324.0h0.5M83.7 324.4h0.5M89.5 321.4h0.5M85.6 322.9h0.5M84.9 321.4h0.5M86.7 321.7h0.5M85.4 322.1h0.5M83.9 323.4h0.5M86.5 322.6h0.5M84.3 324.0h0.5M84.3 322.5h0.5M82.6 324.4h0.5M83.4 324.8h0.5M81.4 323.9h0.5M85.2 323.2h0.5M87.9 319.0h0.5M84.6 325.6h0.5M82.5 325.0h0.5M85.7 323.8h0.5M80.4 325.3h0.5M86.4 322.4h0.5M84.3 323.8h0.5M86.0 322.0h0.5M84.5 324.1h0.5M85.3 323.9h0.5M87.7 319.8h0.5M84.1 324.4h0.5M85.7 323.9h0.5M82.3 322.6h0.5M85.4 322.2h0.5M82.8 324.3h0.5M82.1 326.4h0.5M80.8 325.5h0.5M82.0 324.2h0.5M81.7 327.6h0.5M84.3 323.9h0.5M85.4 321.5h0.5M85.0 323.5h0.5M85.4 321.9h0.5M84.5 323.9h0.5M82.6 324.5h0.5M85.2 323.1h0.5M84.7 321.8h0.5M82.9 324.1h0.5M84.2 322.8h0.5M83.0 324.5h0.5M84.2 321.0h0.5M84.3 322.8h0.5M86.2 321.9h0.5M82.7 323.5h0.5M86.1 323.9h0.5M83.7 323.9h0.5M82.8 322.4h0.5M86.1 322.2h0.5M86.3 323.2h0.5M84.9 323.9h0.5M82.2 323.7h0.5M85.7 322.5h0.5M80.5 325.5h0.5M82.6 325.7h0.5M86.1 322.0h0.5M85.7 321.3h0.5M86.0 321.8h0.5M84.0 324.7h0.5M83.1 325.9h0.5M81.5 325.9h0.5M86.3 322.4h0.5M82.7 323.9h0.5M84.3 324.8h0.5M85.2 319.5h0.5M83.7 323.4h0.5M84.0 322.1h0.5M84.1 324.1h0.5M81.0 326.0h0.5M83.5 324.9h0.5M81.6 326.4h0.5M88.8 321.9h0.5M79.9 327.8h0.5M82.9 323.8h0.5M82.7 326.8h0.5M83.6 324.8h0.5M85.3 323.6h0.5M90.3 318.6h0.5M81.3 326.4h0.5M87.7 318.3h0.5M84.4 322.1h0.5M83.6 323.2h0.5M82.8 325.2h0.5M85.5 323.0h0.5M85.1 323.9h0.5M84.8 325.8h0.5M80.7 326.8h0.5M83.2 323.1h0.5M88.1 318.8h0.5M84.1 322.6h0.5M85.5 323.2h0.5M85.7 320.6h0.5M89.3 319.6h0.5M84.8 324.4h0.5M83.1 322.2h0.5M83.3 321.4h0.5M81.7 326.6h0.5M86.2 323.8h0.5M85.1 322.1h0.5M83.9 321.3h0.5M84.3 322.0h0.5M81.2 323.8h0.5M84.3 322.9h0.5M81.2 326.7h0.5M85.3 325.6h0.5" stroke="rgb(240,99,40)" stroke-width="0.5" stroke-opacity="0.95" fill="none"/>
<path d="M71.2 231.5h0.45M106.5 231.5h0.45M98.5 231.5h0.45M107.5 231.2h0.45M105.9 231.2h0.45M68.3 231.4h0.45M65.2 231.4h0.45M65.6 231.3h0.45M77.7 231.3h0.45M68.8 231.5h0.45M65.6 231.4h0.45M69.8 231.4h0.45" stroke="rgb(64,95,191)" stroke-width="0.45" stroke-opacity="0.75" fill="none"/>
<path d="M78.2 231.3h0.45M74.0 231.3h0.45M79.0 231.4h0.45M95.6 231.2h0.45M101.9 231.4h0.45M95.5 231.5h0.45M105.2 231.5h0.45M75.2 231.4h0.45M98.7 231.4h0.45M74.6 231.4h0.45M76.9 231.5h0.45M106.2 231.3h0.45M101.9 231.3h0.45M72.9 231.5h0.45M76.4 231.4h0.45M101.9 231.3h0.45M97.9 231.3h0.45M72.8 231.3h0.45M96.2 231.5h0.45M100.6 231.4h0.45M76.0 231.4h0.45M103.9 231.5h0.45M100.8 231.2h0.45M97.4 231.2h0.45M101.7 231.4h0.45M99.9 231.3h0.45M104.8 231.4h0.45M103.2 231.4h0.45M97.8 231.5h0.45M74.2 231.4h0.45M79.2 231.4h0.45M76.0 231.3h0.45M103.1 231.5h0.45" stroke="rgb(59,104,194)" stroke-width="0.45" stroke-opacity="0.75" fill="none"/>
<path d="M95.3 231.4h0.45M82.4 231.4h0.45M74.0 231.3h0.45M97.3 231.3h0.45M79.8 231.3h0.45M80.0 231.4h0.45M95.0 231.4h0.45M96.1 231.3h0.45M96.6 231.5h0.45M74.3 231.3h0.45M74.5 231.5h0.45M96.2 231.5h0.45M85.1 231.5h0.45M82.5 231.5h0.45M79.4 231.2h0.45M75.7 231.4h0.45M83.4 231.4h0.45M84.1 231.4h0.45M91.7 231.5h0.45M93.7 231.4h0.45M85.3 231.3h0.45M95.0 231.4h0.45M90.1 231.5h0.45M82.1 231.4h0.45M95.0 231.4h0.45M75.5 231.3h0.45M83.5 231.5h0.45M98.2 231.3h0.45" stroke="rgb(57,121,180)" stroke-width="0.45" stroke-opacity="0.75" fill="none"/>
<path d="M91.5 231.3h0.45M81.5 231.4h0.45M91.1 231.3h0.45M82.7 231.4h0.45M80.0 231.4h0.45M82.0 231.3h0.45M86.2 231.2h0.45M80.7 231.3h0.45M82.6 231.3h0.45M93.2 231.4h0.45M90.5 231.4h0.45M92.1 231.2h0.45M79.5 231.4h0.45M87.5 231.5h0.45M93.1 231.4h0.45M81.0 231.5h0.45M94.2 231.3h0.45M89.1 231.4h0.45M80.8 231.4h0.45M90.7 231.2h0.45M85.1 231.5h0.45M90.2 231.3h0.45M82.3 231.5h0.45M84.6 231.5h0.45M86.7 231.3h0.45M83.0 231.2h0.45M91.3 231.3h0.45M83.0 231.2h0.45M81.4 231.3h0.45M90.5 231.4h0.45M85.1 231.4h0.45M79.7 231.5h0.45" stroke="rgb(60,156,125)" stroke-width="0.45" stroke-opacity="0.75" fill="none"/>
<path d="M88.9 231.2h0.45M90.5 231.3h0.45M93.1 231.5h0.45M93.2 231.4h0.45M86.5 231.3h0.45M92.7 231.5h0.45M81.6 231.4h0.45M87.6 231.4h0.45M92.6 231.4h0.45M92.3 231.2h0.45M85.2 231.4h0.45M87.5 231.2h0.45M87.5 231.4h0.45M84.4 231.4h0.45M83.3 231.2h0.45M92.7 231.4h0.45M88.6 231.5h0.45M90.0 231.4h0.45M80.6 231.3h0.45M88.2 231.5h0.45M82.1 231.4h0.45M88.9 231.4h0.45M86.8 231.5h0.45M87.8 231.3h0.45M85.5 231.4h0.45M86.5 231.4h0.45M87.8 231.5h0.45M79.4 231.4h0.45M87.5 231.4h0.45M86.3 231.4h0.45M93.1 231.4h0.45M85.6 231.3h0.45M90.0 231.4h0.45M85.8 231.4h0.45M88.2 231.4h0.45M88.8 231.4h0.45M92.7 231.5h0.45M82.3 231.5h0.45M92.0 231.3h0.45M82.2 231.3h0.45M90.3 231.3h0.45M81.6 231.3h0.45M82.4 231.5h0.45M85.9 231.5h0.45M89.2 231.3h0.45M91.8 231.2h0.45M80.8 231.5h0.45M92.2 231.3h0.45" stroke="rgb(77,171,86)" stroke-width="0.45" stroke-opacity="0.75" fill="none"/>
<path d="M88.6 231.4h0.45M92.5 231.4h0.45M86.7 231.4h0.45M86.4 231.5h0.45M86.6 231.4h0.45M93.5 231.4h0.45M93.1 231.3h0.45M93.2 231.4h0.45M81.7 231.2h0.45M92.9 231.4h0.45M89.7 231.3h0.45M88.6 231.3h0.45M88.9 231.3h0.45M81.3 231.5h0.45M89.5 231.4h0.45M90.3 231.5h0.45M93.2 231.2h0.45M87.0 231.4h0.45M86.5 231.3h0.45M81.1 231.4h0.45M86.4 231.3h0.45M88.7 231.3h0.45M91.4 231.4h0.45M81.0 231.2h0.45M81.1 231.5h0.45M85.4 231.5h0.45M92.3 231.2h0.45" stroke="rgb(111,186,58)" stroke-width="0.45" stroke-opacity="0.75" fill="none"/>
<path d="M91.1 231.3h0.45M87.4 231.3h0.45M86.5 231.4h0.45M89.2 231.5h0.45M92.8 231.2h0.45M90.9 231.2h0.45M86.6 231.2h0.45M89.7 231.3h0.45M87.3 231.4h0.45M86.9 231.4h0.45" stroke="rgb(180,205,53)" stroke-width="0.45" stroke-opacity="0.75" fill="none"/>
<path d="M86.4 231.4h0.45M90.3 231.5h0.45M86.1 231.3h0.45M85.5 231.4h0.45M93.1 231.3h0.45M88.1 231.3h0.45M89.7 231.4h0.45" stroke="rgb(224,195,47)" stroke-width="0.45" stroke-opacity="0.75" fill="none"/>
<path d="M86.6 231.3h0.45M87.9 231.3h0.45M87.0 231.3h0.45" stroke="rgb(240,99,40)" stroke-width="0.45" stroke-opacity="0.75" fill="none"/>
<rect x="46.4" y="230.8" width="106.10" height="114.60" fill="none" stroke="#6e6e6e" stroke-width="0.9"/>
<line x1="43.40" y1="345.60" x2="46.40" y2="345.60" stroke="#4a4a4a" stroke-width="0.7"/>
<line x1="46.40" y1="345.40" x2="46.40" y2="348.40" stroke="#4a4a4a" stroke-width="0.7"/>
<line x1="44.90" y1="338.56" x2="46.40" y2="338.56" stroke="#4a4a4a" stroke-width="0.7"/>
<line x1="52.85" y1="345.40" x2="52.85" y2="346.90" stroke="#4a4a4a" stroke-width="0.7"/>
<line x1="44.90" y1="331.53" x2="46.40" y2="331.53" stroke="#4a4a4a" stroke-width="0.7"/>
<line x1="59.30" y1="345.40" x2="59.30" y2="346.90" stroke="#4a4a4a" stroke-width="0.7"/>
<line x1="44.90" y1="324.49" x2="46.40" y2="324.49" stroke="#4a4a4a" stroke-width="0.7"/>
<line x1="65.75" y1="345.40" x2="65.75" y2="346.90" stroke="#4a4a4a" stroke-width="0.7"/>
<line x1="43.40" y1="317.45" x2="46.40" y2="317.45" stroke="#4a4a4a" stroke-width="0.7"/>
<line x1="72.20" y1="345.40" x2="72.20" y2="348.40" stroke="#4a4a4a" stroke-width="0.7"/>
<line x1="44.90" y1="310.41" x2="46.40" y2="310.41" stroke="#4a4a4a" stroke-width="0.7"/>
<line x1="78.65" y1="345.40" x2="78.65" y2="346.90" stroke="#4a4a4a" stroke-width="0.7"/>
<line x1="44.90" y1="303.38" x2="46.40" y2="303.38" stroke="#4a4a4a" stroke-width="0.7"/>
<line x1="85.10" y1="345.40" x2="85.10" y2="346.90" stroke="#4a4a4a" stroke-width="0.7"/>
<line x1="44.90" y1="296.34" x2="46.40" y2="296.34" stroke="#4a4a4a" stroke-width="0.7"/>
<line x1="91.55" y1="345.40" x2="91.55" y2="346.90" stroke="#4a4a4a" stroke-width="0.7"/>
<line x1="43.40" y1="289.30" x2="46.40" y2="289.30" stroke="#4a4a4a" stroke-width="0.7"/>
<line x1="98.00" y1="345.40" x2="98.00" y2="348.40" stroke="#4a4a4a" stroke-width="0.7"/>
<line x1="44.90" y1="282.26" x2="46.40" y2="282.26" stroke="#4a4a4a" stroke-width="0.7"/>
<line x1="104.45" y1="345.40" x2="104.45" y2="346.90" stroke="#4a4a4a" stroke-width="0.7"/>
<line x1="44.90" y1="275.23" x2="46.40" y2="275.23" stroke="#4a4a4a" stroke-width="0.7"/>
<line x1="110.90" y1="345.40" x2="110.90" y2="346.90" stroke="#4a4a4a" stroke-width="0.7"/>
<line x1="44.90" y1="268.19" x2="46.40" y2="268.19" stroke="#4a4a4a" stroke-width="0.7"/>
<line x1="117.35" y1="345.40" x2="117.35" y2="346.90" stroke="#4a4a4a" stroke-width="0.7"/>
<line x1="43.40" y1="261.15" x2="46.40" y2="261.15" stroke="#4a4a4a" stroke-width="0.7"/>
<line x1="123.80" y1="345.40" x2="123.80" y2="348.40" stroke="#4a4a4a" stroke-width="0.7"/>
<line x1="44.90" y1="254.11" x2="46.40" y2="254.11" stroke="#4a4a4a" stroke-width="0.7"/>
<line x1="130.25" y1="345.40" x2="130.25" y2="346.90" stroke="#4a4a4a" stroke-width="0.7"/>
<line x1="44.90" y1="247.08" x2="46.40" y2="247.08" stroke="#4a4a4a" stroke-width="0.7"/>
<line x1="136.70" y1="345.40" x2="136.70" y2="346.90" stroke="#4a4a4a" stroke-width="0.7"/>
<line x1="44.90" y1="240.04" x2="46.40" y2="240.04" stroke="#4a4a4a" stroke-width="0.7"/>
<line x1="143.15" y1="345.40" x2="143.15" y2="346.90" stroke="#4a4a4a" stroke-width="0.7"/>
<line x1="43.40" y1="233.00" x2="46.40" y2="233.00" stroke="#4a4a4a" stroke-width="0.7"/>
<line x1="149.60" y1="345.40" x2="149.60" y2="348.40" stroke="#4a4a4a" stroke-width="0.7"/>
<text x="41.60" y="347.40" font-size="5.30" text-anchor="end" fill="#333" stroke="#333" stroke-width="0.18">0</text>
<text x="46.40" y="356.30" font-size="5.30" text-anchor="middle" fill="#333" stroke="#333" stroke-width="0.18">0</text>
<text x="41.60" y="319.25" font-size="5.30" text-anchor="end" fill="#333" stroke="#333" stroke-width="0.18">1000</text>
<text x="72.20" y="356.30" font-size="5.30" text-anchor="middle" fill="#333" stroke="#333" stroke-width="0.18">1000</text>
<text x="41.60" y="291.10" font-size="5.30" text-anchor="end" fill="#333" stroke="#333" stroke-width="0.18">2000</text>
<text x="98.00" y="356.30" font-size="5.30" text-anchor="middle" fill="#333" stroke="#333" stroke-width="0.18">2000</text>
<text x="41.60" y="262.95" font-size="5.30" text-anchor="end" fill="#333" stroke="#333" stroke-width="0.18">3000</text>
<text x="123.80" y="356.30" font-size="5.30" text-anchor="middle" fill="#333" stroke="#333" stroke-width="0.18">3000</text>
<text x="41.60" y="234.80" font-size="5.30" text-anchor="end" fill="#333" stroke="#333" stroke-width="0.18">4000</text>
<text x="149.60" y="356.30" font-size="5.30" text-anchor="middle" fill="#333" stroke="#333" stroke-width="0.18">4000</text>
<ellipse cx="87" cy="318.4" rx="20.5" ry="10.5" transform="rotate(-46 87 318.4)" fill="none" stroke="#d870c4" stroke-width="0.55"/>
<text x="101.90" y="323.20" font-size="8.80" textLength="26.20" lengthAdjust="spacingAndGlyphs" stroke="#000" stroke-width="0.2">R1 67%</text>
<text transform="translate(29.70,296.40) rotate(-90)" font-size="12.6" textLength="24.10" lengthAdjust="spacingAndGlyphs" stroke="#000" stroke-width="0.2">SSC</text>
<text x="88.60" y="368.90" font-size="11.60" textLength="18.80" lengthAdjust="spacingAndGlyphs" stroke="#000" stroke-width="0.2">FSC</text>
<text x="186.40" y="222.00" font-size="11.40" letter-spacing="0.35" stroke="#000" stroke-width="0.3">II</text>
<path d="M242.0 288.8h0.55M244.5 280.9h0.55M255.0 265.5h0.55M244.2 290.4h0.55M243.5 285.6h0.55M244.2 279.1h0.55M244.1 284.7h0.55M257.4 298.5h0.55M259.4 281.1h0.55M256.6 270.2h0.55M249.3 261.3h0.55M251.8 262.4h0.55M253.1 257.1h0.55M256.3 291.8h0.55M248.9 267.4h0.55M245.1 285.8h0.55M245.6 289.7h0.55M248.6 258.7h0.55M256.0 267.7h0.55M253.9 264.4h0.55M258.5 274.2h0.55M243.7 289.2h0.55M243.6 291.6h0.55M251.0 263.3h0.55M257.5 295.2h0.55M259.6 295.0h0.55M242.1 271.7h0.55M248.6 258.2h0.55M256.9 276.4h0.55M257.9 303.1h0.55M247.2 259.5h0.55M247.1 268.5h0.55M253.1 262.6h0.55M259.0 270.7h0.55M246.9 268.2h0.55M247.8 265.6h0.55M248.0 264.7h0.55M247.7 299.6h0.55M257.7 298.4h0.55M244.0 282.8h0.55M251.8 259.5h0.55M246.6 260.7h0.55M243.9 290.1h0.55M249.1 305.2h0.55M254.2 297.8h0.55M243.3 280.4h0.55M255.6 268.5h0.55M257.7 269.7h0.55M246.6 302.3h0.55M246.3 296.3h0.55M247.7 264.3h0.55M252.1 259.7h0.55M245.2 267.4h0.55M247.0 295.3h0.55M257.8 270.1h0.55M248.7 257.1h0.55M242.8 260.3h0.55M245.9 279.4h0.55M251.2 263.0h0.55M247.5 302.4h0.55M254.5 264.2h0.55M244.4 295.0h0.55M258.1 276.8h0.55M251.0 256.1h0.55M256.3 271.0h0.55M257.0 291.3h0.55M247.2 260.8h0.55M240.6 299.7h0.55M243.0 271.3h0.55M244.0 276.8h0.55M256.7 281.1h0.55M247.2 298.6h0.55M249.0 263.5h0.55M256.1 272.5h0.55M252.0 262.2h0.55M254.8 300.1h0.55M256.6 271.8h0.55M247.9 259.5h0.55M252.7 297.9h0.55M244.3 262.3h0.55M243.2 293.5h0.55M243.3 290.8h0.55M254.3 306.4h0.55M253.9 301.0h0.55M254.0 304.7h0.55M246.3 301.3h0.55M255.4 263.3h0.55M256.5 280.3h0.55M243.0 277.3h0.55M258.8 277.1h0.55M255.0 261.4h0.55M257.4 278.3h0.55M251.8 300.5h0.55M247.0 298.8h0.55M244.6 293.1h0.55M247.8 299.9h0.55M254.2 305.2h0.55M244.9 270.6h0.55M252.5 305.3h0.55M241.8 272.6h0.55M255.9 298.1h0.55M245.8 285.9h0.55M250.1 264.9h0.55M247.1 253.8h0.55M247.9 254.7h0.55M249.1 261.7h0.55M259.9 287.2h0.55M272.0 265.5h0.55M243.2 264.0h0.55M242.7 303.4h0.55M249.7 301.1h0.55M268.5 273.4h0.55M246.3 313.6h0.55M245.5 307.4h0.55M254.4 252.9h0.55M240.6 311.0h0.55M254.6 321.0h0.55M239.3 295.0h0.55M254.3 263.8h0.55M247.3 305.4h0.55M264.2 271.5h0.55M258.9 279.1h0.55M261.9 299.9h0.55M255.0 302.6h0.55M246.3 257.6h0.55M247.7 265.2h0.55M239.3 282.5h0.55M255.9 298.8h0.55M239.5 296.4h0.55M251.0 307.7h0.55M237.4 293.3h0.55M261.8 310.6h0.55M252.5 305.9h0.55M266.1 279.0h0.55M260.1 255.1h0.55M257.3 266.6h0.55M259.7 285.9h0.55M256.3 266.1h0.55M256.0 269.5h0.55M255.6 261.2h0.55M239.0 317.7h0.55M240.8 281.4h0.55M241.9 296.4h0.55M256.3 311.6h0.55M255.5 260.9h0.55M244.0 266.7h0.55M257.4 306.8h0.55M245.1 270.4h0.55M244.5 299.5h0.55M261.3 278.8h0.55M243.9 282.7h0.55M259.8 282.7h0.55M260.5 286.9h0.55M258.1 274.9h0.55M246.3 292.5h0.55M261.2 294.2h0.55M260.7 272.5h0.55M266.3 300.9h0.55M260.1 267.1h0.55M261.3 295.4h0.55M258.2 273.3h0.55M259.6 267.5h0.55M240.5 282.3h0.55M255.6 265.7h0.55M263.3 304.0h0.55M241.9 283.6h0.55M242.7 299.3h0.55M258.8 290.8h0.55M260.2 283.2h0.55M252.2 311.0h0.55M262.9 293.0h0.55M244.5 290.5h0.55M259.0 310.5h0.55M244.3 291.1h0.55M237.5 273.7h0.55M242.8 281.3h0.55M258.2 268.1h0.55M254.0 312.1h0.55M242.9 263.1h0.55M260.5 278.9h0.55M263.5 301.1h0.55M265.6 283.8h0.55M258.0 289.8h0.55M234.8 294.1h0.55M244.4 301.5h0.55M246.0 293.7h0.55M259.3 267.9h0.55M243.7 297.6h0.55M254.1 302.3h0.55M250.1 259.0h0.55M242.8 278.5h0.55M258.9 273.3h0.55M258.9 299.4h0.55M244.4 294.7h0.55M255.8 260.9h0.55M265.9 298.3h0.55M258.8 300.8h0.55M262.3 281.0h0.55M263.8 309.3h0.55M254.8 301.9h0.55M247.7 312.2h0.55M265.9 285.3h0.55M244.9 287.8h0.55M247.2 233.6h0.55M254.7 259.4h0.55M248.2 303.3h0.55M261.3 266.8h0.55M243.1 285.8h0.55M241.5 293.2h0.55M264.7 283.9h0.55M251.0 316.5h0.55M243.9 288.3h0.55M254.6 295.3h0.55M263.6 286.7h0.55M258.0 278.7h0.55M260.8 290.9h0.55M262.3 271.7h0.55M244.2 275.2h0.55M250.1 249.9h0.55M260.8 272.3h0.55M262.1 283.3h0.55M257.5 296.4h0.55M242.9 301.1h0.55M240.5 280.0h0.55M243.9 268.7h0.55M257.4 263.9h0.55M256.0 299.0h0.55M243.6 270.7h0.55M247.3 268.4h0.55M249.3 257.0h0.55M244.5 305.7h0.55M258.8 304.7h0.55M241.0 259.1h0.55M246.3 313.5h0.55M247.0 307.0h0.55M259.0 264.5h0.55M241.9 269.5h0.55M248.2 304.5h0.55M238.7 294.1h0.55M260.0 265.7h0.55M252.0 307.4h0.55M262.8 286.2h0.55M241.6 268.9h0.55M240.5 299.8h0.55M266.7 286.1h0.55M263.2 282.8h0.55M247.2 303.7h0.55M255.9 310.8h0.55M262.0 273.6h0.55M259.7 288.4h0.55M262.3 303.3h0.55M252.2 263.5h0.55M261.5 290.1h0.55M249.0 319.9h0.55M255.4 306.9h0.55M259.1 323.8h0.55M252.9 328.3h0.55M258.2 308.9h0.55M238.0 295.2h0.55M253.2 327.7h0.55M253.9 300.9h0.55M244.1 306.9h0.55M249.8 305.3h0.55M250.0 328.0h0.55M254.5 325.6h0.55M249.4 336.8h0.55M252.1 341.2h0.55M252.2 333.2h0.55M242.3 311.9h0.55M244.3 317.8h0.55M257.4 305.3h0.55M249.3 335.0h0.55M257.5 314.2h0.55M241.8 317.5h0.55M257.4 328.5h0.55M256.0 309.0h0.55M256.4 322.7h0.55M241.2 303.6h0.55M260.0 321.1h0.55M246.9 326.5h0.55M252.8 328.0h0.55M258.6 305.5h0.55M257.0 335.4h0.55M262.6 315.5h0.55M250.5 307.8h0.55M243.8 316.3h0.55M244.8 316.9h0.55M252.7 333.3h0.55M254.1 335.5h0.55M264.2 324.2h0.55M248.2 314.2h0.55M253.2 320.6h0.55M242.8 294.9h0.55M245.2 320.2h0.55M250.8 332.4h0.55M268.9 322.6h0.55M254.8 312.2h0.55M256.1 335.4h0.55M244.6 296.3h0.55M250.5 327.7h0.55M259.8 319.7h0.55M252.6 316.7h0.55M260.4 304.6h0.55M246.7 318.3h0.55M253.8 309.6h0.55M257.5 318.5h0.55M264.6 310.3h0.55M266.4 338.9h0.55M247.5 338.7h0.55M262.3 313.6h0.55M252.7 319.9h0.55M253.4 321.8h0.55M252.4 327.0h0.55M241.4 310.7h0.55M257.0 308.1h0.55M250.4 325.6h0.55M253.1 308.3h0.55M251.3 325.4h0.55M252.4 318.6h0.55M254.2 328.9h0.55M260.1 306.7h0.55M254.2 317.3h0.55M257.3 339.1h0.55M247.4 331.7h0.55M250.3 338.8h0.55M249.9 339.8h0.55M258.1 301.3h0.55M257.9 302.6h0.55M259.1 311.6h0.55M256.6 318.7h0.55M247.4 333.3h0.55M261.5 319.1h0.55M261.3 328.3h0.55M243.7 335.8h0.55M270.1 300.8h0.55M250.1 321.9h0.55M262.7 332.6h0.55M247.9 334.6h0.55M257.3 323.5h0.55M255.6 329.4h0.55M260.8 341.3h0.55M256.0 333.8h0.55M249.6 314.7h0.55M243.5 330.0h0.55M243.1 313.2h0.55M260.5 328.5h0.55M255.5 316.6h0.55M252.0 324.7h0.55M264.7 324.3h0.55M252.2 315.7h0.55M253.9 308.0h0.55M255.6 326.2h0.55M253.9 324.9h0.55M261.2 307.7h0.55M258.0 294.2h0.55M255.9 311.4h0.55M258.3 327.3h0.55M260.4 311.3h0.55M263.5 324.4h0.55M258.0 327.0h0.55M252.7 318.0h0.55M255.1 341.4h0.55M251.4 324.2h0.55M262.9 297.9h0.55M252.4 313.0h0.55M256.7 307.8h0.55M251.2 335.0h0.55M255.7 304.7h0.55M251.4 309.2h0.55M264.1 330.6h0.55M262.7 320.6h0.55M251.7 315.5h0.55M258.1 312.2h0.55M254.6 331.5h0.55M251.2 323.1h0.55M250.4 320.2h0.55M256.7 317.3h0.55M259.6 324.2h0.55M258.4 307.7h0.55M258.9 329.5h0.55M253.7 340.3h0.55M262.5 315.5h0.55M253.5 324.0h0.55M254.2 314.6h0.55M257.1 300.6h0.55M244.6 299.4h0.55M258.5 316.5h0.55M256.9 315.5h0.55M258.8 321.4h0.55M278.0 316.5h0.55M247.1 304.9h0.55M248.8 315.8h0.55M259.3 330.1h0.55M241.5 287.7h0.55M248.3 304.6h0.55M249.7 340.1h0.55M255.8 321.9h0.55M267.3 330.8h0.55M249.2 317.8h0.55M242.1 325.6h0.55M242.1 324.0h0.55M255.7 306.2h0.55M252.2 305.8h0.55M269.3 285.4h0.55M246.4 320.6h0.55M242.2 315.3h0.55M258.8 314.3h0.55M265.3 325.1h0.55M266.9 320.8h0.55M254.7 331.3h0.55M252.3 314.2h0.55M250.0 316.7h0.55M258.1 329.9h0.55M255.3 321.8h0.55M247.5 313.8h0.55M257.3 334.9h0.55M257.7 300.4h0.55M259.2 333.4h0.55M250.6 308.8h0.55M253.1 329.8h0.55M255.6 308.0h0.55M250.4 323.8h0.55M265.1 324.9h0.55M259.5 329.1h0.55M250.2 299.9h0.55M253.0 321.2h0.55M258.5 294.4h0.55M259.9 321.7h0.55M259.9 309.9h0.55M258.3 317.8h0.55M257.7 324.2h0.55M248.2 320.7h0.55M255.6 316.0h0.55M258.0 286.5h0.55M260.3 304.1h0.55M262.5 309.9h0.55M244.1 338.8h0.55M243.2 307.7h0.55M247.0 339.4h0.55M248.7 310.2h0.55M262.8 324.9h0.55M250.5 313.2h0.55M265.0 318.8h0.55M259.7 295.1h0.55M257.4 292.6h0.55M252.0 326.0h0.55M258.8 325.9h0.55M254.7 315.1h0.55M258.6 327.3h0.55M261.0 297.6h0.55M258.7 327.4h0.55M255.5 330.5h0.55M243.2 330.4h0.55M257.7 318.4h0.55M254.4 306.4h0.55M241.2 309.8h0.55M251.3 332.7h0.55M248.0 317.5h0.55M254.8 331.5h0.55M267.0 323.6h0.55M261.4 305.9h0.55M246.8 336.3h0.55M261.0 308.7h0.55M255.5 310.2h0.55M254.4 329.2h0.55M232.3 321.7h0.55M256.5 340.7h0.55M258.7 294.3h0.55M255.2 320.7h0.55M259.1 340.9h0.55M254.5 325.3h0.55M247.2 333.8h0.55M263.6 329.6h0.55M261.2 316.5h0.55M251.8 328.7h0.55M259.5 327.5h0.55M248.8 315.0h0.55M250.2 302.9h0.55M264.3 343.8h0.55M258.1 339.9h0.55M259.4 319.5h0.55M260.3 311.8h0.55M252.4 315.4h0.55M268.1 336.8h0.55M262.2 301.7h0.55M249.9 331.8h0.55M250.6 334.5h0.55M250.9 307.7h0.55M250.8 328.1h0.55M245.2 328.1h0.55M250.7 336.0h0.55M258.3 299.6h0.55M263.4 325.2h0.55M261.7 299.3h0.55M262.3 339.5h0.55M266.5 330.7h0.55M256.7 314.5h0.55M262.1 304.3h0.55M263.2 283.9h0.55M255.9 323.5h0.55M261.5 338.1h0.55M266.0 293.6h0.55M265.5 312.0h0.55M252.4 313.4h0.55M248.1 312.6h0.55M249.4 318.8h0.55M242.8 313.7h0.55M253.5 312.7h0.55M255.1 313.9h0.55M264.0 302.1h0.55M259.6 310.0h0.55M264.3 341.8h0.55M270.7 339.1h0.55M266.6 330.6h0.55M252.4 315.8h0.55M250.6 305.9h0.55M256.0 302.5h0.55" stroke="rgb(64,95,191)" stroke-width="0.55" stroke-opacity="0.95" fill="none"/>
<path d="M253.5 294.4h0.55M256.3 286.7h0.55M256.7 289.4h0.55M254.0 268.0h0.55M253.3 303.2h0.55M249.6 270.5h0.55M248.2 269.0h0.55M257.4 284.3h0.55M246.9 295.2h0.55M247.1 292.3h0.55M244.7 286.9h0.55M251.8 266.1h0.55M249.3 299.2h0.55M243.8 279.4h0.55M250.2 294.9h0.55M256.6 290.1h0.55M255.2 287.0h0.55M245.4 287.6h0.55M250.9 302.1h0.55M252.2 268.4h0.55M248.6 288.9h0.55M249.6 295.9h0.55M245.4 272.3h0.55M254.8 270.5h0.55M251.1 296.4h0.55M252.0 266.5h0.55M256.3 292.9h0.55M252.0 296.7h0.55M256.8 282.7h0.55M254.6 293.6h0.55M247.0 287.9h0.55M248.6 295.1h0.55M253.4 295.0h0.55M256.4 278.3h0.55M250.8 291.6h0.55M250.6 301.6h0.55M251.8 296.3h0.55M245.8 280.6h0.55M255.4 281.9h0.55M252.5 300.3h0.55M250.2 268.6h0.55M251.7 266.3h0.55M250.3 296.9h0.55M256.1 294.2h0.55M247.1 277.9h0.55M252.5 267.0h0.55M248.6 295.4h0.55M255.7 297.1h0.55M244.9 282.1h0.55M254.6 280.8h0.55M244.7 282.9h0.55M249.8 265.7h0.55M250.5 301.0h0.55M251.1 303.0h0.55M251.5 295.7h0.55M248.5 268.6h0.55M257.8 285.8h0.55M248.6 267.9h0.55M251.9 298.1h0.55M249.0 291.7h0.55M254.6 263.9h0.55M248.2 268.1h0.55M256.1 275.5h0.55M254.9 268.1h0.55M257.1 278.9h0.55M256.9 282.0h0.55M251.4 266.7h0.55M252.7 295.1h0.55M246.8 284.3h0.55M249.1 272.2h0.55M256.0 296.4h0.55M250.8 298.5h0.55M245.9 282.0h0.55M246.9 291.3h0.55M251.2 295.2h0.55M255.1 290.8h0.55M256.8 286.0h0.55M252.8 293.5h0.55M256.3 284.5h0.55M254.5 271.4h0.55M250.6 265.5h0.55M246.2 276.4h0.55M245.9 274.2h0.55M250.7 267.9h0.55M256.6 289.9h0.55M252.4 295.7h0.55M251.2 269.3h0.55M250.4 298.0h0.55M254.9 265.9h0.55M253.6 268.9h0.55M248.3 297.0h0.55M252.7 298.4h0.55M251.4 292.6h0.55M257.2 282.2h0.55M246.7 271.1h0.55M249.1 267.5h0.55M248.4 269.9h0.55M254.3 293.7h0.55M249.7 295.6h0.55M250.5 265.1h0.55M251.5 302.8h0.55M249.9 299.0h0.55M251.4 267.4h0.55M248.6 292.6h0.55M255.2 288.8h0.55M256.3 275.8h0.55M255.4 299.4h0.55M247.6 297.5h0.55M252.0 301.2h0.55M246.2 271.2h0.55M254.0 270.4h0.55M250.6 299.2h0.55M257.3 289.9h0.55M254.9 294.5h0.55M250.0 269.9h0.55M252.3 299.4h0.55M248.7 264.5h0.55M251.6 292.8h0.55M248.5 296.9h0.55M248.5 298.2h0.55M245.9 279.8h0.55M247.0 294.7h0.55M247.6 296.7h0.55M256.5 299.9h0.55M254.5 270.9h0.55M247.2 267.2h0.55M247.1 280.4h0.55M253.5 297.0h0.55M251.4 264.1h0.55M245.6 287.0h0.55M252.2 300.2h0.55M247.9 270.0h0.55M248.1 270.3h0.55M255.5 279.2h0.55M254.8 295.9h0.55M247.8 296.8h0.55M251.6 271.3h0.55M255.4 275.5h0.55M251.5 269.0h0.55M252.0 265.4h0.55M257.0 284.7h0.55M250.4 263.2h0.55M243.3 284.8h0.55M250.2 303.3h0.55M245.5 288.7h0.55M246.7 289.1h0.55M247.0 280.3h0.55M255.5 289.0h0.55M255.6 280.3h0.55M254.0 294.2h0.55M253.1 295.2h0.55M257.5 285.4h0.55M256.2 300.9h0.55M246.0 283.8h0.55M246.1 276.9h0.55M253.6 297.3h0.55M247.1 295.7h0.55M250.2 267.3h0.55M251.5 293.7h0.55M251.6 271.7h0.55M251.8 265.9h0.55M256.8 287.3h0.55M250.3 265.7h0.55M249.5 270.3h0.55M251.9 270.2h0.55M251.6 268.4h0.55M245.7 272.9h0.55M256.2 272.6h0.55M250.6 296.4h0.55M257.0 273.1h0.55M247.5 294.7h0.55M253.2 271.2h0.55M247.3 291.2h0.55M252.8 270.1h0.55M246.0 293.3h0.55M255.5 291.6h0.55M251.7 301.9h0.55M258.1 273.2h0.55M250.5 293.8h0.55M255.0 268.9h0.55M252.7 301.8h0.55M245.5 295.6h0.55M253.5 266.5h0.55M250.6 294.0h0.55M247.7 296.5h0.55M250.0 266.7h0.55M247.1 272.2h0.55M250.3 299.6h0.55M255.1 270.0h0.55M246.5 274.9h0.55M256.9 290.2h0.55M246.0 276.6h0.55M250.6 266.1h0.55M246.1 276.1h0.55M244.6 279.9h0.55M251.4 304.5h0.55M253.8 293.0h0.55M254.2 266.6h0.55M246.4 271.8h0.55M248.4 300.2h0.55M246.1 277.0h0.55M248.2 292.6h0.55M245.7 283.7h0.55M249.0 292.6h0.55M249.1 271.5h0.55M252.3 295.1h0.55M253.2 270.0h0.55M249.3 292.5h0.55M249.0 292.6h0.55M255.4 297.5h0.55M255.8 292.9h0.55M250.7 263.8h0.55M252.1 264.7h0.55M248.2 290.9h0.55M254.5 271.0h0.55M255.4 272.1h0.55M254.9 276.3h0.55M251.4 299.9h0.55M245.5 286.8h0.55M244.8 286.4h0.55M253.3 267.1h0.55M253.2 267.4h0.55M249.3 268.8h0.55M248.7 295.4h0.55M255.6 273.9h0.55M248.8 267.9h0.55M245.3 287.6h0.55M249.4 298.6h0.55M252.1 299.7h0.55M247.7 290.5h0.55M254.5 296.8h0.55M253.7 295.7h0.55M246.2 286.6h0.55M251.3 296.8h0.55M245.8 273.3h0.55M255.3 274.3h0.55M251.9 297.4h0.55M247.4 269.4h0.55M254.8 270.0h0.55M246.5 273.2h0.55M247.6 290.7h0.55M247.9 267.8h0.55M255.0 265.9h0.55M257.7 284.4h0.55M253.9 268.8h0.55M247.3 292.0h0.55M246.4 290.6h0.55M257.2 284.7h0.55M245.1 274.2h0.55M247.7 270.5h0.55M249.5 293.0h0.55M256.1 278.6h0.55M251.1 266.5h0.55M245.7 278.6h0.55M246.3 293.3h0.55M245.7 278.9h0.55M255.9 297.5h0.55M252.0 303.5h0.55M256.3 284.9h0.55M256.0 288.1h0.55M252.5 301.5h0.55M252.0 297.2h0.55M246.3 272.1h0.55M252.4 267.6h0.55M247.3 292.1h0.55M251.3 303.7h0.55M255.8 288.0h0.55M254.5 290.5h0.55M255.8 297.2h0.55M250.1 268.9h0.55M254.5 270.8h0.55M251.3 303.1h0.55M247.4 267.3h0.55M248.2 297.0h0.55M246.1 282.9h0.55M246.9 287.6h0.55M256.8 275.8h0.55M255.4 289.3h0.55M255.9 292.7h0.55M244.8 280.7h0.55M254.2 268.9h0.55M254.8 273.5h0.55M253.3 264.7h0.55M247.1 274.6h0.55M254.8 292.0h0.55M255.4 270.1h0.55M246.0 274.1h0.55M255.2 305.0h0.55M250.4 267.0h0.55M254.9 266.0h0.55M249.5 295.0h0.55M244.8 271.8h0.55M245.3 272.4h0.55M256.7 291.5h0.55M255.0 290.8h0.55M244.9 285.5h0.55M255.4 272.1h0.55M252.5 263.0h0.55M246.5 270.3h0.55M247.1 294.9h0.55M249.8 297.9h0.55M256.9 301.5h0.55M246.9 287.2h0.55M249.9 302.4h0.55M253.3 271.3h0.55M252.6 300.3h0.55M253.8 264.3h0.55M248.9 297.3h0.55M256.9 290.1h0.55M252.4 298.6h0.55M254.6 299.4h0.55M257.0 286.7h0.55M248.8 293.6h0.55M252.4 264.9h0.55M256.3 281.9h0.55M252.3 266.9h0.55M256.6 273.8h0.55M247.7 284.8h0.55M251.9 302.2h0.55M256.6 287.9h0.55M251.4 297.5h0.55M255.6 282.6h0.55M256.3 297.8h0.55M246.7 288.6h0.55M253.9 293.1h0.55M256.9 280.3h0.55M256.3 295.6h0.55M250.1 298.8h0.55M252.2 263.9h0.55M248.4 295.5h0.55M254.7 294.8h0.55M253.2 265.0h0.55M255.4 292.8h0.55M257.3 285.0h0.55M256.4 275.8h0.55M244.6 274.4h0.55M258.0 284.2h0.55M248.4 295.7h0.55M254.6 267.7h0.55M248.8 297.0h0.55M252.6 289.8h0.55M255.9 269.0h0.55M247.7 272.0h0.55M255.9 285.9h0.55M251.3 292.6h0.55M257.2 280.3h0.55M252.4 295.0h0.55M243.8 292.2h0.55M254.4 293.9h0.55M251.2 267.2h0.55M247.3 290.3h0.55M247.9 270.8h0.55M252.6 298.7h0.55M255.6 291.7h0.55M252.5 306.0h0.55M252.1 301.3h0.55M250.5 301.9h0.55M246.6 275.2h0.55M255.5 298.3h0.55M257.1 294.4h0.55M252.2 305.0h0.55M253.2 303.6h0.55M256.5 302.5h0.55M249.1 304.1h0.55M247.5 304.9h0.55M259.1 301.0h0.55M252.2 304.1h0.55M250.1 297.9h0.55M256.5 308.1h0.55M252.8 302.8h0.55M257.6 328.1h0.55M253.1 314.4h0.55M256.2 310.4h0.55M253.0 304.3h0.55M246.9 273.6h0.55M252.7 296.7h0.55M251.1 309.1h0.55M247.2 292.6h0.55M256.6 299.8h0.55M252.8 302.8h0.55M253.3 298.4h0.55M244.5 286.1h0.55M255.8 295.5h0.55M251.2 308.9h0.55M255.7 309.9h0.55M253.2 298.6h0.55M253.2 301.8h0.55M255.3 295.3h0.55M249.3 297.4h0.55M252.9 315.4h0.55M248.6 314.9h0.55" stroke="rgb(59,104,194)" stroke-width="0.55" stroke-opacity="0.95" fill="none"/>
<path d="M255.1 285.9h0.55M245.3 273.8h0.55M250.2 274.9h0.55M247.8 285.3h0.55M250.6 286.2h0.55M248.2 275.9h0.55M250.0 294.9h0.55M250.4 277.2h0.55M247.0 284.7h0.55M249.8 273.1h0.55M255.9 284.7h0.55M254.0 275.9h0.55M247.8 276.8h0.55M252.0 269.7h0.55M248.5 292.4h0.55M253.1 272.0h0.55M251.5 274.8h0.55M252.7 272.7h0.55M249.3 287.1h0.55M248.7 275.6h0.55M246.4 282.3h0.55M250.3 291.8h0.55M248.8 287.2h0.55M247.1 273.6h0.55M252.6 266.5h0.55M251.7 269.2h0.55M251.8 290.8h0.55M249.6 284.7h0.55M250.7 274.9h0.55M247.3 282.8h0.55M251.9 291.2h0.55M254.5 275.6h0.55M248.6 294.1h0.55M249.1 274.2h0.55M253.0 282.7h0.55M250.8 287.1h0.55M249.0 285.1h0.55M254.9 291.7h0.55M248.8 276.7h0.55M253.1 290.2h0.55M247.1 277.6h0.55M256.7 283.4h0.55M255.4 285.2h0.55M250.7 268.4h0.55M250.0 270.4h0.55M254.1 269.3h0.55M247.1 285.1h0.55M253.6 274.3h0.55M253.8 293.0h0.55M252.5 273.0h0.55M254.6 284.4h0.55M254.8 287.2h0.55M250.3 275.6h0.55M248.8 274.4h0.55M254.1 274.6h0.55M255.6 283.1h0.55M250.2 287.5h0.55M250.1 277.0h0.55M249.4 271.5h0.55M250.9 272.4h0.55M253.6 275.9h0.55M247.6 282.5h0.55M248.4 273.5h0.55M254.0 287.5h0.55M251.4 287.0h0.55M255.3 282.8h0.55M253.5 272.1h0.55M251.5 292.8h0.55M254.6 286.0h0.55M246.2 274.8h0.55M247.4 290.0h0.55M252.0 271.8h0.55M251.1 297.0h0.55M251.9 274.0h0.55M254.5 284.4h0.55M248.6 289.1h0.55M246.6 282.6h0.55M253.9 274.2h0.55M249.9 271.9h0.55M253.6 294.3h0.55M253.4 292.7h0.55M250.0 270.5h0.55M247.9 279.6h0.55M247.8 282.3h0.55M248.4 288.0h0.55M254.8 278.2h0.55M255.5 287.9h0.55M251.5 272.9h0.55M248.8 271.8h0.55M253.7 288.8h0.55M248.1 286.3h0.55M253.8 289.3h0.55M247.6 289.8h0.55M248.4 270.5h0.55M250.1 282.6h0.55M253.5 288.6h0.55M248.9 272.3h0.55M254.6 281.9h0.55M252.9 274.9h0.55M251.9 289.0h0.55M247.6 275.3h0.55M250.1 287.5h0.55M253.6 287.2h0.55M249.4 284.1h0.55M255.5 286.1h0.55M251.4 272.8h0.55M251.3 293.3h0.55M245.7 281.7h0.55M250.2 291.6h0.55M253.6 276.0h0.55M254.4 280.2h0.55M250.8 273.1h0.55M252.7 290.8h0.55M249.8 271.4h0.55M254.4 279.1h0.55M252.7 272.8h0.55M253.2 269.1h0.55M253.3 271.7h0.55M246.4 277.5h0.55M252.5 276.7h0.55M247.3 283.3h0.55M246.1 273.0h0.55M250.9 286.8h0.55M246.5 284.4h0.55M253.7 293.4h0.55M253.2 287.9h0.55M246.4 278.6h0.55M248.8 292.6h0.55M251.2 296.3h0.55M251.9 267.5h0.55M252.7 275.6h0.55M254.2 287.3h0.55M252.3 268.2h0.55M251.3 271.5h0.55M253.0 269.4h0.55M249.2 274.3h0.55M247.2 282.3h0.55M256.3 281.7h0.55M250.0 271.9h0.55M246.4 275.1h0.55M255.1 280.4h0.55M252.7 273.9h0.55M250.2 270.1h0.55M245.8 277.3h0.55M254.7 281.9h0.55M254.9 279.3h0.55M249.8 280.4h0.55M254.3 292.8h0.55M252.7 268.5h0.55M248.9 275.6h0.55M247.6 283.6h0.55M248.0 288.7h0.55M254.7 293.7h0.55M250.5 286.1h0.55M252.2 288.9h0.55M246.8 278.6h0.55M255.6 281.6h0.55M249.6 271.0h0.55M254.0 277.4h0.55M248.5 295.1h0.55M248.2 283.0h0.55M252.4 270.6h0.55M255.2 270.5h0.55M254.9 284.3h0.55M254.8 279.4h0.55M251.3 290.5h0.55M247.8 286.2h0.55M251.2 291.0h0.55M247.8 274.3h0.55M247.8 280.3h0.55M248.2 274.6h0.55M254.7 285.7h0.55M249.0 289.5h0.55M254.8 275.5h0.55M251.3 292.0h0.55M252.0 293.7h0.55M252.5 276.1h0.55M252.2 283.2h0.55M253.2 292.7h0.55M247.2 281.2h0.55M253.5 291.1h0.55M247.4 280.4h0.55M246.7 281.2h0.55M248.3 288.5h0.55M253.8 289.9h0.55M252.7 291.3h0.55M250.9 294.4h0.55M252.4 279.3h0.55M250.0 274.7h0.55M246.4 275.4h0.55M254.4 276.4h0.55M252.3 269.4h0.55M252.1 288.8h0.55M254.0 288.1h0.55M255.9 278.7h0.55M256.0 284.9h0.55M247.6 287.1h0.55M254.8 280.7h0.55M254.2 293.2h0.55M255.2 277.8h0.55M251.4 270.5h0.55M251.0 273.4h0.55M251.8 293.6h0.55M254.1 290.4h0.55M250.9 283.4h0.55M249.1 280.5h0.55M246.6 278.1h0.55M247.8 290.0h0.55M252.7 286.1h0.55M251.1 273.3h0.55M248.4 281.6h0.55M248.3 277.0h0.55M246.0 275.6h0.55M245.4 282.7h0.55M245.9 281.9h0.55M248.1 272.4h0.55M251.5 270.8h0.55M255.3 283.5h0.55M249.7 275.7h0.55M252.2 271.2h0.55M248.1 288.5h0.55M247.3 287.8h0.55M247.0 276.1h0.55M248.5 273.2h0.55M251.9 274.9h0.55M252.5 271.8h0.55M254.7 284.6h0.55M251.8 272.1h0.55M250.3 269.5h0.55M248.1 279.2h0.55M252.4 270.6h0.55M254.2 272.1h0.55M255.1 278.4h0.55M245.7 274.0h0.55M249.7 293.4h0.55M252.4 269.0h0.55M246.8 282.1h0.55M254.5 277.3h0.55M248.3 294.8h0.55M253.7 290.5h0.55M247.5 278.5h0.55M248.0 288.3h0.55M255.7 284.6h0.55M248.5 292.6h0.55M246.3 274.9h0.55M249.6 290.3h0.55M250.1 270.9h0.55M249.0 280.6h0.55M253.7 278.0h0.55M252.1 275.3h0.55M249.2 271.2h0.55M250.2 291.2h0.55M255.3 283.9h0.55M250.2 294.7h0.55M255.1 293.7h0.55M254.6 289.3h0.55M252.5 290.6h0.55M252.0 292.1h0.55M247.3 280.4h0.55M254.5 275.0h0.55M250.5 292.3h0.55M254.4 289.9h0.55M253.9 283.0h0.55M248.5 295.4h0.55M254.6 291.7h0.55M252.5 275.8h0.55M249.8 285.1h0.55M253.4 274.4h0.55M254.3 280.5h0.55M250.6 273.1h0.55M253.8 285.7h0.55M249.8 291.0h0.55M250.9 295.0h0.55M250.6 270.8h0.55M250.1 289.7h0.55M247.6 276.8h0.55M254.7 281.7h0.55M248.3 284.3h0.55M253.9 276.2h0.55M253.0 288.1h0.55M249.3 284.2h0.55M253.7 274.2h0.55M250.7 273.4h0.55M246.9 286.7h0.55M255.0 277.5h0.55M247.9 271.0h0.55M253.5 277.4h0.55M254.8 272.4h0.55M252.8 274.3h0.55M253.8 290.8h0.55M252.4 285.9h0.55M248.7 276.8h0.55M255.1 282.6h0.55M250.2 293.4h0.55M247.1 281.6h0.55M249.5 272.0h0.55M254.4 278.9h0.55M250.3 274.0h0.55M246.8 274.9h0.55M247.9 287.4h0.55M253.8 290.7h0.55M250.2 290.8h0.55M248.3 284.6h0.55M250.7 277.5h0.55M252.8 293.0h0.55M248.0 287.7h0.55M249.4 282.0h0.55M246.5 284.8h0.55M248.4 274.3h0.55M250.6 284.1h0.55M252.4 281.7h0.55M248.0 285.3h0.55M252.8 291.5h0.55M250.5 290.6h0.55M248.1 282.0h0.55M247.1 281.4h0.55M249.0 291.2h0.55M253.1 293.4h0.55M247.9 284.0h0.55M253.4 287.3h0.55M247.6 279.1h0.55M254.7 291.2h0.55M249.9 293.9h0.55M252.3 286.5h0.55M250.7 276.4h0.55M246.3 284.8h0.55M253.2 268.1h0.55M254.2 289.3h0.55M246.8 275.0h0.55M252.4 296.2h0.55M248.2 275.1h0.55M247.8 287.3h0.55M254.5 280.1h0.55M254.3 280.2h0.55M255.3 277.9h0.55M255.9 276.1h0.55M245.7 284.4h0.55M246.8 273.5h0.55M247.1 274.6h0.55M248.1 276.7h0.55M252.4 274.4h0.55M252.5 288.3h0.55M251.8 268.9h0.55M249.2 286.2h0.55M249.1 274.9h0.55M249.9 270.6h0.55M253.4 290.4h0.55M254.9 274.5h0.55M248.0 277.6h0.55M252.4 287.8h0.55M248.9 285.3h0.55M251.7 270.0h0.55M246.5 283.7h0.55M248.9 294.8h0.55M253.9 282.6h0.55M247.8 286.1h0.55M252.4 277.6h0.55M246.5 282.4h0.55M255.1 287.1h0.55M249.5 282.7h0.55M253.0 271.2h0.55M251.0 274.1h0.55M253.4 274.0h0.55M246.2 275.1h0.55M248.4 275.3h0.55M251.0 272.9h0.55M245.5 280.9h0.55M252.8 273.0h0.55M252.5 291.2h0.55M252.5 273.7h0.55M255.1 279.4h0.55M250.4 273.3h0.55M254.8 288.7h0.55M253.8 287.4h0.55M251.8 275.1h0.55M257.2 283.8h0.55M255.7 291.5h0.55M253.8 274.0h0.55M254.9 283.7h0.55M253.4 277.1h0.55M248.5 295.3h0.55M248.8 288.0h0.55M248.0 276.7h0.55M252.9 277.4h0.55M252.9 275.6h0.55M253.1 273.5h0.55M254.5 286.3h0.55M254.9 272.0h0.55M254.8 277.3h0.55M255.5 291.3h0.55M251.7 269.5h0.55M246.4 282.8h0.55M246.5 283.4h0.55M249.6 296.0h0.55M248.5 276.1h0.55M250.7 268.3h0.55M248.7 269.6h0.55M256.4 286.8h0.55M254.9 278.0h0.55M250.0 289.2h0.55M254.5 282.1h0.55M254.5 284.9h0.55M253.3 290.4h0.55M252.2 289.7h0.55M247.1 284.6h0.55M250.5 282.3h0.55M253.4 294.3h0.55M252.0 293.1h0.55M253.5 274.2h0.55M249.5 289.9h0.55M246.1 279.2h0.55M250.0 293.0h0.55M249.2 290.0h0.55M253.3 291.4h0.55M248.0 286.5h0.55M251.7 292.6h0.55M252.7 276.5h0.55M252.8 268.5h0.55M248.0 281.6h0.55M249.0 290.2h0.55M251.1 267.9h0.55M248.3 295.5h0.55M254.5 286.3h0.55M256.7 285.0h0.55M254.3 282.4h0.55M252.5 271.3h0.55M250.5 271.8h0.55M252.7 270.6h0.55M252.2 275.1h0.55M246.3 285.1h0.55M250.6 269.7h0.55M254.6 281.9h0.55M247.1 284.2h0.55M253.1 274.8h0.55M253.2 272.0h0.55M248.9 280.8h0.55M252.4 294.7h0.55M252.2 279.8h0.55M248.9 287.8h0.55M246.5 272.7h0.55M248.0 276.2h0.55M250.6 290.6h0.55M251.6 270.9h0.55M249.6 276.5h0.55M253.7 285.8h0.55M249.6 270.8h0.55M249.7 290.6h0.55M255.9 283.7h0.55M255.8 285.9h0.55M247.0 279.5h0.55M254.3 295.0h0.55M251.0 274.9h0.55M250.1 285.9h0.55M248.3 280.5h0.55M254.6 274.4h0.55M253.0 282.2h0.55M253.9 273.5h0.55M248.4 278.2h0.55M255.8 278.4h0.55M249.8 270.6h0.55M247.4 280.3h0.55M253.5 285.7h0.55M254.8 275.9h0.55M254.7 290.9h0.55M253.9 279.4h0.55M251.4 301.2h0.55M253.7 292.8h0.55" stroke="rgb(57,121,180)" stroke-width="0.55" stroke-opacity="0.95" fill="none"/>
<path d="M251.7 283.7h0.55M249.1 287.9h0.55M248.0 283.6h0.55M252.3 280.9h0.55M249.7 289.8h0.55M249.4 289.7h0.55M249.8 279.4h0.55M248.9 277.2h0.55M250.9 286.2h0.55M255.4 281.5h0.55M253.0 286.7h0.55M248.1 281.8h0.55M251.8 290.6h0.55M248.5 275.3h0.55M252.6 287.9h0.55M251.4 290.5h0.55M250.7 280.4h0.55M253.2 291.4h0.55M255.0 287.7h0.55M251.4 271.9h0.55M250.4 270.6h0.55M250.2 280.9h0.55M252.1 271.6h0.55M253.8 284.4h0.55M252.3 276.5h0.55M249.2 282.6h0.55M248.7 279.1h0.55M253.3 284.3h0.55M251.1 274.2h0.55M249.3 289.9h0.55M253.1 277.0h0.55M249.4 278.4h0.55M251.1 290.6h0.55M250.0 291.2h0.55M251.7 287.3h0.55M250.2 290.1h0.55M251.7 286.9h0.55M250.6 291.4h0.55M252.2 289.4h0.55M253.8 282.0h0.55M249.2 285.8h0.55M254.1 288.7h0.55M251.7 293.2h0.55M253.6 284.8h0.55M248.0 278.0h0.55M250.3 272.8h0.55M254.3 281.8h0.55M248.6 278.3h0.55M250.5 284.2h0.55M254.4 283.1h0.55M252.8 288.8h0.55M252.2 289.6h0.55M249.3 278.4h0.55M253.2 284.6h0.55M246.8 275.4h0.55M249.6 282.3h0.55M249.1 278.5h0.55M254.2 280.1h0.55M254.0 289.2h0.55M254.7 284.7h0.55M256.2 286.3h0.55M251.2 277.4h0.55M249.3 283.6h0.55M248.9 282.1h0.55M252.6 276.3h0.55M250.6 280.6h0.55M248.9 283.0h0.55M252.2 284.8h0.55M252.3 283.4h0.55M249.4 278.0h0.55M249.0 286.3h0.55M247.2 284.1h0.55M249.0 281.7h0.55M254.0 283.0h0.55M252.6 281.8h0.55M251.2 283.1h0.55M248.0 277.1h0.55M246.8 275.7h0.55M246.8 276.1h0.55M250.7 272.7h0.55M250.5 285.1h0.55M252.0 283.1h0.55M248.1 282.1h0.55M248.7 281.0h0.55M256.1 283.9h0.55M252.7 274.9h0.55M251.1 274.5h0.55M250.7 275.1h0.55M249.9 274.9h0.55M254.5 283.4h0.55M252.0 273.3h0.55M250.2 288.5h0.55M252.6 281.1h0.55M251.1 283.5h0.55M249.2 281.3h0.55M253.0 287.6h0.55M248.7 286.8h0.55M251.0 278.8h0.55M252.9 277.5h0.55M251.7 290.2h0.55M249.3 283.9h0.55M254.1 290.1h0.55M254.8 284.6h0.55M248.4 279.3h0.55M249.5 277.9h0.55M252.6 284.8h0.55M251.3 285.9h0.55M251.7 289.8h0.55M250.3 275.4h0.55M252.8 288.4h0.55M252.5 280.3h0.55M254.0 275.3h0.55M253.8 276.8h0.55M249.9 279.2h0.55M249.0 288.4h0.55M251.8 290.9h0.55M250.0 289.7h0.55M254.7 280.3h0.55M251.5 272.4h0.55M248.8 282.0h0.55M251.4 274.7h0.55M254.2 277.6h0.55M251.1 272.7h0.55M250.4 279.3h0.55M252.3 285.1h0.55M251.2 287.3h0.55M251.1 283.4h0.55M253.1 283.1h0.55M250.1 283.1h0.55M253.0 285.2h0.55M251.2 289.5h0.55M250.2 288.9h0.55M248.7 285.1h0.55M249.4 291.9h0.55M254.2 284.3h0.55M248.9 287.2h0.55M248.7 276.0h0.55M249.5 286.9h0.55M247.9 278.8h0.55M247.3 279.9h0.55M252.6 291.6h0.55M252.3 280.2h0.55M252.9 283.1h0.55M253.2 274.0h0.55M252.2 284.3h0.55M249.5 287.3h0.55M248.9 289.2h0.55M252.3 278.6h0.55M254.6 277.6h0.55M247.3 276.5h0.55M248.4 290.0h0.55M252.4 292.3h0.55M248.7 279.4h0.55M251.4 277.1h0.55M249.3 275.1h0.55M248.6 285.8h0.55M252.3 281.6h0.55M250.4 280.0h0.55M252.3 292.0h0.55M250.1 274.5h0.55M250.4 284.6h0.55M249.1 286.3h0.55M250.8 275.2h0.55M249.3 273.1h0.55M253.9 279.4h0.55M246.8 277.0h0.55M248.9 275.5h0.55M249.0 288.9h0.55M252.4 277.2h0.55M254.4 282.9h0.55M249.5 277.0h0.55M251.8 278.4h0.55M252.8 284.5h0.55M248.8 285.9h0.55M250.0 279.1h0.55M253.0 287.8h0.55M250.2 272.4h0.55M251.4 285.5h0.55M252.3 284.2h0.55M255.1 282.2h0.55M250.8 282.6h0.55M253.2 277.4h0.55M254.2 288.7h0.55M249.3 273.1h0.55M252.0 277.9h0.55M249.8 273.9h0.55M246.7 282.4h0.55M247.6 289.1h0.55M249.1 280.1h0.55M251.2 287.8h0.55M254.2 276.9h0.55M252.6 287.8h0.55M252.8 275.4h0.55M249.9 281.0h0.55M250.9 277.2h0.55M248.3 282.1h0.55M255.6 282.6h0.55M249.9 279.5h0.55M246.8 276.9h0.55M252.1 286.9h0.55M249.4 273.1h0.55M252.4 276.8h0.55M250.3 283.8h0.55M250.1 284.6h0.55M251.0 290.1h0.55M249.0 279.4h0.55M250.6 280.0h0.55M253.7 283.1h0.55M247.4 277.7h0.55M250.7 290.8h0.55M249.4 287.4h0.55M252.6 277.7h0.55M252.6 286.7h0.55M256.0 285.6h0.55M253.6 279.9h0.55M251.4 278.0h0.55M250.8 275.0h0.55M252.8 274.2h0.55M251.4 280.7h0.55M251.2 275.1h0.55M250.7 277.9h0.55M254.8 280.5h0.55M249.5 290.9h0.55M247.3 275.8h0.55M251.0 275.5h0.55M250.0 275.0h0.55M250.5 278.9h0.55M248.7 280.0h0.55M251.5 281.6h0.55M250.6 278.4h0.55M254.8 276.9h0.55M251.0 280.8h0.55M252.6 280.5h0.55M249.0 286.2h0.55M253.0 274.7h0.55M254.6 287.3h0.55M249.3 271.6h0.55M251.1 285.5h0.55M251.2 276.5h0.55M252.1 274.4h0.55M253.3 284.4h0.55M251.9 288.5h0.55M248.0 285.4h0.55M252.0 271.5h0.55M250.4 287.3h0.55M253.8 289.1h0.55M248.1 278.2h0.55M249.4 291.2h0.55M251.6 291.6h0.55M254.7 279.9h0.55M248.5 278.1h0.55M247.6 277.9h0.55M250.4 291.4h0.55M253.0 284.8h0.55M252.1 272.0h0.55M249.7 287.5h0.55M251.3 293.4h0.55M253.2 280.0h0.55M251.8 288.3h0.55M248.9 280.5h0.55M254.0 281.4h0.55M253.7 275.9h0.55M248.6 279.8h0.55M252.8 289.1h0.55M251.1 289.1h0.55M252.7 280.8h0.55M247.5 276.8h0.55M250.9 291.8h0.55M250.6 274.8h0.55M252.4 275.5h0.55M252.1 284.5h0.55M249.5 286.4h0.55M252.8 290.6h0.55M250.2 278.1h0.55M251.0 292.3h0.55M251.7 275.3h0.55M253.6 278.9h0.55M248.7 282.2h0.55M250.7 289.6h0.55M250.2 290.2h0.55M250.5 281.7h0.55M251.4 287.8h0.55M249.0 281.4h0.55M250.4 275.2h0.55M254.0 282.1h0.55M253.4 287.8h0.55M254.1 285.4h0.55M248.7 279.1h0.55M247.8 276.8h0.55M250.4 284.9h0.55M248.7 282.1h0.55M250.2 273.6h0.55M252.5 271.5h0.55M252.4 270.7h0.55M248.8 280.6h0.55M252.0 280.2h0.55M251.7 278.4h0.55M251.6 287.9h0.55M252.2 271.7h0.55M253.8 290.2h0.55M252.9 283.6h0.55M250.7 292.4h0.55M247.6 284.0h0.55M250.1 282.6h0.55M253.4 275.2h0.55M249.9 275.9h0.55M247.2 282.0h0.55M250.0 271.9h0.55M251.3 275.9h0.55M255.4 285.4h0.55M250.9 288.9h0.55M247.6 275.5h0.55M253.5 278.5h0.55M250.8 274.6h0.55M251.0 293.0h0.55M249.6 278.1h0.55M255.0 282.0h0.55M247.5 287.2h0.55M253.4 287.3h0.55M247.4 281.0h0.55M248.8 288.5h0.55M248.8 284.9h0.55M253.7 281.7h0.55M253.6 278.9h0.55M255.0 279.5h0.55M253.4 283.3h0.55M252.8 274.3h0.55M247.9 288.9h0.55M249.4 286.5h0.55M253.9 276.6h0.55M249.1 283.9h0.55M253.0 287.5h0.55M251.8 288.2h0.55M253.9 281.9h0.55M251.3 282.8h0.55M252.3 283.6h0.55M248.8 283.5h0.55M248.2 288.6h0.55M251.9 279.5h0.55M252.9 285.4h0.55M253.0 287.2h0.55M248.4 291.5h0.55M254.7 283.1h0.55M251.3 286.7h0.55M249.7 276.2h0.55M250.5 280.9h0.55M248.3 289.1h0.55M252.0 285.2h0.55M248.1 278.3h0.55M251.7 279.0h0.55M250.0 290.5h0.55M252.4 278.2h0.55M248.6 287.2h0.55M250.9 286.4h0.55M251.8 284.5h0.55M249.0 276.0h0.55M250.5 279.0h0.55M253.8 278.9h0.55M250.3 284.9h0.55M250.7 290.8h0.55M247.5 279.9h0.55M250.3 289.8h0.55M249.6 287.4h0.55M252.9 284.1h0.55M247.3 288.0h0.55M252.4 272.2h0.55M251.7 281.5h0.55M253.3 276.1h0.55M248.3 281.4h0.55M250.2 280.2h0.55M249.0 282.6h0.55M250.5 281.6h0.55M251.7 289.9h0.55M251.0 271.0h0.55M250.9 289.6h0.55M254.1 289.7h0.55M255.2 279.1h0.55M250.0 287.6h0.55M247.5 286.4h0.55M247.9 284.3h0.55M250.9 280.1h0.55M246.1 274.2h0.55M252.3 282.4h0.55M250.7 282.9h0.55M252.4 280.6h0.55M252.1 276.7h0.55M253.0 290.9h0.55M250.5 277.6h0.55M247.1 281.7h0.55M249.9 278.2h0.55M248.3 276.4h0.55M250.4 288.3h0.55M249.1 278.3h0.55M248.8 281.7h0.55M251.0 291.0h0.55M248.5 286.8h0.55M250.2 293.5h0.55M251.5 279.3h0.55M252.8 278.0h0.55M251.1 278.4h0.55M255.1 284.1h0.55M251.7 282.5h0.55M248.3 282.9h0.55M254.6 282.8h0.55M254.3 281.7h0.55M251.4 272.4h0.55M252.4 288.6h0.55M252.3 285.7h0.55M250.2 292.1h0.55M248.6 283.1h0.55M249.7 274.8h0.55M252.5 282.3h0.55M250.5 286.1h0.55M252.2 275.9h0.55M249.6 279.1h0.55M254.0 283.9h0.55M252.1 287.7h0.55M254.0 282.9h0.55M252.9 286.2h0.55M251.1 283.4h0.55M252.2 280.9h0.55M254.3 287.5h0.55M252.0 286.2h0.55M253.4 288.7h0.55M251.7 278.0h0.55M252.2 287.2h0.55M248.5 287.5h0.55M248.5 279.8h0.55M254.6 286.3h0.55M250.5 276.2h0.55M252.5 272.2h0.55M250.2 279.1h0.55M254.4 282.0h0.55M249.4 283.0h0.55M252.6 276.9h0.55M248.0 274.7h0.55M249.7 282.5h0.55M248.3 289.2h0.55M251.3 289.9h0.55M249.8 269.5h0.55M251.4 293.8h0.55M255.0 284.9h0.55M253.7 291.4h0.55M247.9 276.9h0.55M254.1 289.0h0.55M250.2 290.2h0.55" stroke="rgb(60,156,125)" stroke-width="0.55" stroke-opacity="0.95" fill="none"/>
<path d="M252.1 278.6h0.55M250.9 280.7h0.55M252.0 284.0h0.55M250.6 278.5h0.55M252.8 272.7h0.55M252.2 275.0h0.55M253.2 286.1h0.55M253.0 278.7h0.55M250.1 277.9h0.55M251.2 283.5h0.55M250.6 289.3h0.55M251.9 280.7h0.55M249.9 282.8h0.55M252.9 274.2h0.55M251.5 289.5h0.55M248.5 285.8h0.55M251.5 276.5h0.55M249.2 283.6h0.55M250.4 281.9h0.55M250.4 289.8h0.55M250.2 285.6h0.55M249.9 272.0h0.55M251.3 278.8h0.55M251.2 285.5h0.55M250.7 275.5h0.55M251.2 289.2h0.55M249.1 276.5h0.55M250.2 280.5h0.55M251.1 281.9h0.55M249.7 283.8h0.55M253.7 284.0h0.55M250.9 283.2h0.55M250.8 281.0h0.55M247.9 278.9h0.55M252.7 280.5h0.55M251.4 288.1h0.55M254.7 278.4h0.55M249.8 276.7h0.55M252.2 288.9h0.55M251.0 279.4h0.55M250.9 276.2h0.55M254.3 285.5h0.55M249.2 276.5h0.55M251.4 292.0h0.55M249.6 286.7h0.55M254.0 278.9h0.55M251.6 278.5h0.55M254.2 281.3h0.55M250.5 284.8h0.55M252.0 287.1h0.55M247.4 278.1h0.55M251.5 284.2h0.55M253.2 281.0h0.55M253.0 274.4h0.55M247.4 288.1h0.55M251.9 284.1h0.55M251.4 275.5h0.55M250.6 282.0h0.55M248.0 280.7h0.55M252.3 272.3h0.55M250.8 276.9h0.55M249.8 288.1h0.55M251.2 289.9h0.55M252.3 273.9h0.55M253.7 280.9h0.55M251.6 284.9h0.55M252.4 280.5h0.55M251.0 282.9h0.55M251.9 286.2h0.55M251.2 272.0h0.55M254.1 281.0h0.55M253.5 281.9h0.55M248.6 286.5h0.55M249.6 283.4h0.55M251.8 289.6h0.55M253.5 281.0h0.55M247.6 282.0h0.55M249.5 280.8h0.55M249.0 277.8h0.55M249.6 290.9h0.55M253.4 288.8h0.55M251.7 281.1h0.55M252.7 278.1h0.55M250.5 289.7h0.55M249.6 288.8h0.55M252.6 283.1h0.55M250.4 286.5h0.55M251.2 281.2h0.55M251.3 284.6h0.55M253.5 281.8h0.55M252.3 279.4h0.55M249.2 285.5h0.55M250.2 278.0h0.55M251.0 291.5h0.55M251.3 289.3h0.55M251.1 278.2h0.55M248.9 284.3h0.55M249.6 286.4h0.55M250.0 283.0h0.55M251.7 274.4h0.55M253.2 277.3h0.55M248.5 280.8h0.55M251.0 279.0h0.55M250.7 279.4h0.55M253.5 281.1h0.55M250.3 279.7h0.55M251.9 285.9h0.55M251.3 283.6h0.55M251.4 275.8h0.55M250.4 290.0h0.55M250.6 285.7h0.55M252.8 284.1h0.55M249.9 278.4h0.55M252.8 280.9h0.55M249.9 277.2h0.55M248.5 284.5h0.55M249.8 276.9h0.55M250.6 286.9h0.55M254.5 284.7h0.55M254.3 285.4h0.55M248.4 281.5h0.55M250.5 289.4h0.55M250.6 288.8h0.55M250.4 280.8h0.55M251.0 289.3h0.55M250.9 285.7h0.55M250.1 284.1h0.55M252.6 285.6h0.55M252.7 285.4h0.55M250.0 282.9h0.55M247.5 278.3h0.55M249.4 277.1h0.55M250.3 289.5h0.55M251.2 285.0h0.55M250.4 280.8h0.55M250.9 273.5h0.55M251.9 271.5h0.55M250.4 284.6h0.55M253.3 277.6h0.55M252.8 279.0h0.55M248.5 282.7h0.55M248.4 289.1h0.55M250.7 278.8h0.55M253.4 281.5h0.55M249.8 276.7h0.55M248.6 282.4h0.55M249.0 287.7h0.55M249.4 282.2h0.55M252.8 278.9h0.55M251.3 286.8h0.55M247.6 284.4h0.55M250.8 287.6h0.55M253.9 282.1h0.55M252.7 289.6h0.55M251.0 279.4h0.55M249.8 274.4h0.55M248.5 283.0h0.55M247.6 278.0h0.55M251.0 290.0h0.55M251.0 277.6h0.55M253.0 280.4h0.55M248.4 281.7h0.55M250.1 277.9h0.55M250.5 283.7h0.55M251.4 279.8h0.55M251.8 279.3h0.55M249.4 278.4h0.55M249.9 286.0h0.55M250.9 277.8h0.55M250.5 283.9h0.55M251.5 282.4h0.55M252.0 276.0h0.55M249.4 287.0h0.55M251.0 280.3h0.55M252.1 283.9h0.55M252.8 278.1h0.55M251.2 280.5h0.55M252.8 287.6h0.55M249.7 282.1h0.55M252.4 280.4h0.55M250.5 280.8h0.55M252.5 282.4h0.55M252.5 279.0h0.55M251.5 280.2h0.55M251.4 278.9h0.55M251.3 287.8h0.55M250.9 284.2h0.55M253.5 280.4h0.55M251.7 289.6h0.55M255.2 283.1h0.55M252.1 289.8h0.55M250.1 281.4h0.55M251.6 288.2h0.55M251.1 286.1h0.55M251.7 282.1h0.55M252.6 280.3h0.55M247.9 280.1h0.55M250.7 282.4h0.55M253.1 277.8h0.55M250.6 271.5h0.55M247.7 286.2h0.55M253.1 288.2h0.55M252.0 288.7h0.55M254.6 282.9h0.55M252.1 291.7h0.55M249.0 282.7h0.55M253.7 278.6h0.55M251.4 281.3h0.55M251.2 277.0h0.55M249.7 281.1h0.55M249.0 283.3h0.55M248.7 283.7h0.55M253.2 283.6h0.55M252.8 287.6h0.55M249.3 284.9h0.55M254.1 278.4h0.55M251.7 291.9h0.55M254.4 285.4h0.55M252.0 285.9h0.55M250.3 287.8h0.55M251.3 284.6h0.55M252.4 279.5h0.55M250.8 287.5h0.55M250.0 275.6h0.55M248.5 278.4h0.55M250.4 278.3h0.55M248.6 282.0h0.55M253.2 282.3h0.55M253.9 283.2h0.55M253.3 277.9h0.55M250.8 277.0h0.55M253.1 283.0h0.55M251.7 289.2h0.55M246.7 281.7h0.55M251.0 278.7h0.55M250.9 282.2h0.55M252.2 285.8h0.55M251.4 281.1h0.55M251.4 281.3h0.55" stroke="rgb(77,171,86)" stroke-width="0.55" stroke-opacity="0.95" fill="none"/>
<path d="M250.1 286.2h0.55M252.7 279.0h0.55M251.8 287.4h0.55M252.0 280.2h0.55M251.1 283.5h0.55M251.0 290.1h0.55M250.6 286.6h0.55M253.1 284.8h0.55M252.8 277.8h0.55M250.5 277.3h0.55M249.5 281.1h0.55M251.6 283.1h0.55M252.6 284.2h0.55M249.1 276.9h0.55M251.6 273.5h0.55M252.3 283.2h0.55M251.3 281.2h0.55M254.0 283.5h0.55M248.8 282.8h0.55M250.8 288.1h0.55M251.5 279.6h0.55M252.6 284.8h0.55M250.2 286.3h0.55M252.2 284.3h0.55M251.1 276.0h0.55M252.6 290.5h0.55M252.9 278.3h0.55M251.9 282.0h0.55M252.6 283.9h0.55M252.2 282.0h0.55M250.7 273.6h0.55M250.5 289.4h0.55M252.7 280.2h0.55M252.2 285.2h0.55M251.5 282.7h0.55M251.1 282.1h0.55M252.9 280.2h0.55M252.7 282.6h0.55M251.8 287.2h0.55M251.5 278.3h0.55M251.3 278.7h0.55M252.3 284.0h0.55M252.2 281.9h0.55M251.5 288.7h0.55M251.1 279.6h0.55M251.5 280.0h0.55M252.2 282.4h0.55M247.6 280.0h0.55M252.8 282.8h0.55M250.8 288.7h0.55M249.4 282.6h0.55M252.5 284.0h0.55M251.6 281.8h0.55M250.4 280.9h0.55M248.3 278.2h0.55M252.3 285.2h0.55M252.4 280.9h0.55M251.3 281.2h0.55M250.9 282.3h0.55M251.2 289.6h0.55M252.5 286.4h0.55M250.3 285.4h0.55M252.5 282.7h0.55M251.9 279.3h0.55M252.0 284.2h0.55M251.9 279.5h0.55M249.4 286.0h0.55M251.1 284.3h0.55M250.4 273.7h0.55M249.1 281.9h0.55M251.0 287.1h0.55M250.4 281.3h0.55M249.5 286.2h0.55M253.2 285.5h0.55M251.6 283.7h0.55M252.0 280.2h0.55M249.9 282.2h0.55M250.4 286.0h0.55M250.3 273.6h0.55M250.7 288.2h0.55M253.0 285.6h0.55" stroke="rgb(111,186,58)" stroke-width="0.55" stroke-opacity="0.95" fill="none"/>
<path d="M251.7 283.9h0.55M251.4 284.8h0.55M253.2 284.2h0.55M252.2 280.0h0.55M249.8 284.9h0.55M250.4 286.5h0.55M251.9 280.4h0.55M250.4 282.3h0.55M252.1 287.2h0.55M251.8 280.3h0.55M253.2 280.9h0.55M252.1 279.5h0.55M252.7 281.0h0.55M253.0 280.3h0.55M251.3 291.1h0.55" stroke="rgb(180,205,53)" stroke-width="0.55" stroke-opacity="0.95" fill="none"/>
<path d="M253.2 284.7h0.55M252.2 280.8h0.55" stroke="rgb(224,195,47)" stroke-width="0.55" stroke-opacity="0.95" fill="none"/>
<path d="M261.9 345.0h0.45M265.2 345.0h0.45M236.1 345.1h0.45M261.7 345.0h0.45M263.3 345.0h0.45M261.2 345.0h0.45M238.0 345.1h0.45M261.2 345.1h0.45M239.8 345.0h0.45" stroke="rgb(64,95,191)" stroke-width="0.45" stroke-opacity="0.8" fill="none"/>
<path d="M240.0 345.1h0.45M242.9 345.1h0.45M240.4 345.0h0.45M240.2 345.0h0.45M240.5 345.1h0.45M241.8 345.0h0.45M242.5 345.1h0.45M259.1 345.0h0.45M258.2 345.0h0.45M242.6 345.0h0.45M259.7 345.0h0.45M259.0 345.1h0.45M259.6 345.0h0.45M242.4 345.1h0.45M260.2 345.0h0.45" stroke="rgb(59,104,194)" stroke-width="0.45" stroke-opacity="0.8" fill="none"/>
<path d="M255.4 345.1h0.45M244.8 345.0h0.45M255.2 345.0h0.45M255.1 345.0h0.45M258.5 345.0h0.45M258.2 345.1h0.45M255.7 345.0h0.45M256.3 345.1h0.45M257.6 345.0h0.45M258.1 345.0h0.45M244.7 345.1h0.45M242.3 345.1h0.45M258.2 345.0h0.45M242.9 345.1h0.45M243.2 345.0h0.45M245.4 345.0h0.45M258.5 345.0h0.45M242.5 345.1h0.45M242.5 345.1h0.45M244.8 345.0h0.45M242.7 345.1h0.45M259.4 345.1h0.45M255.4 345.0h0.45M243.3 345.1h0.45M244.4 345.1h0.45M245.3 345.0h0.45M259.4 345.0h0.45M257.0 345.0h0.45M242.4 345.1h0.45M244.8 345.0h0.45M257.2 345.1h0.45M254.0 345.0h0.45M257.8 345.0h0.45M246.2 345.0h0.45M258.8 345.0h0.45M258.4 345.1h0.45M243.5 345.1h0.45M255.8 345.0h0.45M257.9 345.0h0.45" stroke="rgb(57,121,180)" stroke-width="0.45" stroke-opacity="0.8" fill="none"/>
<path d="M254.1 345.1h0.45M258.0 345.0h0.45M245.0 345.1h0.45M252.5 345.0h0.45M257.2 345.0h0.45M245.2 345.1h0.45M256.2 345.0h0.45M244.0 345.0h0.45M256.6 345.0h0.45M256.1 345.1h0.45M242.9 345.1h0.45M247.8 345.0h0.45M256.2 345.0h0.45M247.2 345.1h0.45M244.8 345.1h0.45M243.3 345.1h0.45M252.4 345.1h0.45M254.1 345.0h0.45M252.1 345.0h0.45M245.4 345.0h0.45M251.2 345.1h0.45M245.9 345.1h0.45M256.9 345.1h0.45M249.9 345.0h0.45M245.9 345.1h0.45M246.3 345.1h0.45M254.6 345.1h0.45M246.5 345.1h0.45M245.2 345.0h0.45M255.1 345.1h0.45M258.2 345.1h0.45M243.4 345.1h0.45M244.0 345.1h0.45M254.1 345.1h0.45M244.3 345.1h0.45M245.3 345.1h0.45M257.6 345.0h0.45M247.3 345.0h0.45M248.9 345.1h0.45M252.1 345.1h0.45M252.3 345.1h0.45M256.1 345.1h0.45M253.1 345.1h0.45M256.3 345.0h0.45M245.1 345.0h0.45M244.4 345.1h0.45M244.0 345.1h0.45M254.5 345.1h0.45M256.0 345.1h0.45M256.8 345.1h0.45M254.1 345.0h0.45M255.1 345.1h0.45M245.9 345.1h0.45M247.8 345.0h0.45M255.9 345.1h0.45" stroke="rgb(60,156,125)" stroke-width="0.45" stroke-opacity="0.8" fill="none"/>
<path d="M249.3 345.1h0.45M253.5 345.1h0.45M251.4 345.1h0.45M257.6 345.0h0.45M251.6 345.0h0.45M254.5 345.0h0.45M246.1 345.1h0.45M253.7 345.1h0.45M245.4 345.0h0.45M248.4 345.1h0.45M250.3 345.1h0.45M252.9 345.0h0.45M256.1 345.1h0.45M251.0 345.1h0.45M254.8 345.0h0.45M243.9 345.0h0.45M252.6 345.1h0.45M258.6 345.0h0.45M246.0 345.1h0.45M254.1 345.0h0.45M250.9 345.1h0.45M252.0 345.1h0.45M254.1 345.1h0.45M244.8 345.1h0.45M245.7 345.1h0.45M247.5 345.0h0.45M246.4 345.1h0.45M252.8 345.1h0.45M250.7 345.1h0.45M253.4 345.0h0.45M254.9 345.0h0.45M248.4 345.1h0.45M249.6 345.1h0.45M251.1 345.0h0.45M248.4 345.1h0.45M256.2 345.0h0.45M247.9 345.0h0.45M250.2 345.1h0.45M247.4 345.1h0.45M246.3 345.0h0.45M253.3 345.0h0.45M254.9 345.1h0.45M256.7 345.1h0.45M254.3 345.0h0.45M246.9 345.1h0.45M249.7 345.0h0.45M254.9 345.1h0.45M246.8 345.0h0.45M252.8 345.0h0.45M248.3 345.0h0.45M255.5 345.1h0.45M252.9 345.1h0.45M255.2 345.0h0.45M256.6 345.1h0.45M246.9 345.1h0.45M256.4 345.0h0.45M253.6 345.1h0.45M245.8 345.1h0.45M252.7 345.1h0.45M253.9 345.0h0.45M257.5 345.0h0.45M248.4 345.1h0.45" stroke="rgb(77,171,86)" stroke-width="0.45" stroke-opacity="0.8" fill="none"/>
<path d="M251.6 345.0h0.45M246.1 345.1h0.45M246.1 345.0h0.45M251.7 345.1h0.45M250.8 345.1h0.45M250.1 345.0h0.45M247.4 345.1h0.45M247.4 345.0h0.45M253.2 345.1h0.45M251.7 345.0h0.45M253.0 345.1h0.45M250.1 345.1h0.45M247.3 345.1h0.45M252.8 345.0h0.45M252.0 345.0h0.45M250.3 345.0h0.45M248.0 345.1h0.45M245.2 345.0h0.45M250.8 345.0h0.45M252.1 345.0h0.45M251.8 345.0h0.45M249.6 345.0h0.45M252.7 345.1h0.45M251.8 345.0h0.45M247.1 345.0h0.45M250.4 345.0h0.45M247.6 345.0h0.45M254.3 345.0h0.45M246.0 345.0h0.45M250.1 345.0h0.45M252.2 345.0h0.45M245.9 345.1h0.45M251.9 345.1h0.45M252.6 345.1h0.45M253.0 345.0h0.45M246.6 345.0h0.45M253.7 345.0h0.45M246.4 345.0h0.45M250.9 345.0h0.45M250.1 345.0h0.45M249.4 345.1h0.45M248.5 345.1h0.45M244.0 345.1h0.45M250.2 345.0h0.45M250.0 345.0h0.45M247.6 345.1h0.45M250.1 345.0h0.45M251.1 345.0h0.45M252.4 345.1h0.45M249.2 345.0h0.45M249.6 345.0h0.45M252.3 345.1h0.45M252.9 345.1h0.45M249.4 345.1h0.45M254.7 345.0h0.45M252.5 345.0h0.45M246.5 345.0h0.45M247.7 345.1h0.45M247.5 345.0h0.45M249.7 345.0h0.45M251.4 345.1h0.45M247.8 345.0h0.45M246.4 345.0h0.45M248.9 345.1h0.45M250.7 345.1h0.45M250.2 345.1h0.45" stroke="rgb(111,186,58)" stroke-width="0.45" stroke-opacity="0.8" fill="none"/>
<path d="M247.5 345.0h0.45M252.0 345.0h0.45M251.3 345.0h0.45M249.1 345.0h0.45M247.1 345.0h0.45M250.4 345.1h0.45M254.7 345.0h0.45M250.4 345.1h0.45M248.4 345.0h0.45M250.0 345.1h0.45M250.0 345.0h0.45M247.2 345.0h0.45M249.0 345.1h0.45M250.5 345.0h0.45M252.4 345.0h0.45M251.9 345.0h0.45M247.0 345.0h0.45M249.7 345.1h0.45M252.4 345.0h0.45M251.3 345.1h0.45M251.6 345.1h0.45M248.4 345.1h0.45M249.8 345.0h0.45M248.0 345.1h0.45M255.6 345.1h0.45M248.5 345.0h0.45M248.6 345.0h0.45M249.4 345.1h0.45M251.8 345.0h0.45M249.8 345.0h0.45M248.0 345.0h0.45M249.1 345.1h0.45M251.6 345.0h0.45M252.4 345.0h0.45M247.8 345.0h0.45M250.3 345.0h0.45M246.5 345.0h0.45" stroke="rgb(180,205,53)" stroke-width="0.45" stroke-opacity="0.8" fill="none"/>
<path d="M248.4 345.0h0.45M248.2 345.1h0.45M249.8 345.1h0.45M252.5 345.1h0.45M250.7 345.0h0.45M250.5 345.1h0.45M248.3 345.0h0.45M250.6 345.0h0.45M247.2 345.0h0.45M252.7 345.1h0.45M248.2 345.1h0.45M249.6 345.0h0.45M248.8 345.1h0.45M249.7 345.1h0.45M250.8 345.0h0.45M250.1 345.1h0.45M249.2 345.1h0.45M252.5 345.1h0.45M247.9 345.1h0.45M252.7 345.1h0.45M251.0 345.0h0.45M249.8 345.1h0.45M251.5 345.1h0.45M248.4 345.0h0.45M248.2 345.1h0.45M248.4 345.1h0.45M249.0 345.0h0.45M248.9 345.1h0.45M250.8 345.0h0.45M248.6 345.1h0.45M249.0 345.0h0.45M247.9 345.0h0.45M248.5 345.0h0.45" stroke="rgb(224,195,47)" stroke-width="0.45" stroke-opacity="0.8" fill="none"/>
<path d="M249.3 345.1h0.45M249.6 345.1h0.45M251.6 345.1h0.45M248.4 345.1h0.45M251.3 345.1h0.45M250.1 345.1h0.45M249.0 345.0h0.45M249.7 345.1h0.45" stroke="rgb(243,154,41)" stroke-width="0.45" stroke-opacity="0.8" fill="none"/>
<path d="M249.6 345.0h0.45M251.3 345.1h0.45M249.6 345.1h0.45M250.4 345.0h0.45M249.4 345.0h0.45M251.6 345.1h0.45" stroke="rgb(240,99,40)" stroke-width="0.45" stroke-opacity="0.8" fill="none"/>
<path d="M296.9 230.3V345.4" fill="none" stroke="#b4b4b4" stroke-width="1.3"/>
<path d="M190.9 230.3H297.5" fill="none" stroke="#959595" stroke-width="1.1"/>
<path d="M190.9 229.8V345.4" fill="none" stroke="#8c8c8c" stroke-width="1.1"/>
<path d="M190.4 345.4H297.5" fill="none" stroke="#5a5a5a" stroke-width="1.0"/>
<line x1="190.90" y1="345.40" x2="190.90" y2="348.00" stroke="#4a4a4a" stroke-width="0.7"/>
<line x1="188.30" y1="345.40" x2="190.90" y2="345.40" stroke="#4a4a4a" stroke-width="0.7"/>
<text x="191.10" y="356.8" font-size="5.4" text-anchor="middle" fill="#333" stroke="#333" stroke-width="0.18">10<tspan dy="-2.2" font-size="4.0">0</tspan></text>
<text x="187.30" y="347.30" font-size="5.4" text-anchor="end" fill="#333" stroke="#333" stroke-width="0.18">10<tspan dy="-2.2" font-size="4.0">0</tspan></text>
<line x1="198.88" y1="345.40" x2="198.88" y2="346.70" stroke="#4a4a4a" stroke-width="0.5"/>
<line x1="189.60" y1="336.74" x2="190.90" y2="336.74" stroke="#4a4a4a" stroke-width="0.5"/>
<line x1="203.54" y1="345.40" x2="203.54" y2="346.70" stroke="#4a4a4a" stroke-width="0.5"/>
<line x1="189.60" y1="331.67" x2="190.90" y2="331.67" stroke="#4a4a4a" stroke-width="0.5"/>
<line x1="206.85" y1="345.40" x2="206.85" y2="346.70" stroke="#4a4a4a" stroke-width="0.5"/>
<line x1="189.60" y1="328.08" x2="190.90" y2="328.08" stroke="#4a4a4a" stroke-width="0.5"/>
<line x1="209.42" y1="345.40" x2="209.42" y2="346.70" stroke="#4a4a4a" stroke-width="0.5"/>
<line x1="189.60" y1="325.29" x2="190.90" y2="325.29" stroke="#4a4a4a" stroke-width="0.5"/>
<line x1="211.52" y1="345.40" x2="211.52" y2="346.70" stroke="#4a4a4a" stroke-width="0.5"/>
<line x1="189.60" y1="323.01" x2="190.90" y2="323.01" stroke="#4a4a4a" stroke-width="0.5"/>
<line x1="213.30" y1="345.40" x2="213.30" y2="346.70" stroke="#4a4a4a" stroke-width="0.5"/>
<line x1="189.60" y1="321.08" x2="190.90" y2="321.08" stroke="#4a4a4a" stroke-width="0.5"/>
<line x1="214.83" y1="345.40" x2="214.83" y2="346.70" stroke="#4a4a4a" stroke-width="0.5"/>
<line x1="189.60" y1="319.41" x2="190.90" y2="319.41" stroke="#4a4a4a" stroke-width="0.5"/>
<line x1="216.19" y1="345.40" x2="216.19" y2="346.70" stroke="#4a4a4a" stroke-width="0.5"/>
<line x1="189.60" y1="317.94" x2="190.90" y2="317.94" stroke="#4a4a4a" stroke-width="0.5"/>
<line x1="217.40" y1="345.40" x2="217.40" y2="348.00" stroke="#4a4a4a" stroke-width="0.7"/>
<line x1="188.30" y1="316.62" x2="190.90" y2="316.62" stroke="#4a4a4a" stroke-width="0.7"/>
<text x="217.60" y="356.8" font-size="5.4" text-anchor="middle" fill="#333" stroke="#333" stroke-width="0.18">10<tspan dy="-2.2" font-size="4.0">1</tspan></text>
<text x="187.30" y="318.52" font-size="5.4" text-anchor="end" fill="#333" stroke="#333" stroke-width="0.18">10<tspan dy="-2.2" font-size="4.0">1</tspan></text>
<line x1="225.38" y1="345.40" x2="225.38" y2="346.70" stroke="#4a4a4a" stroke-width="0.5"/>
<line x1="189.60" y1="307.96" x2="190.90" y2="307.96" stroke="#4a4a4a" stroke-width="0.5"/>
<line x1="230.04" y1="345.40" x2="230.04" y2="346.70" stroke="#4a4a4a" stroke-width="0.5"/>
<line x1="189.60" y1="302.90" x2="190.90" y2="302.90" stroke="#4a4a4a" stroke-width="0.5"/>
<line x1="233.35" y1="345.40" x2="233.35" y2="346.70" stroke="#4a4a4a" stroke-width="0.5"/>
<line x1="189.60" y1="299.30" x2="190.90" y2="299.30" stroke="#4a4a4a" stroke-width="0.5"/>
<line x1="235.92" y1="345.40" x2="235.92" y2="346.70" stroke="#4a4a4a" stroke-width="0.5"/>
<line x1="189.60" y1="296.51" x2="190.90" y2="296.51" stroke="#4a4a4a" stroke-width="0.5"/>
<line x1="238.02" y1="345.40" x2="238.02" y2="346.70" stroke="#4a4a4a" stroke-width="0.5"/>
<line x1="189.60" y1="294.23" x2="190.90" y2="294.23" stroke="#4a4a4a" stroke-width="0.5"/>
<line x1="239.80" y1="345.40" x2="239.80" y2="346.70" stroke="#4a4a4a" stroke-width="0.5"/>
<line x1="189.60" y1="292.31" x2="190.90" y2="292.31" stroke="#4a4a4a" stroke-width="0.5"/>
<line x1="241.33" y1="345.40" x2="241.33" y2="346.70" stroke="#4a4a4a" stroke-width="0.5"/>
<line x1="189.60" y1="290.64" x2="190.90" y2="290.64" stroke="#4a4a4a" stroke-width="0.5"/>
<line x1="242.69" y1="345.40" x2="242.69" y2="346.70" stroke="#4a4a4a" stroke-width="0.5"/>
<line x1="189.60" y1="289.17" x2="190.90" y2="289.17" stroke="#4a4a4a" stroke-width="0.5"/>
<line x1="243.90" y1="345.40" x2="243.90" y2="348.00" stroke="#4a4a4a" stroke-width="0.7"/>
<line x1="188.30" y1="287.85" x2="190.90" y2="287.85" stroke="#4a4a4a" stroke-width="0.7"/>
<text x="244.10" y="356.8" font-size="5.4" text-anchor="middle" fill="#333" stroke="#333" stroke-width="0.18">10<tspan dy="-2.2" font-size="4.0">2</tspan></text>
<text x="187.30" y="289.75" font-size="5.4" text-anchor="end" fill="#333" stroke="#333" stroke-width="0.18">10<tspan dy="-2.2" font-size="4.0">2</tspan></text>
<line x1="251.88" y1="345.40" x2="251.88" y2="346.70" stroke="#4a4a4a" stroke-width="0.5"/>
<line x1="189.60" y1="279.19" x2="190.90" y2="279.19" stroke="#4a4a4a" stroke-width="0.5"/>
<line x1="256.54" y1="345.40" x2="256.54" y2="346.70" stroke="#4a4a4a" stroke-width="0.5"/>
<line x1="189.60" y1="274.12" x2="190.90" y2="274.12" stroke="#4a4a4a" stroke-width="0.5"/>
<line x1="259.85" y1="345.40" x2="259.85" y2="346.70" stroke="#4a4a4a" stroke-width="0.5"/>
<line x1="189.60" y1="270.53" x2="190.90" y2="270.53" stroke="#4a4a4a" stroke-width="0.5"/>
<line x1="262.42" y1="345.40" x2="262.42" y2="346.70" stroke="#4a4a4a" stroke-width="0.5"/>
<line x1="189.60" y1="267.74" x2="190.90" y2="267.74" stroke="#4a4a4a" stroke-width="0.5"/>
<line x1="264.52" y1="345.40" x2="264.52" y2="346.70" stroke="#4a4a4a" stroke-width="0.5"/>
<line x1="189.60" y1="265.46" x2="190.90" y2="265.46" stroke="#4a4a4a" stroke-width="0.5"/>
<line x1="266.30" y1="345.40" x2="266.30" y2="346.70" stroke="#4a4a4a" stroke-width="0.5"/>
<line x1="189.60" y1="263.53" x2="190.90" y2="263.53" stroke="#4a4a4a" stroke-width="0.5"/>
<line x1="267.83" y1="345.40" x2="267.83" y2="346.70" stroke="#4a4a4a" stroke-width="0.5"/>
<line x1="189.60" y1="261.86" x2="190.90" y2="261.86" stroke="#4a4a4a" stroke-width="0.5"/>
<line x1="269.19" y1="345.40" x2="269.19" y2="346.70" stroke="#4a4a4a" stroke-width="0.5"/>
<line x1="189.60" y1="260.39" x2="190.90" y2="260.39" stroke="#4a4a4a" stroke-width="0.5"/>
<line x1="270.40" y1="345.40" x2="270.40" y2="348.00" stroke="#4a4a4a" stroke-width="0.7"/>
<line x1="188.30" y1="259.07" x2="190.90" y2="259.07" stroke="#4a4a4a" stroke-width="0.7"/>
<text x="270.60" y="356.8" font-size="5.4" text-anchor="middle" fill="#333" stroke="#333" stroke-width="0.18">10<tspan dy="-2.2" font-size="4.0">3</tspan></text>
<text x="187.30" y="260.97" font-size="5.4" text-anchor="end" fill="#333" stroke="#333" stroke-width="0.18">10<tspan dy="-2.2" font-size="4.0">3</tspan></text>
<line x1="278.38" y1="345.40" x2="278.38" y2="346.70" stroke="#4a4a4a" stroke-width="0.5"/>
<line x1="189.60" y1="250.41" x2="190.90" y2="250.41" stroke="#4a4a4a" stroke-width="0.5"/>
<line x1="283.04" y1="345.40" x2="283.04" y2="346.70" stroke="#4a4a4a" stroke-width="0.5"/>
<line x1="189.60" y1="245.35" x2="190.90" y2="245.35" stroke="#4a4a4a" stroke-width="0.5"/>
<line x1="286.35" y1="345.40" x2="286.35" y2="346.70" stroke="#4a4a4a" stroke-width="0.5"/>
<line x1="189.60" y1="241.75" x2="190.90" y2="241.75" stroke="#4a4a4a" stroke-width="0.5"/>
<line x1="288.92" y1="345.40" x2="288.92" y2="346.70" stroke="#4a4a4a" stroke-width="0.5"/>
<line x1="189.60" y1="238.96" x2="190.90" y2="238.96" stroke="#4a4a4a" stroke-width="0.5"/>
<line x1="291.02" y1="345.40" x2="291.02" y2="346.70" stroke="#4a4a4a" stroke-width="0.5"/>
<line x1="189.60" y1="236.68" x2="190.90" y2="236.68" stroke="#4a4a4a" stroke-width="0.5"/>
<line x1="292.80" y1="345.40" x2="292.80" y2="346.70" stroke="#4a4a4a" stroke-width="0.5"/>
<line x1="189.60" y1="234.76" x2="190.90" y2="234.76" stroke="#4a4a4a" stroke-width="0.5"/>
<line x1="294.33" y1="345.40" x2="294.33" y2="346.70" stroke="#4a4a4a" stroke-width="0.5"/>
<line x1="189.60" y1="233.09" x2="190.90" y2="233.09" stroke="#4a4a4a" stroke-width="0.5"/>
<line x1="295.69" y1="345.40" x2="295.69" y2="346.70" stroke="#4a4a4a" stroke-width="0.5"/>
<line x1="189.60" y1="231.62" x2="190.90" y2="231.62" stroke="#4a4a4a" stroke-width="0.5"/>
<line x1="296.90" y1="345.40" x2="296.90" y2="348.00" stroke="#4a4a4a" stroke-width="0.7"/>
<line x1="188.30" y1="230.30" x2="190.90" y2="230.30" stroke="#4a4a4a" stroke-width="0.7"/>
<text x="297.10" y="356.8" font-size="5.4" text-anchor="middle" fill="#333" stroke="#333" stroke-width="0.18">10<tspan dy="-2.2" font-size="4.0">4</tspan></text>
<text x="187.30" y="232.20" font-size="5.4" text-anchor="end" fill="#333" stroke="#333" stroke-width="0.18">10<tspan dy="-2.2" font-size="4.0">4</tspan></text>
<rect x="266.1" y="266.2" width="10.2" height="39.3" fill="none" stroke="#d98ccc" stroke-width="0.6"/>
<text x="257.60" y="260.90" font-size="8.80" textLength="32.60" lengthAdjust="spacingAndGlyphs" stroke="#000" stroke-width="0.2">R2 0.48%</text>
<text transform="translate(177.10,295.90) rotate(-90)" font-size="12.4" textLength="16.60" lengthAdjust="spacingAndGlyphs" stroke="#000" stroke-width="0.2">IgG</text>
<text x="218.50" y="368.90" font-size="11.40" textLength="56.40" lengthAdjust="spacingAndGlyphs" stroke="#000" stroke-width="0.2">ER-Tracker</text>
<text x="326.40" y="222.00" font-size="11.40" letter-spacing="0.25" stroke="#000" stroke-width="0.3">III</text>
<path d="M347.2 307.5h0.5M351.7 282.6h0.5M367.7 270.1h0.5M364.8 275.9h0.5M348.9 293.5h0.5M346.5 281.6h0.5M351.1 288.7h0.5M347.3 300.5h0.5M350.2 275.5h0.5M343.3 266.0h0.5M351.2 290.6h0.5M341.7 283.2h0.5M353.6 290.2h0.5M363.3 287.5h0.5M373.1 283.3h0.5M348.5 283.8h0.5M367.5 285.2h0.5M359.1 283.0h0.5M367.4 278.3h0.5M341.5 264.3h0.5M338.3 278.3h0.5M347.9 279.6h0.5M357.2 291.3h0.5M360.1 291.4h0.5" stroke="rgb(64,95,191)" stroke-width="0.5" stroke-opacity="0.6" fill="none"/>
<path d="M437.0 230.3V345.4" fill="none" stroke="#b4b4b4" stroke-width="1.3"/>
<path d="M331.0 230.3H437.6" fill="none" stroke="#959595" stroke-width="1.1"/>
<path d="M331.0 229.8V345.4" fill="none" stroke="#8c8c8c" stroke-width="1.1"/>
<path d="M330.5 345.4H437.6" fill="none" stroke="#5a5a5a" stroke-width="1.0"/>
<line x1="331.00" y1="345.40" x2="331.00" y2="348.00" stroke="#4a4a4a" stroke-width="0.7"/>
<line x1="328.40" y1="345.40" x2="331.00" y2="345.40" stroke="#4a4a4a" stroke-width="0.7"/>
<text x="331.20" y="356.8" font-size="5.4" text-anchor="middle" fill="#333" stroke="#333" stroke-width="0.18">10<tspan dy="-2.2" font-size="4.0">0</tspan></text>
<text x="327.40" y="347.30" font-size="5.4" text-anchor="end" fill="#333" stroke="#333" stroke-width="0.18">10<tspan dy="-2.2" font-size="4.0">0</tspan></text>
<line x1="338.98" y1="345.40" x2="338.98" y2="346.70" stroke="#4a4a4a" stroke-width="0.5"/>
<line x1="329.70" y1="336.74" x2="331.00" y2="336.74" stroke="#4a4a4a" stroke-width="0.5"/>
<line x1="343.64" y1="345.40" x2="343.64" y2="346.70" stroke="#4a4a4a" stroke-width="0.5"/>
<line x1="329.70" y1="331.67" x2="331.00" y2="331.67" stroke="#4a4a4a" stroke-width="0.5"/>
<line x1="346.95" y1="345.40" x2="346.95" y2="346.70" stroke="#4a4a4a" stroke-width="0.5"/>
<line x1="329.70" y1="328.08" x2="331.00" y2="328.08" stroke="#4a4a4a" stroke-width="0.5"/>
<line x1="349.52" y1="345.40" x2="349.52" y2="346.70" stroke="#4a4a4a" stroke-width="0.5"/>
<line x1="329.70" y1="325.29" x2="331.00" y2="325.29" stroke="#4a4a4a" stroke-width="0.5"/>
<line x1="351.62" y1="345.40" x2="351.62" y2="346.70" stroke="#4a4a4a" stroke-width="0.5"/>
<line x1="329.70" y1="323.01" x2="331.00" y2="323.01" stroke="#4a4a4a" stroke-width="0.5"/>
<line x1="353.40" y1="345.40" x2="353.40" y2="346.70" stroke="#4a4a4a" stroke-width="0.5"/>
<line x1="329.70" y1="321.08" x2="331.00" y2="321.08" stroke="#4a4a4a" stroke-width="0.5"/>
<line x1="354.93" y1="345.40" x2="354.93" y2="346.70" stroke="#4a4a4a" stroke-width="0.5"/>
<line x1="329.70" y1="319.41" x2="331.00" y2="319.41" stroke="#4a4a4a" stroke-width="0.5"/>
<line x1="356.29" y1="345.40" x2="356.29" y2="346.70" stroke="#4a4a4a" stroke-width="0.5"/>
<line x1="329.70" y1="317.94" x2="331.00" y2="317.94" stroke="#4a4a4a" stroke-width="0.5"/>
<line x1="357.50" y1="345.40" x2="357.50" y2="348.00" stroke="#4a4a4a" stroke-width="0.7"/>
<line x1="328.40" y1="316.62" x2="331.00" y2="316.62" stroke="#4a4a4a" stroke-width="0.7"/>
<text x="357.70" y="356.8" font-size="5.4" text-anchor="middle" fill="#333" stroke="#333" stroke-width="0.18">10<tspan dy="-2.2" font-size="4.0">1</tspan></text>
<text x="327.40" y="318.52" font-size="5.4" text-anchor="end" fill="#333" stroke="#333" stroke-width="0.18">10<tspan dy="-2.2" font-size="4.0">1</tspan></text>
<line x1="365.48" y1="345.40" x2="365.48" y2="346.70" stroke="#4a4a4a" stroke-width="0.5"/>
<line x1="329.70" y1="307.96" x2="331.00" y2="307.96" stroke="#4a4a4a" stroke-width="0.5"/>
<line x1="370.14" y1="345.40" x2="370.14" y2="346.70" stroke="#4a4a4a" stroke-width="0.5"/>
<line x1="329.70" y1="302.90" x2="331.00" y2="302.90" stroke="#4a4a4a" stroke-width="0.5"/>
<line x1="373.45" y1="345.40" x2="373.45" y2="346.70" stroke="#4a4a4a" stroke-width="0.5"/>
<line x1="329.70" y1="299.30" x2="331.00" y2="299.30" stroke="#4a4a4a" stroke-width="0.5"/>
<line x1="376.02" y1="345.40" x2="376.02" y2="346.70" stroke="#4a4a4a" stroke-width="0.5"/>
<line x1="329.70" y1="296.51" x2="331.00" y2="296.51" stroke="#4a4a4a" stroke-width="0.5"/>
<line x1="378.12" y1="345.40" x2="378.12" y2="346.70" stroke="#4a4a4a" stroke-width="0.5"/>
<line x1="329.70" y1="294.23" x2="331.00" y2="294.23" stroke="#4a4a4a" stroke-width="0.5"/>
<line x1="379.90" y1="345.40" x2="379.90" y2="346.70" stroke="#4a4a4a" stroke-width="0.5"/>
<line x1="329.70" y1="292.31" x2="331.00" y2="292.31" stroke="#4a4a4a" stroke-width="0.5"/>
<line x1="381.43" y1="345.40" x2="381.43" y2="346.70" stroke="#4a4a4a" stroke-width="0.5"/>
<line x1="329.70" y1="290.64" x2="331.00" y2="290.64" stroke="#4a4a4a" stroke-width="0.5"/>
<line x1="382.79" y1="345.40" x2="382.79" y2="346.70" stroke="#4a4a4a" stroke-width="0.5"/>
<line x1="329.70" y1="289.17" x2="331.00" y2="289.17" stroke="#4a4a4a" stroke-width="0.5"/>
<line x1="384.00" y1="345.40" x2="384.00" y2="348.00" stroke="#4a4a4a" stroke-width="0.7"/>
<line x1="328.40" y1="287.85" x2="331.00" y2="287.85" stroke="#4a4a4a" stroke-width="0.7"/>
<text x="384.20" y="356.8" font-size="5.4" text-anchor="middle" fill="#333" stroke="#333" stroke-width="0.18">10<tspan dy="-2.2" font-size="4.0">2</tspan></text>
<text x="327.40" y="289.75" font-size="5.4" text-anchor="end" fill="#333" stroke="#333" stroke-width="0.18">10<tspan dy="-2.2" font-size="4.0">2</tspan></text>
<line x1="391.98" y1="345.40" x2="391.98" y2="346.70" stroke="#4a4a4a" stroke-width="0.5"/>
<line x1="329.70" y1="279.19" x2="331.00" y2="279.19" stroke="#4a4a4a" stroke-width="0.5"/>
<line x1="396.64" y1="345.40" x2="396.64" y2="346.70" stroke="#4a4a4a" stroke-width="0.5"/>
<line x1="329.70" y1="274.12" x2="331.00" y2="274.12" stroke="#4a4a4a" stroke-width="0.5"/>
<line x1="399.95" y1="345.40" x2="399.95" y2="346.70" stroke="#4a4a4a" stroke-width="0.5"/>
<line x1="329.70" y1="270.53" x2="331.00" y2="270.53" stroke="#4a4a4a" stroke-width="0.5"/>
<line x1="402.52" y1="345.40" x2="402.52" y2="346.70" stroke="#4a4a4a" stroke-width="0.5"/>
<line x1="329.70" y1="267.74" x2="331.00" y2="267.74" stroke="#4a4a4a" stroke-width="0.5"/>
<line x1="404.62" y1="345.40" x2="404.62" y2="346.70" stroke="#4a4a4a" stroke-width="0.5"/>
<line x1="329.70" y1="265.46" x2="331.00" y2="265.46" stroke="#4a4a4a" stroke-width="0.5"/>
<line x1="406.40" y1="345.40" x2="406.40" y2="346.70" stroke="#4a4a4a" stroke-width="0.5"/>
<line x1="329.70" y1="263.53" x2="331.00" y2="263.53" stroke="#4a4a4a" stroke-width="0.5"/>
<line x1="407.93" y1="345.40" x2="407.93" y2="346.70" stroke="#4a4a4a" stroke-width="0.5"/>
<line x1="329.70" y1="261.86" x2="331.00" y2="261.86" stroke="#4a4a4a" stroke-width="0.5"/>
<line x1="409.29" y1="345.40" x2="409.29" y2="346.70" stroke="#4a4a4a" stroke-width="0.5"/>
<line x1="329.70" y1="260.39" x2="331.00" y2="260.39" stroke="#4a4a4a" stroke-width="0.5"/>
<line x1="410.50" y1="345.40" x2="410.50" y2="348.00" stroke="#4a4a4a" stroke-width="0.7"/>
<line x1="328.40" y1="259.07" x2="331.00" y2="259.07" stroke="#4a4a4a" stroke-width="0.7"/>
<text x="410.70" y="356.8" font-size="5.4" text-anchor="middle" fill="#333" stroke="#333" stroke-width="0.18">10<tspan dy="-2.2" font-size="4.0">3</tspan></text>
<text x="327.40" y="260.97" font-size="5.4" text-anchor="end" fill="#333" stroke="#333" stroke-width="0.18">10<tspan dy="-2.2" font-size="4.0">3</tspan></text>
<line x1="418.48" y1="345.40" x2="418.48" y2="346.70" stroke="#4a4a4a" stroke-width="0.5"/>
<line x1="329.70" y1="250.41" x2="331.00" y2="250.41" stroke="#4a4a4a" stroke-width="0.5"/>
<line x1="423.14" y1="345.40" x2="423.14" y2="346.70" stroke="#4a4a4a" stroke-width="0.5"/>
<line x1="329.70" y1="245.35" x2="331.00" y2="245.35" stroke="#4a4a4a" stroke-width="0.5"/>
<line x1="426.45" y1="345.40" x2="426.45" y2="346.70" stroke="#4a4a4a" stroke-width="0.5"/>
<line x1="329.70" y1="241.75" x2="331.00" y2="241.75" stroke="#4a4a4a" stroke-width="0.5"/>
<line x1="429.02" y1="345.40" x2="429.02" y2="346.70" stroke="#4a4a4a" stroke-width="0.5"/>
<line x1="329.70" y1="238.96" x2="331.00" y2="238.96" stroke="#4a4a4a" stroke-width="0.5"/>
<line x1="431.12" y1="345.40" x2="431.12" y2="346.70" stroke="#4a4a4a" stroke-width="0.5"/>
<line x1="329.70" y1="236.68" x2="331.00" y2="236.68" stroke="#4a4a4a" stroke-width="0.5"/>
<line x1="432.90" y1="345.40" x2="432.90" y2="346.70" stroke="#4a4a4a" stroke-width="0.5"/>
<line x1="329.70" y1="234.76" x2="331.00" y2="234.76" stroke="#4a4a4a" stroke-width="0.5"/>
<line x1="434.43" y1="345.40" x2="434.43" y2="346.70" stroke="#4a4a4a" stroke-width="0.5"/>
<line x1="329.70" y1="233.09" x2="331.00" y2="233.09" stroke="#4a4a4a" stroke-width="0.5"/>
<line x1="435.79" y1="345.40" x2="435.79" y2="346.70" stroke="#4a4a4a" stroke-width="0.5"/>
<line x1="329.70" y1="231.62" x2="331.00" y2="231.62" stroke="#4a4a4a" stroke-width="0.5"/>
<line x1="437.00" y1="345.40" x2="437.00" y2="348.00" stroke="#4a4a4a" stroke-width="0.7"/>
<line x1="328.40" y1="230.30" x2="331.00" y2="230.30" stroke="#4a4a4a" stroke-width="0.7"/>
<text x="437.20" y="356.8" font-size="5.4" text-anchor="middle" fill="#333" stroke="#333" stroke-width="0.18">10<tspan dy="-2.2" font-size="4.0">4</tspan></text>
<text x="327.40" y="232.20" font-size="5.4" text-anchor="end" fill="#333" stroke="#333" stroke-width="0.18">10<tspan dy="-2.2" font-size="4.0">4</tspan></text>
<rect x="389.2" y="267.7" width="22.4" height="24.4" fill="none" stroke="#d98ccc" stroke-width="0.6"/>
<text x="386.00" y="264.40" font-size="8.80" textLength="36.20" lengthAdjust="spacingAndGlyphs" stroke="#000" stroke-width="0.2">R3 0.002%</text>
<text transform="translate(317.20,295.90) rotate(-90)" font-size="12.4" textLength="16.60" lengthAdjust="spacingAndGlyphs" stroke="#000" stroke-width="0.2">IgG</text>
<text x="333.20" y="368.90" font-size="11.40" textLength="25.40" lengthAdjust="spacingAndGlyphs" stroke="#000" stroke-width="0.2">SV2B</text>
<text x="358.80" y="368.90" font-size="7.20" textLength="21.20" lengthAdjust="spacingAndGlyphs" stroke="#000" stroke-width="0.2">80-88</text>
<text x="380.20" y="368.90" font-size="11.40" textLength="56.80" lengthAdjust="spacingAndGlyphs" stroke="#000" stroke-width="0.2">/HLA-A*24</text>
</g>
<g id="panel-c">
<text transform="translate(-1.00,382.40) scale(0.9,1)" font-size="28.5" stroke="#000" stroke-width="0.5">c</text>
<path d="M46.4 433.4V537.9 M46.4 433.4H66.4 M66.4 412.8V454.4 M66.4 412.8H97.6 M97.6 401.6V424.9 M97.6 401.6H137.8 M97.6 424.9H139.3 M139.3 417V433.1 M66.4 454.4H85.6 M85.6 447.4V462 M85.6 447.4H97.4 M85.6 462H98.3 M46.4 477.8H51.3" fill="none" stroke="#555" stroke-width="0.6"/>
<text x="140.80" y="404.30" font-size="8.40" fill="#111" stroke="#111" stroke-width="0.15">5FG</text>
<text x="144.80" y="420.00" font-size="8.40" fill="#111" stroke="#111" stroke-width="0.15">1-5</text>
<text x="144.50" y="437.00" font-size="8.40" fill="#111" stroke="#111" stroke-width="0.15">2-41</text>
<text x="100.40" y="451.00" font-size="8.40" fill="#111" stroke="#111" stroke-width="0.15">16-35</text>
<text x="102.00" y="465.60" font-size="8.40" fill="#111" stroke="#111" stroke-width="0.15">21-34</text>
<text x="55.80" y="481.00" font-size="8.40" fill="#111" stroke="#111" stroke-width="0.15">21-3</text>
<text x="53.70" y="496.00" font-size="8.40" fill="#111" stroke="#111" stroke-width="0.15">34-23</text>
<text x="53.70" y="511.10" font-size="8.40" fill="#111" stroke="#111" stroke-width="0.15">33-3</text>
<text x="53.70" y="525.10" font-size="8.40" fill="#111" stroke="#111" stroke-width="0.15">1-4</text>
<text x="53.70" y="537.90" font-size="8.40" fill="#111" stroke="#111" stroke-width="0.15">2-35</text>
<text x="46.60" y="399.00" font-size="12.40" textLength="17.00" lengthAdjust="spacingAndGlyphs" stroke="#000" stroke-width="0.2">IgG</text>
<path d="M195.4 443.2V485 M194.1 484V538.5 M195.4 443.2H205.5 M205.5 416.4V469.9 M205.5 416.4H223.1 M223.1 401.9V431.6 M223.1 401.9H266.6 M223.1 431.6H242.3 M242.3 418.6V444.4 M242.3 418.6H264.7 M242.3 444.4H276.3 M276.3 436.2V452.9 M205.5 469.9H215.5 M194.1 486.3H199.4 M194.1 503.9H196 M194.1 538.5H195.8" fill="none" stroke="#555" stroke-width="0.6"/>
<text x="270.80" y="404.90" font-size="8.40" fill="#111" stroke="#111" stroke-width="0.15">5FG</text>
<text x="268.70" y="421.60" font-size="8.40" fill="#111" stroke="#111" stroke-width="0.15">16-35</text>
<text x="281.70" y="438.60" font-size="8.40" fill="#111" stroke="#111" stroke-width="0.15">1-5</text>
<text x="281.70" y="455.90" font-size="8.40" fill="#111" stroke="#111" stroke-width="0.15">2-41</text>
<text x="220.10" y="473.50" font-size="8.40" fill="#111" stroke="#111" stroke-width="0.15">21-34</text>
<text x="203.40" y="489.90" font-size="8.40" fill="#111" stroke="#111" stroke-width="0.15">21-3</text>
<text x="200.40" y="507.50" font-size="8.40" fill="#111" stroke="#111" stroke-width="0.15">34-23</text>
<text x="200.40" y="524.80" font-size="8.40" fill="#111" stroke="#111" stroke-width="0.15">33-3</text>
<text x="200.40" y="542.80" font-size="8.40" fill="#111" stroke="#111" stroke-width="0.15">1-4, 2-35</text>
<text x="189.60" y="399.00" font-size="12.20" textLength="15.80" lengthAdjust="spacingAndGlyphs" stroke="#000" stroke-width="0.2">IgK</text>
</g>
<g id="panel-d">
<text transform="translate(-1.20,569.80) scale(0.91,1)" font-size="28.8" stroke="#000" stroke-width="0.5">d</text>
<rect x="38.1" y="572.4" width="89.70" height="97.30" fill="#fff" stroke="#a2a2a2" stroke-width="1.3"/>
<path d="M38.1 669.7H127.8" stroke="#222" stroke-width="1.0"/>
<path d="M38.6 669.4L60.8 669.4L65.2 668.5L69.6 666.6L71.9 664.7L74.1 662.0L76.3 658.2L78.5 654.5L80.7 643.3L82.9 634.0L85.2 624.7L87.4 618.2L88.5 608.9L89.6 593.1L90.5 596.8L91.8 587.5L92.7 591.2L94.0 577.2L94.9 594.9L95.8 593.1L96.7 602.4L98.5 632.2L100.7 655.4L102.5 663.8L104.0 666.6L107.3 669.4" fill="none" stroke="#f4564a" stroke-width="0.55" stroke-linejoin="round"/>
<path d="M38.6 669.4L38.6 654.5L39.3 667.5L39.9 669.4L43.0 664.7L45.3 662.9L47.5 658.2L49.7 652.6L51.9 648.9L54.1 634.0L56.3 615.4L58.1 602.4L59.0 605.2L59.9 594.9L60.8 589.3L61.7 604.2L62.5 591.2L63.4 581.0L64.3 587.5L65.2 598.6L66.5 602.4L67.4 608.9L68.5 618.2L69.6 639.6L71.9 655.4L74.1 664.7L76.3 668.5L78.5 669.4L96.3 669.4L100.7 668.5L105.1 669.4L127.3 669.4" fill="none" stroke="#454545" stroke-width="0.55" stroke-linejoin="round"/>
<line x1="38.10" y1="669.70" x2="38.10" y2="671.90" stroke="#444" stroke-width="0.6"/>
<text x="37.70" y="679.2" font-size="4.6" text-anchor="middle" fill="#333" stroke="#333" stroke-width="0.18">10<tspan dy="-1.8" font-size="3.4">0</tspan></text>
<line x1="44.85" y1="669.70" x2="44.85" y2="670.80" stroke="#555" stroke-width="0.4"/>
<line x1="48.80" y1="669.70" x2="48.80" y2="670.80" stroke="#555" stroke-width="0.4"/>
<line x1="51.60" y1="669.70" x2="51.60" y2="670.80" stroke="#555" stroke-width="0.4"/>
<line x1="53.77" y1="669.70" x2="53.77" y2="670.80" stroke="#555" stroke-width="0.4"/>
<line x1="55.55" y1="669.70" x2="55.55" y2="670.80" stroke="#555" stroke-width="0.4"/>
<line x1="57.05" y1="669.70" x2="57.05" y2="670.80" stroke="#555" stroke-width="0.4"/>
<line x1="58.35" y1="669.70" x2="58.35" y2="670.80" stroke="#555" stroke-width="0.4"/>
<line x1="59.50" y1="669.70" x2="59.50" y2="670.80" stroke="#555" stroke-width="0.4"/>
<line x1="60.52" y1="669.70" x2="60.52" y2="671.90" stroke="#444" stroke-width="0.6"/>
<text x="60.12" y="679.2" font-size="4.6" text-anchor="middle" fill="#333" stroke="#333" stroke-width="0.18">10<tspan dy="-1.8" font-size="3.4">1</tspan></text>
<line x1="67.28" y1="669.70" x2="67.28" y2="670.80" stroke="#555" stroke-width="0.4"/>
<line x1="71.22" y1="669.70" x2="71.22" y2="670.80" stroke="#555" stroke-width="0.4"/>
<line x1="74.03" y1="669.70" x2="74.03" y2="670.80" stroke="#555" stroke-width="0.4"/>
<line x1="76.20" y1="669.70" x2="76.20" y2="670.80" stroke="#555" stroke-width="0.4"/>
<line x1="77.98" y1="669.70" x2="77.98" y2="670.80" stroke="#555" stroke-width="0.4"/>
<line x1="79.48" y1="669.70" x2="79.48" y2="670.80" stroke="#555" stroke-width="0.4"/>
<line x1="80.78" y1="669.70" x2="80.78" y2="670.80" stroke="#555" stroke-width="0.4"/>
<line x1="81.92" y1="669.70" x2="81.92" y2="670.80" stroke="#555" stroke-width="0.4"/>
<line x1="82.95" y1="669.70" x2="82.95" y2="671.90" stroke="#444" stroke-width="0.6"/>
<text x="82.55" y="679.2" font-size="4.6" text-anchor="middle" fill="#333" stroke="#333" stroke-width="0.18">10<tspan dy="-1.8" font-size="3.4">2</tspan></text>
<line x1="89.70" y1="669.70" x2="89.70" y2="670.80" stroke="#555" stroke-width="0.4"/>
<line x1="93.65" y1="669.70" x2="93.65" y2="670.80" stroke="#555" stroke-width="0.4"/>
<line x1="96.45" y1="669.70" x2="96.45" y2="670.80" stroke="#555" stroke-width="0.4"/>
<line x1="98.62" y1="669.70" x2="98.62" y2="670.80" stroke="#555" stroke-width="0.4"/>
<line x1="100.40" y1="669.70" x2="100.40" y2="670.80" stroke="#555" stroke-width="0.4"/>
<line x1="101.90" y1="669.70" x2="101.90" y2="670.80" stroke="#555" stroke-width="0.4"/>
<line x1="103.20" y1="669.70" x2="103.20" y2="670.80" stroke="#555" stroke-width="0.4"/>
<line x1="104.35" y1="669.70" x2="104.35" y2="670.80" stroke="#555" stroke-width="0.4"/>
<line x1="105.38" y1="669.70" x2="105.38" y2="671.90" stroke="#444" stroke-width="0.6"/>
<text x="104.97" y="679.2" font-size="4.6" text-anchor="middle" fill="#333" stroke="#333" stroke-width="0.18">10<tspan dy="-1.8" font-size="3.4">3</tspan></text>
<line x1="112.13" y1="669.70" x2="112.13" y2="670.80" stroke="#555" stroke-width="0.4"/>
<line x1="116.07" y1="669.70" x2="116.07" y2="670.80" stroke="#555" stroke-width="0.4"/>
<line x1="118.88" y1="669.70" x2="118.88" y2="670.80" stroke="#555" stroke-width="0.4"/>
<line x1="121.05" y1="669.70" x2="121.05" y2="670.80" stroke="#555" stroke-width="0.4"/>
<line x1="122.83" y1="669.70" x2="122.83" y2="670.80" stroke="#555" stroke-width="0.4"/>
<line x1="124.33" y1="669.70" x2="124.33" y2="670.80" stroke="#555" stroke-width="0.4"/>
<line x1="125.63" y1="669.70" x2="125.63" y2="670.80" stroke="#555" stroke-width="0.4"/>
<line x1="126.77" y1="669.70" x2="126.77" y2="670.80" stroke="#555" stroke-width="0.4"/>
<line x1="127.80" y1="669.70" x2="127.80" y2="671.90" stroke="#444" stroke-width="0.6"/>
<text x="127.40" y="679.2" font-size="4.6" text-anchor="middle" fill="#333" stroke="#333" stroke-width="0.18">10<tspan dy="-1.8" font-size="3.4">4</tspan></text>
<line x1="36.10" y1="669.40" x2="38.10" y2="669.40" stroke="#444" stroke-width="0.6"/>
<text x="34.80" y="671.00" font-size="4.60" text-anchor="end" fill="#333" stroke="#333" stroke-width="0.18">0</text>
<line x1="36.10" y1="650.78" x2="38.10" y2="650.78" stroke="#444" stroke-width="0.6"/>
<text x="34.80" y="652.38" font-size="4.60" text-anchor="end" fill="#333" stroke="#333" stroke-width="0.18">20</text>
<line x1="36.10" y1="632.16" x2="38.10" y2="632.16" stroke="#444" stroke-width="0.6"/>
<text x="34.80" y="633.76" font-size="4.60" text-anchor="end" fill="#333" stroke="#333" stroke-width="0.18">40</text>
<line x1="36.10" y1="613.54" x2="38.10" y2="613.54" stroke="#444" stroke-width="0.6"/>
<text x="34.80" y="615.14" font-size="4.60" text-anchor="end" fill="#333" stroke="#333" stroke-width="0.18">60</text>
<line x1="36.10" y1="594.92" x2="38.10" y2="594.92" stroke="#444" stroke-width="0.6"/>
<text x="34.80" y="596.52" font-size="4.60" text-anchor="end" fill="#333" stroke="#333" stroke-width="0.18">80</text>
<line x1="36.10" y1="576.30" x2="38.10" y2="576.30" stroke="#444" stroke-width="0.6"/>
<text x="34.80" y="577.90" font-size="4.60" text-anchor="end" fill="#333" stroke="#333" stroke-width="0.18">100</text>
<line x1="37.10" y1="664.75" x2="38.10" y2="664.75" stroke="#555" stroke-width="0.4"/>
<line x1="37.10" y1="660.09" x2="38.10" y2="660.09" stroke="#555" stroke-width="0.4"/>
<line x1="37.10" y1="655.44" x2="38.10" y2="655.44" stroke="#555" stroke-width="0.4"/>
<line x1="37.10" y1="646.13" x2="38.10" y2="646.13" stroke="#555" stroke-width="0.4"/>
<line x1="37.10" y1="641.47" x2="38.10" y2="641.47" stroke="#555" stroke-width="0.4"/>
<line x1="37.10" y1="636.82" x2="38.10" y2="636.82" stroke="#555" stroke-width="0.4"/>
<line x1="37.10" y1="627.51" x2="38.10" y2="627.51" stroke="#555" stroke-width="0.4"/>
<line x1="37.10" y1="622.85" x2="38.10" y2="622.85" stroke="#555" stroke-width="0.4"/>
<line x1="37.10" y1="618.20" x2="38.10" y2="618.20" stroke="#555" stroke-width="0.4"/>
<line x1="37.10" y1="608.89" x2="38.10" y2="608.89" stroke="#555" stroke-width="0.4"/>
<line x1="37.10" y1="604.23" x2="38.10" y2="604.23" stroke="#555" stroke-width="0.4"/>
<line x1="37.10" y1="599.58" x2="38.10" y2="599.58" stroke="#555" stroke-width="0.4"/>
<line x1="37.10" y1="590.27" x2="38.10" y2="590.27" stroke="#555" stroke-width="0.4"/>
<line x1="37.10" y1="585.61" x2="38.10" y2="585.61" stroke="#555" stroke-width="0.4"/>
<line x1="37.10" y1="580.96" x2="38.10" y2="580.96" stroke="#555" stroke-width="0.4"/>
<text x="83.55" y="683.30" font-size="4.10" text-anchor="middle" fill="#222" stroke="#222" stroke-width="0.1">FL5-H</text>
<text x="45.90" y="588.10" font-size="12.20" textLength="20.20" lengthAdjust="spacingAndGlyphs" stroke="#000" stroke-width="0.2">5FG</text>
<rect x="140.5" y="572.4" width="89.30" height="97.30" fill="#fff" stroke="#a2a2a2" stroke-width="1.3"/>
<path d="M140.5 669.7H229.8" stroke="#222" stroke-width="1.0"/>
<path d="M141.0 669.4L141.0 602.4L141.4 658.2L142.8 660.1L144.3 652.6L145.9 650.8L147.2 651.7L148.7 641.5L149.8 638.7L150.9 627.5L152.0 621.0L153.1 613.5L154.2 606.1L155.3 607.0L156.5 599.6L157.8 592.1L158.2 591.2M164.0 591.2L164.2 593.1L164.6 591.2L164.8 598.6L165.3 602.4L166.2 613.5L167.5 624.7L168.4 632.2L169.7 648.9L171.0 656.4L172.6 664.7L174.1 669.4L196.2 669.4L198.4 668.5L205.0 668.5L207.2 669.4L229.3 669.4" fill="none" stroke="#454545" stroke-width="0.55" stroke-linejoin="round"/>
<path d="M141.0 669.4L174.1 669.4L178.5 668.5L181.8 667.5L185.2 667.5L187.4 665.7L189.6 663.8L191.8 660.1L194.0 654.5L196.2 646.1L198.4 627.5L200.6 604.2L202.4 585.6L203.7 580.0L204.6 582.8L205.5 577.2L206.3 591.2L207.2 606.1L208.3 608.9L209.4 611.7L210.5 627.5L211.6 634.0L213.8 648.9L216.1 658.2L218.3 663.8L220.5 666.6L222.7 668.5L226.0 669.4L229.3 669.4" fill="none" stroke="#f4564a" stroke-width="0.55" stroke-linejoin="round"/>
<line x1="140.50" y1="669.70" x2="140.50" y2="671.90" stroke="#444" stroke-width="0.6"/>
<text x="140.10" y="679.2" font-size="4.6" text-anchor="middle" fill="#333" stroke="#333" stroke-width="0.18">10<tspan dy="-1.8" font-size="3.4">0</tspan></text>
<line x1="147.22" y1="669.70" x2="147.22" y2="670.80" stroke="#555" stroke-width="0.4"/>
<line x1="151.15" y1="669.70" x2="151.15" y2="670.80" stroke="#555" stroke-width="0.4"/>
<line x1="153.94" y1="669.70" x2="153.94" y2="670.80" stroke="#555" stroke-width="0.4"/>
<line x1="156.10" y1="669.70" x2="156.10" y2="670.80" stroke="#555" stroke-width="0.4"/>
<line x1="157.87" y1="669.70" x2="157.87" y2="670.80" stroke="#555" stroke-width="0.4"/>
<line x1="159.37" y1="669.70" x2="159.37" y2="670.80" stroke="#555" stroke-width="0.4"/>
<line x1="160.66" y1="669.70" x2="160.66" y2="670.80" stroke="#555" stroke-width="0.4"/>
<line x1="161.80" y1="669.70" x2="161.80" y2="670.80" stroke="#555" stroke-width="0.4"/>
<line x1="162.82" y1="669.70" x2="162.82" y2="671.90" stroke="#444" stroke-width="0.6"/>
<text x="162.42" y="679.2" font-size="4.6" text-anchor="middle" fill="#333" stroke="#333" stroke-width="0.18">10<tspan dy="-1.8" font-size="3.4">1</tspan></text>
<line x1="169.55" y1="669.70" x2="169.55" y2="670.80" stroke="#555" stroke-width="0.4"/>
<line x1="173.48" y1="669.70" x2="173.48" y2="670.80" stroke="#555" stroke-width="0.4"/>
<line x1="176.27" y1="669.70" x2="176.27" y2="670.80" stroke="#555" stroke-width="0.4"/>
<line x1="178.43" y1="669.70" x2="178.43" y2="670.80" stroke="#555" stroke-width="0.4"/>
<line x1="180.20" y1="669.70" x2="180.20" y2="670.80" stroke="#555" stroke-width="0.4"/>
<line x1="181.69" y1="669.70" x2="181.69" y2="670.80" stroke="#555" stroke-width="0.4"/>
<line x1="182.99" y1="669.70" x2="182.99" y2="670.80" stroke="#555" stroke-width="0.4"/>
<line x1="184.13" y1="669.70" x2="184.13" y2="670.80" stroke="#555" stroke-width="0.4"/>
<line x1="185.15" y1="669.70" x2="185.15" y2="671.90" stroke="#444" stroke-width="0.6"/>
<text x="184.75" y="679.2" font-size="4.6" text-anchor="middle" fill="#333" stroke="#333" stroke-width="0.18">10<tspan dy="-1.8" font-size="3.4">2</tspan></text>
<line x1="191.87" y1="669.70" x2="191.87" y2="670.80" stroke="#555" stroke-width="0.4"/>
<line x1="195.80" y1="669.70" x2="195.80" y2="670.80" stroke="#555" stroke-width="0.4"/>
<line x1="198.59" y1="669.70" x2="198.59" y2="670.80" stroke="#555" stroke-width="0.4"/>
<line x1="200.75" y1="669.70" x2="200.75" y2="670.80" stroke="#555" stroke-width="0.4"/>
<line x1="202.52" y1="669.70" x2="202.52" y2="670.80" stroke="#555" stroke-width="0.4"/>
<line x1="204.02" y1="669.70" x2="204.02" y2="670.80" stroke="#555" stroke-width="0.4"/>
<line x1="205.31" y1="669.70" x2="205.31" y2="670.80" stroke="#555" stroke-width="0.4"/>
<line x1="206.45" y1="669.70" x2="206.45" y2="670.80" stroke="#555" stroke-width="0.4"/>
<line x1="207.48" y1="669.70" x2="207.48" y2="671.90" stroke="#444" stroke-width="0.6"/>
<text x="207.08" y="679.2" font-size="4.6" text-anchor="middle" fill="#333" stroke="#333" stroke-width="0.18">10<tspan dy="-1.8" font-size="3.4">3</tspan></text>
<line x1="214.20" y1="669.70" x2="214.20" y2="670.80" stroke="#555" stroke-width="0.4"/>
<line x1="218.13" y1="669.70" x2="218.13" y2="670.80" stroke="#555" stroke-width="0.4"/>
<line x1="220.92" y1="669.70" x2="220.92" y2="670.80" stroke="#555" stroke-width="0.4"/>
<line x1="223.08" y1="669.70" x2="223.08" y2="670.80" stroke="#555" stroke-width="0.4"/>
<line x1="224.85" y1="669.70" x2="224.85" y2="670.80" stroke="#555" stroke-width="0.4"/>
<line x1="226.34" y1="669.70" x2="226.34" y2="670.80" stroke="#555" stroke-width="0.4"/>
<line x1="227.64" y1="669.70" x2="227.64" y2="670.80" stroke="#555" stroke-width="0.4"/>
<line x1="228.78" y1="669.70" x2="228.78" y2="670.80" stroke="#555" stroke-width="0.4"/>
<line x1="229.80" y1="669.70" x2="229.80" y2="671.90" stroke="#444" stroke-width="0.6"/>
<text x="229.40" y="679.2" font-size="4.6" text-anchor="middle" fill="#333" stroke="#333" stroke-width="0.18">10<tspan dy="-1.8" font-size="3.4">4</tspan></text>
<line x1="138.50" y1="669.40" x2="140.50" y2="669.40" stroke="#444" stroke-width="0.6"/>
<text x="137.20" y="671.00" font-size="4.60" text-anchor="end" fill="#333" stroke="#333" stroke-width="0.18">0</text>
<line x1="138.50" y1="650.78" x2="140.50" y2="650.78" stroke="#444" stroke-width="0.6"/>
<text x="137.20" y="652.38" font-size="4.60" text-anchor="end" fill="#333" stroke="#333" stroke-width="0.18">20</text>
<line x1="138.50" y1="632.16" x2="140.50" y2="632.16" stroke="#444" stroke-width="0.6"/>
<text x="137.20" y="633.76" font-size="4.60" text-anchor="end" fill="#333" stroke="#333" stroke-width="0.18">40</text>
<line x1="138.50" y1="613.54" x2="140.50" y2="613.54" stroke="#444" stroke-width="0.6"/>
<text x="137.20" y="615.14" font-size="4.60" text-anchor="end" fill="#333" stroke="#333" stroke-width="0.18">60</text>
<line x1="138.50" y1="594.92" x2="140.50" y2="594.92" stroke="#444" stroke-width="0.6"/>
<text x="137.20" y="596.52" font-size="4.60" text-anchor="end" fill="#333" stroke="#333" stroke-width="0.18">80</text>
<line x1="138.50" y1="576.30" x2="140.50" y2="576.30" stroke="#444" stroke-width="0.6"/>
<text x="137.20" y="577.90" font-size="4.60" text-anchor="end" fill="#333" stroke="#333" stroke-width="0.18">100</text>
<line x1="139.50" y1="664.75" x2="140.50" y2="664.75" stroke="#555" stroke-width="0.4"/>
<line x1="139.50" y1="660.09" x2="140.50" y2="660.09" stroke="#555" stroke-width="0.4"/>
<line x1="139.50" y1="655.44" x2="140.50" y2="655.44" stroke="#555" stroke-width="0.4"/>
<line x1="139.50" y1="646.13" x2="140.50" y2="646.13" stroke="#555" stroke-width="0.4"/>
<line x1="139.50" y1="641.47" x2="140.50" y2="641.47" stroke="#555" stroke-width="0.4"/>
<line x1="139.50" y1="636.82" x2="140.50" y2="636.82" stroke="#555" stroke-width="0.4"/>
<line x1="139.50" y1="627.51" x2="140.50" y2="627.51" stroke="#555" stroke-width="0.4"/>
<line x1="139.50" y1="622.85" x2="140.50" y2="622.85" stroke="#555" stroke-width="0.4"/>
<line x1="139.50" y1="618.20" x2="140.50" y2="618.20" stroke="#555" stroke-width="0.4"/>
<line x1="139.50" y1="608.89" x2="140.50" y2="608.89" stroke="#555" stroke-width="0.4"/>
<line x1="139.50" y1="604.23" x2="140.50" y2="604.23" stroke="#555" stroke-width="0.4"/>
<line x1="139.50" y1="599.58" x2="140.50" y2="599.58" stroke="#555" stroke-width="0.4"/>
<line x1="139.50" y1="590.27" x2="140.50" y2="590.27" stroke="#555" stroke-width="0.4"/>
<line x1="139.50" y1="585.61" x2="140.50" y2="585.61" stroke="#555" stroke-width="0.4"/>
<line x1="139.50" y1="580.96" x2="140.50" y2="580.96" stroke="#555" stroke-width="0.4"/>
<text x="185.75" y="683.30" font-size="4.10" text-anchor="middle" fill="#222" stroke="#222" stroke-width="0.1">FL5-H</text>
<text x="146.50" y="588.10" font-size="12.20" textLength="23.10" lengthAdjust="spacingAndGlyphs" stroke="#000" stroke-width="0.2">21-3</text>
<rect x="244.5" y="572.4" width="89.30" height="97.30" fill="#fff" stroke="#a2a2a2" stroke-width="1.3"/>
<path d="M244.5 669.7H333.8" stroke="#222" stroke-width="1.0"/>
<path d="M245.0 669.4L245.0 613.5L245.4 665.7L247.2 664.7L249.4 660.1L251.6 658.2L253.8 650.8L256.0 644.3L257.1 645.2L258.2 630.3L259.3 627.5L260.5 618.2L262.7 604.2L264.9 596.8L266.4 592.1L266.9 591.2M269.9 591.2L270.2 594.0L271.5 602.4L272.4 608.9L273.7 624.7L274.4 636.8L275.5 650.8L276.6 655.4L278.1 662.0L279.7 667.5L281.4 669.4L288.0 669.4L290.3 668.5L292.5 669.4L333.3 669.4" fill="none" stroke="#454545" stroke-width="0.55" stroke-linejoin="round"/>
<path d="M245.0 669.4L272.6 669.4L274.1 667.5L275.9 666.6L278.1 667.5L280.3 665.7L282.5 663.8L284.7 660.1L286.9 652.6L288.5 648.0L289.8 651.7L290.9 649.8L292.5 639.6L293.6 632.2L295.8 611.7L297.5 590.3L298.9 580.0L300.2 577.2L301.3 583.7L302.4 585.6L303.5 593.1L304.6 613.5L305.7 627.5L306.8 636.8L309.0 655.4L311.2 664.7L313.4 668.5L315.6 669.4L333.3 669.4" fill="none" stroke="#f4564a" stroke-width="0.55" stroke-linejoin="round"/>
<line x1="244.50" y1="669.70" x2="244.50" y2="671.90" stroke="#444" stroke-width="0.6"/>
<text x="244.10" y="679.2" font-size="4.6" text-anchor="middle" fill="#333" stroke="#333" stroke-width="0.18">10<tspan dy="-1.8" font-size="3.4">0</tspan></text>
<line x1="251.22" y1="669.70" x2="251.22" y2="670.80" stroke="#555" stroke-width="0.4"/>
<line x1="255.15" y1="669.70" x2="255.15" y2="670.80" stroke="#555" stroke-width="0.4"/>
<line x1="257.94" y1="669.70" x2="257.94" y2="670.80" stroke="#555" stroke-width="0.4"/>
<line x1="260.10" y1="669.70" x2="260.10" y2="670.80" stroke="#555" stroke-width="0.4"/>
<line x1="261.87" y1="669.70" x2="261.87" y2="670.80" stroke="#555" stroke-width="0.4"/>
<line x1="263.37" y1="669.70" x2="263.37" y2="670.80" stroke="#555" stroke-width="0.4"/>
<line x1="264.66" y1="669.70" x2="264.66" y2="670.80" stroke="#555" stroke-width="0.4"/>
<line x1="265.80" y1="669.70" x2="265.80" y2="670.80" stroke="#555" stroke-width="0.4"/>
<line x1="266.82" y1="669.70" x2="266.82" y2="671.90" stroke="#444" stroke-width="0.6"/>
<text x="266.43" y="679.2" font-size="4.6" text-anchor="middle" fill="#333" stroke="#333" stroke-width="0.18">10<tspan dy="-1.8" font-size="3.4">1</tspan></text>
<line x1="273.55" y1="669.70" x2="273.55" y2="670.80" stroke="#555" stroke-width="0.4"/>
<line x1="277.48" y1="669.70" x2="277.48" y2="670.80" stroke="#555" stroke-width="0.4"/>
<line x1="280.27" y1="669.70" x2="280.27" y2="670.80" stroke="#555" stroke-width="0.4"/>
<line x1="282.43" y1="669.70" x2="282.43" y2="670.80" stroke="#555" stroke-width="0.4"/>
<line x1="284.20" y1="669.70" x2="284.20" y2="670.80" stroke="#555" stroke-width="0.4"/>
<line x1="285.69" y1="669.70" x2="285.69" y2="670.80" stroke="#555" stroke-width="0.4"/>
<line x1="286.99" y1="669.70" x2="286.99" y2="670.80" stroke="#555" stroke-width="0.4"/>
<line x1="288.13" y1="669.70" x2="288.13" y2="670.80" stroke="#555" stroke-width="0.4"/>
<line x1="289.15" y1="669.70" x2="289.15" y2="671.90" stroke="#444" stroke-width="0.6"/>
<text x="288.75" y="679.2" font-size="4.6" text-anchor="middle" fill="#333" stroke="#333" stroke-width="0.18">10<tspan dy="-1.8" font-size="3.4">2</tspan></text>
<line x1="295.87" y1="669.70" x2="295.87" y2="670.80" stroke="#555" stroke-width="0.4"/>
<line x1="299.80" y1="669.70" x2="299.80" y2="670.80" stroke="#555" stroke-width="0.4"/>
<line x1="302.59" y1="669.70" x2="302.59" y2="670.80" stroke="#555" stroke-width="0.4"/>
<line x1="304.75" y1="669.70" x2="304.75" y2="670.80" stroke="#555" stroke-width="0.4"/>
<line x1="306.52" y1="669.70" x2="306.52" y2="670.80" stroke="#555" stroke-width="0.4"/>
<line x1="308.02" y1="669.70" x2="308.02" y2="670.80" stroke="#555" stroke-width="0.4"/>
<line x1="309.31" y1="669.70" x2="309.31" y2="670.80" stroke="#555" stroke-width="0.4"/>
<line x1="310.45" y1="669.70" x2="310.45" y2="670.80" stroke="#555" stroke-width="0.4"/>
<line x1="311.48" y1="669.70" x2="311.48" y2="671.90" stroke="#444" stroke-width="0.6"/>
<text x="311.08" y="679.2" font-size="4.6" text-anchor="middle" fill="#333" stroke="#333" stroke-width="0.18">10<tspan dy="-1.8" font-size="3.4">3</tspan></text>
<line x1="318.20" y1="669.70" x2="318.20" y2="670.80" stroke="#555" stroke-width="0.4"/>
<line x1="322.13" y1="669.70" x2="322.13" y2="670.80" stroke="#555" stroke-width="0.4"/>
<line x1="324.92" y1="669.70" x2="324.92" y2="670.80" stroke="#555" stroke-width="0.4"/>
<line x1="327.08" y1="669.70" x2="327.08" y2="670.80" stroke="#555" stroke-width="0.4"/>
<line x1="328.85" y1="669.70" x2="328.85" y2="670.80" stroke="#555" stroke-width="0.4"/>
<line x1="330.34" y1="669.70" x2="330.34" y2="670.80" stroke="#555" stroke-width="0.4"/>
<line x1="331.64" y1="669.70" x2="331.64" y2="670.80" stroke="#555" stroke-width="0.4"/>
<line x1="332.78" y1="669.70" x2="332.78" y2="670.80" stroke="#555" stroke-width="0.4"/>
<line x1="333.80" y1="669.70" x2="333.80" y2="671.90" stroke="#444" stroke-width="0.6"/>
<text x="333.40" y="679.2" font-size="4.6" text-anchor="middle" fill="#333" stroke="#333" stroke-width="0.18">10<tspan dy="-1.8" font-size="3.4">4</tspan></text>
<line x1="242.50" y1="669.40" x2="244.50" y2="669.40" stroke="#444" stroke-width="0.6"/>
<text x="241.20" y="671.00" font-size="4.60" text-anchor="end" fill="#333" stroke="#333" stroke-width="0.18">0</text>
<line x1="242.50" y1="650.78" x2="244.50" y2="650.78" stroke="#444" stroke-width="0.6"/>
<text x="241.20" y="652.38" font-size="4.60" text-anchor="end" fill="#333" stroke="#333" stroke-width="0.18">20</text>
<line x1="242.50" y1="632.16" x2="244.50" y2="632.16" stroke="#444" stroke-width="0.6"/>
<text x="241.20" y="633.76" font-size="4.60" text-anchor="end" fill="#333" stroke="#333" stroke-width="0.18">40</text>
<line x1="242.50" y1="613.54" x2="244.50" y2="613.54" stroke="#444" stroke-width="0.6"/>
<text x="241.20" y="615.14" font-size="4.60" text-anchor="end" fill="#333" stroke="#333" stroke-width="0.18">60</text>
<line x1="242.50" y1="594.92" x2="244.50" y2="594.92" stroke="#444" stroke-width="0.6"/>
<text x="241.20" y="596.52" font-size="4.60" text-anchor="end" fill="#333" stroke="#333" stroke-width="0.18">80</text>
<line x1="242.50" y1="576.30" x2="244.50" y2="576.30" stroke="#444" stroke-width="0.6"/>
<text x="241.20" y="577.90" font-size="4.60" text-anchor="end" fill="#333" stroke="#333" stroke-width="0.18">100</text>
<line x1="243.50" y1="664.75" x2="244.50" y2="664.75" stroke="#555" stroke-width="0.4"/>
<line x1="243.50" y1="660.09" x2="244.50" y2="660.09" stroke="#555" stroke-width="0.4"/>
<line x1="243.50" y1="655.44" x2="244.50" y2="655.44" stroke="#555" stroke-width="0.4"/>
<line x1="243.50" y1="646.13" x2="244.50" y2="646.13" stroke="#555" stroke-width="0.4"/>
<line x1="243.50" y1="641.47" x2="244.50" y2="641.47" stroke="#555" stroke-width="0.4"/>
<line x1="243.50" y1="636.82" x2="244.50" y2="636.82" stroke="#555" stroke-width="0.4"/>
<line x1="243.50" y1="627.51" x2="244.50" y2="627.51" stroke="#555" stroke-width="0.4"/>
<line x1="243.50" y1="622.85" x2="244.50" y2="622.85" stroke="#555" stroke-width="0.4"/>
<line x1="243.50" y1="618.20" x2="244.50" y2="618.20" stroke="#555" stroke-width="0.4"/>
<line x1="243.50" y1="608.89" x2="244.50" y2="608.89" stroke="#555" stroke-width="0.4"/>
<line x1="243.50" y1="604.23" x2="244.50" y2="604.23" stroke="#555" stroke-width="0.4"/>
<line x1="243.50" y1="599.58" x2="244.50" y2="599.58" stroke="#555" stroke-width="0.4"/>
<line x1="243.50" y1="590.27" x2="244.50" y2="590.27" stroke="#555" stroke-width="0.4"/>
<line x1="243.50" y1="585.61" x2="244.50" y2="585.61" stroke="#555" stroke-width="0.4"/>
<line x1="243.50" y1="580.96" x2="244.50" y2="580.96" stroke="#555" stroke-width="0.4"/>
<text x="289.75" y="683.30" font-size="4.10" text-anchor="middle" fill="#222" stroke="#222" stroke-width="0.1">FL5-H</text>
<text x="250.50" y="588.10" font-size="12.20" textLength="29.70" lengthAdjust="spacingAndGlyphs" stroke="#000" stroke-width="0.2">21-34</text>
<rect x="347.7" y="572.4" width="89.60" height="97.30" fill="#fff" stroke="#a2a2a2" stroke-width="1.3"/>
<path d="M347.7 669.7H437.3" stroke="#222" stroke-width="1.0"/>
<path d="M348.2 669.4L348.2 618.2L348.6 650.8L349.1 669.4L350.4 669.4L352.6 664.7L353.7 662.0L355.3 662.9L357.1 662.0L359.3 655.4L360.4 651.7L361.5 650.8L363.7 641.5L365.9 627.5L368.1 613.5L369.5 604.2L370.4 602.4L371.2 605.2L372.6 590.3L373.7 577.2L374.6 591.2L375.7 602.4L377.0 601.4L378.1 604.2L379.2 622.9L381.4 646.1L383.0 662.0L384.1 667.5L385.9 669.4L388.1 668.5L389.6 667.5L391.4 668.5L393.6 669.4L436.8 669.4" fill="none" stroke="#454545" stroke-width="0.55" stroke-linejoin="round"/>
<path d="M348.2 669.4L354.8 669.4L359.3 667.5L361.5 666.6L363.7 666.6L365.9 666.6L368.1 662.0L370.4 656.4L372.6 652.6L374.8 636.8L377.0 627.5L378.3 619.1L379.7 622.9L380.8 608.0L381.4 596.8L382.3 577.2L383.2 593.1L384.3 582.8L385.9 585.6L387.2 594.9L388.1 604.2L389.2 615.4L390.3 618.2L391.4 639.6L392.5 656.4L394.7 664.7L396.9 666.6L399.1 668.5L402.5 668.9L405.8 669.4L436.8 669.4" fill="none" stroke="#f4564a" stroke-width="0.55" stroke-linejoin="round"/>
<line x1="347.70" y1="669.70" x2="347.70" y2="671.90" stroke="#444" stroke-width="0.6"/>
<text x="347.30" y="679.2" font-size="4.6" text-anchor="middle" fill="#333" stroke="#333" stroke-width="0.18">10<tspan dy="-1.8" font-size="3.4">0</tspan></text>
<line x1="354.44" y1="669.70" x2="354.44" y2="670.80" stroke="#555" stroke-width="0.4"/>
<line x1="358.39" y1="669.70" x2="358.39" y2="670.80" stroke="#555" stroke-width="0.4"/>
<line x1="361.19" y1="669.70" x2="361.19" y2="670.80" stroke="#555" stroke-width="0.4"/>
<line x1="363.36" y1="669.70" x2="363.36" y2="670.80" stroke="#555" stroke-width="0.4"/>
<line x1="365.13" y1="669.70" x2="365.13" y2="670.80" stroke="#555" stroke-width="0.4"/>
<line x1="366.63" y1="669.70" x2="366.63" y2="670.80" stroke="#555" stroke-width="0.4"/>
<line x1="367.93" y1="669.70" x2="367.93" y2="670.80" stroke="#555" stroke-width="0.4"/>
<line x1="369.08" y1="669.70" x2="369.08" y2="670.80" stroke="#555" stroke-width="0.4"/>
<line x1="370.10" y1="669.70" x2="370.10" y2="671.90" stroke="#444" stroke-width="0.6"/>
<text x="369.70" y="679.2" font-size="4.6" text-anchor="middle" fill="#333" stroke="#333" stroke-width="0.18">10<tspan dy="-1.8" font-size="3.4">1</tspan></text>
<line x1="376.84" y1="669.70" x2="376.84" y2="670.80" stroke="#555" stroke-width="0.4"/>
<line x1="380.79" y1="669.70" x2="380.79" y2="670.80" stroke="#555" stroke-width="0.4"/>
<line x1="383.59" y1="669.70" x2="383.59" y2="670.80" stroke="#555" stroke-width="0.4"/>
<line x1="385.76" y1="669.70" x2="385.76" y2="670.80" stroke="#555" stroke-width="0.4"/>
<line x1="387.53" y1="669.70" x2="387.53" y2="670.80" stroke="#555" stroke-width="0.4"/>
<line x1="389.03" y1="669.70" x2="389.03" y2="670.80" stroke="#555" stroke-width="0.4"/>
<line x1="390.33" y1="669.70" x2="390.33" y2="670.80" stroke="#555" stroke-width="0.4"/>
<line x1="391.48" y1="669.70" x2="391.48" y2="670.80" stroke="#555" stroke-width="0.4"/>
<line x1="392.50" y1="669.70" x2="392.50" y2="671.90" stroke="#444" stroke-width="0.6"/>
<text x="392.10" y="679.2" font-size="4.6" text-anchor="middle" fill="#333" stroke="#333" stroke-width="0.18">10<tspan dy="-1.8" font-size="3.4">2</tspan></text>
<line x1="399.24" y1="669.70" x2="399.24" y2="670.80" stroke="#555" stroke-width="0.4"/>
<line x1="403.19" y1="669.70" x2="403.19" y2="670.80" stroke="#555" stroke-width="0.4"/>
<line x1="405.99" y1="669.70" x2="405.99" y2="670.80" stroke="#555" stroke-width="0.4"/>
<line x1="408.16" y1="669.70" x2="408.16" y2="670.80" stroke="#555" stroke-width="0.4"/>
<line x1="409.93" y1="669.70" x2="409.93" y2="670.80" stroke="#555" stroke-width="0.4"/>
<line x1="411.43" y1="669.70" x2="411.43" y2="670.80" stroke="#555" stroke-width="0.4"/>
<line x1="412.73" y1="669.70" x2="412.73" y2="670.80" stroke="#555" stroke-width="0.4"/>
<line x1="413.88" y1="669.70" x2="413.88" y2="670.80" stroke="#555" stroke-width="0.4"/>
<line x1="414.90" y1="669.70" x2="414.90" y2="671.90" stroke="#444" stroke-width="0.6"/>
<text x="414.50" y="679.2" font-size="4.6" text-anchor="middle" fill="#333" stroke="#333" stroke-width="0.18">10<tspan dy="-1.8" font-size="3.4">3</tspan></text>
<line x1="421.64" y1="669.70" x2="421.64" y2="670.80" stroke="#555" stroke-width="0.4"/>
<line x1="425.59" y1="669.70" x2="425.59" y2="670.80" stroke="#555" stroke-width="0.4"/>
<line x1="428.39" y1="669.70" x2="428.39" y2="670.80" stroke="#555" stroke-width="0.4"/>
<line x1="430.56" y1="669.70" x2="430.56" y2="670.80" stroke="#555" stroke-width="0.4"/>
<line x1="432.33" y1="669.70" x2="432.33" y2="670.80" stroke="#555" stroke-width="0.4"/>
<line x1="433.83" y1="669.70" x2="433.83" y2="670.80" stroke="#555" stroke-width="0.4"/>
<line x1="435.13" y1="669.70" x2="435.13" y2="670.80" stroke="#555" stroke-width="0.4"/>
<line x1="436.28" y1="669.70" x2="436.28" y2="670.80" stroke="#555" stroke-width="0.4"/>
<line x1="437.30" y1="669.70" x2="437.30" y2="671.90" stroke="#444" stroke-width="0.6"/>
<text x="436.90" y="679.2" font-size="4.6" text-anchor="middle" fill="#333" stroke="#333" stroke-width="0.18">10<tspan dy="-1.8" font-size="3.4">4</tspan></text>
<line x1="345.70" y1="669.40" x2="347.70" y2="669.40" stroke="#444" stroke-width="0.6"/>
<text x="344.40" y="671.00" font-size="4.60" text-anchor="end" fill="#333" stroke="#333" stroke-width="0.18">0</text>
<line x1="345.70" y1="650.78" x2="347.70" y2="650.78" stroke="#444" stroke-width="0.6"/>
<text x="344.40" y="652.38" font-size="4.60" text-anchor="end" fill="#333" stroke="#333" stroke-width="0.18">20</text>
<line x1="345.70" y1="632.16" x2="347.70" y2="632.16" stroke="#444" stroke-width="0.6"/>
<text x="344.40" y="633.76" font-size="4.60" text-anchor="end" fill="#333" stroke="#333" stroke-width="0.18">40</text>
<line x1="345.70" y1="613.54" x2="347.70" y2="613.54" stroke="#444" stroke-width="0.6"/>
<text x="344.40" y="615.14" font-size="4.60" text-anchor="end" fill="#333" stroke="#333" stroke-width="0.18">60</text>
<line x1="345.70" y1="594.92" x2="347.70" y2="594.92" stroke="#444" stroke-width="0.6"/>
<text x="344.40" y="596.52" font-size="4.60" text-anchor="end" fill="#333" stroke="#333" stroke-width="0.18">80</text>
<line x1="345.70" y1="576.30" x2="347.70" y2="576.30" stroke="#444" stroke-width="0.6"/>
<text x="344.40" y="577.90" font-size="4.60" text-anchor="end" fill="#333" stroke="#333" stroke-width="0.18">100</text>
<line x1="346.70" y1="664.75" x2="347.70" y2="664.75" stroke="#555" stroke-width="0.4"/>
<line x1="346.70" y1="660.09" x2="347.70" y2="660.09" stroke="#555" stroke-width="0.4"/>
<line x1="346.70" y1="655.44" x2="347.70" y2="655.44" stroke="#555" stroke-width="0.4"/>
<line x1="346.70" y1="646.13" x2="347.70" y2="646.13" stroke="#555" stroke-width="0.4"/>
<line x1="346.70" y1="641.47" x2="347.70" y2="641.47" stroke="#555" stroke-width="0.4"/>
<line x1="346.70" y1="636.82" x2="347.70" y2="636.82" stroke="#555" stroke-width="0.4"/>
<line x1="346.70" y1="627.51" x2="347.70" y2="627.51" stroke="#555" stroke-width="0.4"/>
<line x1="346.70" y1="622.85" x2="347.70" y2="622.85" stroke="#555" stroke-width="0.4"/>
<line x1="346.70" y1="618.20" x2="347.70" y2="618.20" stroke="#555" stroke-width="0.4"/>
<line x1="346.70" y1="608.89" x2="347.70" y2="608.89" stroke="#555" stroke-width="0.4"/>
<line x1="346.70" y1="604.23" x2="347.70" y2="604.23" stroke="#555" stroke-width="0.4"/>
<line x1="346.70" y1="599.58" x2="347.70" y2="599.58" stroke="#555" stroke-width="0.4"/>
<line x1="346.70" y1="590.27" x2="347.70" y2="590.27" stroke="#555" stroke-width="0.4"/>
<line x1="346.70" y1="585.61" x2="347.70" y2="585.61" stroke="#555" stroke-width="0.4"/>
<line x1="346.70" y1="580.96" x2="347.70" y2="580.96" stroke="#555" stroke-width="0.4"/>
<text x="393.10" y="683.30" font-size="4.10" text-anchor="middle" fill="#222" stroke="#222" stroke-width="0.1">FL5-H</text>
<text x="350.60" y="588.10" font-size="12.20" textLength="17.00" lengthAdjust="spacingAndGlyphs" stroke="#000" stroke-width="0.2">1-5</text>
<text transform="translate(26.5,635.2) rotate(-90)" font-size="7.6" textLength="33.2" lengthAdjust="spacingAndGlyphs" fill="#111" stroke="#111" stroke-width="0.25">% of Max</text>
<text x="440.20" y="588.40" font-size="12.10" textLength="33.30" lengthAdjust="spacingAndGlyphs" fill="#f72a26" stroke="#f72a26" stroke-width="0.15">- SV2B</text>
<text x="474.20" y="588.40" font-size="7.60" textLength="19.50" lengthAdjust="spacingAndGlyphs" fill="#f72a26" stroke="#f72a26" stroke-width="0.15">80-88</text>
<text x="440.20" y="603.50" font-size="11.80" textLength="25.30" lengthAdjust="spacingAndGlyphs" stroke="#000" stroke-width="0.2">- HIV</text>
</g>
</svg>
</body>
</html>
